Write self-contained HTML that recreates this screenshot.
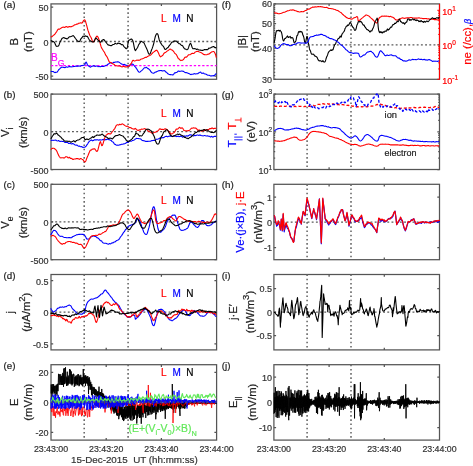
<!DOCTYPE html><html><head><meta charset="utf-8"><style>html,body{margin:0;padding:0;background:#fff;overflow:hidden}svg{display:block;will-change:transform} svg,text{font-family:"Liberation Sans",sans-serif} text{stroke-width:0.2px}</style></head><body><svg width="473" height="466" viewBox="0 0 473 466"><rect x="51" y="3.9" width="165.6" height="75.4" fill="none" stroke="#555555" stroke-width="1.25"/>
<path d="M106.2,79.3 V77.1 M106.2,3.9 V6.1 M161.4,79.3 V77.1 M161.4,3.9 V6.1 M51,7.2 H53.2 M216.6,7.2 H214.4 M51,41.5 H53.2 M216.6,41.5 H214.4 M51,76.1 H53.2 M216.6,76.1 H214.4" stroke="#555555" stroke-width="1.25" fill="none"/>
<path d="M84.2,3.9 V79.3" stroke="#6a6a6a" stroke-width="1.6" stroke-dasharray="1.6,2.6"/>
<path d="M128.1,3.9 V79.3" stroke="#6a6a6a" stroke-width="1.6" stroke-dasharray="1.6,2.6"/>
<path d="M51,41.5 H216.6" stroke="#5a5a5a" stroke-width="1.3" stroke-dasharray="1.9,2.3"/>
<path d="M51,65.6 H216.6" stroke="#ff00ff" stroke-width="1.2" stroke-dasharray="2.3,1.9"/>
<path d="M50.7,71.34 L51.3,71.49 L51.9,71.49 L52.5,71.5 L53.1,71.63 L53.7,71.83 L54.3,72.31 L54.9,72.63 L55.5,72.36 L56.1,72.2 L56.7,72.26 L57.3,71.91 L57.9,71.02 L58.5,70.01 L59.1,69.4 L59.7,68.83 L60.3,68.15 L60.9,67.7 L61.5,67.35 L62.1,67.14 L62.7,67.19 L63.3,67.33 L63.9,67.41 L64.5,67.6 L65.1,67.66 L65.7,67.2 L66.3,66.74 L66.9,66.92 L67.5,67.24 L68.1,67.07 L68.7,66.74 L69.3,66.67 L69.9,66.63 L70.5,66.78 L71.1,66.97 L71.7,66.76 L72.3,66.76 L72.9,66.82 L73.5,66.55 L74.1,66.44 L74.7,66.47 L75.3,66.26 L75.9,66.02 L76.5,66.28 L77.1,66.33 L77.7,66 L78.3,66.08 L78.9,66.02 L79.5,66 L80.1,66.33 L80.7,66.01 L81.3,65.44 L81.9,65.47 L82.5,65.54 L83.1,65.38 L83.7,65.23 L84.3,64.99 L84.9,64.69 L85.5,62.79 L86.1,61.99 L86.7,62.99 L87.3,64.48 L87.9,65.53 L88.5,66.04 L89.1,66.38 L89.7,66.79 L90.3,67.13 L90.9,66.94 L91.5,66.3 L92.1,66.18 L92.7,66.14 L93.3,65.72 L93.9,65.72 L94.5,66.1 L95.1,66.39 L95.7,66.32 L96.3,66.05 L96.9,66.02 L97.5,66.37 L98.1,66.69 L98.7,66.54 L99.3,66.49 L99.9,66.68 L100.5,66.67 L101.1,66.47 L101.7,66.33 L102.3,66.34 L102.9,66.43 L103.5,66.54 L104.1,66.32 L104.7,65.94 L105.3,65.65 L105.9,65.4 L106.5,65.22 L107.1,64.93 L107.7,64.45 L108.3,64.01 L108.9,63.69 L109.5,63.14 L110.1,62.82 L110.7,62.94 L111.3,62.95 L111.9,63.21 L112.5,63.29 L113.1,62.63 L113.7,62.23 L114.3,62.34 L114.9,62.28 L115.5,62.01 L116.1,61.93 L116.7,62.05 L117.3,61.89 L117.9,61.65 L118.5,61.89 L119.1,62.27 L119.7,62.66 L120.3,63.13 L120.9,63.55 L121.5,64.02 L122.1,64.28 L122.7,64.31 L123.3,64.43 L123.9,64.47 L124.5,64.4 L125.1,64.79 L125.7,65.17 L126.3,65.31 L126.9,65.6 L127.5,65.79 L128.1,66.01 L128.7,66.18 L129.3,66.17 L129.9,65.59 L130.5,64.56 L131.1,64.21 L131.7,64.23 L132.3,64.07 L132.9,64.28 L133.5,64.77 L134.1,65.49 L134.7,66.36 L135.3,66.96 L135.9,67.67 L136.5,68.58 L137.1,69.43 L137.7,70.46 L138.3,71.51 L138.9,72.05 L139.5,72.22 L140.1,71.93 L140.7,71.36 L141.3,70.86 L141.9,70.36 L142.5,69.83 L143.1,69.23 L143.7,68.5 L144.3,67.81 L144.9,67.71 L145.5,67.82 L146.1,67.42 L146.7,67.34 L147.3,68.09 L147.9,68.63 L148.5,68.78 L149.1,69.33 L149.7,69.93 L150.3,70.61 L150.9,71.68 L151.5,72.43 L152.1,72.75 L152.7,73.03 L153.3,73.23 L153.9,73.14 L154.5,72.78 L155.1,72.24 L155.7,71.99 L156.3,71.96 L156.9,71.53 L157.5,71.16 L158.1,70.95 L158.7,70.68 L159.3,70.64 L159.9,70.71 L160.5,70.56 L161.1,70.45 L161.7,70.63 L162.3,70.89 L162.9,70.92 L163.5,70.75 L164.1,70.51 L164.7,70.7 L165.3,71.51 L165.9,72.08 L166.5,72.36 L167.1,72.91 L167.7,73.54 L168.3,74.03 L168.9,74.26 L169.5,74.47 L170.1,74.65 L170.7,74.56 L171.3,74.69 L171.9,74.82 L172.5,74.84 L173.1,74.86 L173.7,74.31 L174.3,73.25 L174.9,72.8 L175.5,72.83 L176.1,72.51 L176.7,72.35 L177.3,72.1 L177.9,71.29 L178.5,70.95 L179.1,71.3 L179.7,71.39 L180.3,71.26 L180.9,71.2 L181.5,70.97 L182.1,70.98 L182.7,71.27 L183.3,71.33 L183.9,71.53 L184.5,72.12 L185.1,72.54 L185.7,72.64 L186.3,72.63 L186.9,72.73 L187.5,72.92 L188.1,73.24 L188.7,73.6 L189.3,73.79 L189.9,74.09 L190.5,74.52 L191.1,74.58 L191.7,74.24 L192.3,74.26 L192.9,74.29 L193.5,73.95 L194.1,73.66 L194.7,73.8 L195.3,74.04 L195.9,73.91 L196.5,73.7 L197.1,73.71 L197.7,73.78 L198.3,73.3 L198.9,72.71 L199.5,72.59 L200.1,72.23 L200.7,72.06 L201.3,72.79 L201.9,73.46 L202.5,73.26 L203.1,72.92 L203.7,73.21 L204.3,73.78 L204.9,73.97 L205.5,74.01 L206.1,74.21 L206.7,74.55 L207.3,74.97 L207.9,75.21 L208.5,75.18 L209.1,75.26 L209.7,75.56 L210.3,75.87 L210.9,76.02 L211.5,75.87 L212.1,75.88 L212.7,75.78 L213.3,75.63 L213.9,75.87 L214.5,75.51 L215.1,74.62 L215.7,74.03 L216.3,73.47" fill="none" stroke="#0000ff" stroke-width="1.1" stroke-linejoin="round" />
<path d="M50.7,36.88 L51.3,36.83 L51.9,36.74 L52.5,36.18 L53.1,35.54 L53.7,35.07 L54.3,34.72 L54.9,34.18 L55.5,33.22 L56.1,32.34 L56.7,31.57 L57.3,30.5 L57.9,29.47 L58.5,29.04 L59.1,29.21 L59.7,29.1 L60.3,28.66 L60.9,28.25 L61.5,27.85 L62.1,27.54 L62.7,27.26 L63.3,27.09 L63.9,27.2 L64.5,27.37 L65.1,27.17 L65.7,26.8 L66.3,26.57 L66.9,26.77 L67.5,27.2 L68.1,27.16 L68.7,26.87 L69.3,26.61 L69.9,26.48 L70.5,26.72 L71.1,26.85 L71.7,26.55 L72.3,26.26 L72.9,26.09 L73.5,25.68 L74.1,25.14 L74.7,24.85 L75.3,24.72 L75.9,24.52 L76.5,24.16 L77.1,24.13 L77.7,24.07 L78.3,23.51 L78.9,23.15 L79.5,23.15 L80.1,22.95 L80.7,22.73 L81.3,23.02 L81.9,23.11 L82.5,22.39 L83.1,21.27 L83.7,20.32 L84.3,19.85 L84.9,19.98 L85.5,21.26 L86.1,23.35 L86.7,25.43 L87.3,27.88 L87.9,30.18 L88.5,31.8 L89.1,33.48 L89.7,35.15 L90.3,36.27 L90.9,37.27 L91.5,38.56 L92.1,40.19 L92.7,41.62 L93.3,42.06 L93.9,41.64 L94.5,40.66 L95.1,39.46 L95.7,37.99 L96.3,36.69 L96.9,36.08 L97.5,36.41 L98.1,37.28 L98.7,38.73 L99.3,40.51 L99.9,42.4 L100.5,44.59 L101.1,46.71 L101.7,48.15 L102.3,49.02 L102.9,49.96 L103.5,51.03 L104.1,51.74 L104.7,52.79 L105.3,54.34 L105.9,55.46 L106.5,56.14 L107.1,57 L107.7,58.3 L108.3,59.67 L108.9,61.13 L109.5,62.23 L110.1,62.44 L110.7,62.41 L111.3,62.76 L111.9,63.35 L112.5,63.67 L113.1,63.87 L113.7,64.18 L114.3,64.57 L114.9,65.22 L115.5,65.75 L116.1,65.78 L116.7,65.73 L117.3,65.9 L117.9,66.01 L118.5,66.02 L119.1,66.01 L119.7,65.87 L120.3,66.09 L120.9,66.57 L121.5,66.71 L122.1,66.84 L122.7,66.8 L123.3,66.37 L123.9,66.41 L124.5,66.82 L125.1,66.9 L125.7,66.9 L126.3,67.01 L126.9,66.73 L127.5,66.21 L128.1,66.16 L128.7,66.34 L129.3,65.77 L129.9,64.9 L130.5,64.46 L131.1,63.69 L131.7,62.42 L132.3,61.16 L132.9,60.34 L133.5,60.39 L134.1,60.94 L134.7,60.99 L135.3,60.77 L135.9,60.52 L136.5,60.23 L137.1,60.02 L137.7,60.23 L138.3,60.36 L138.9,60.12 L139.5,60.15 L140.1,59.89 L140.7,59.31 L141.3,59.07 L141.9,58.98 L142.5,58.8 L143.1,58.46 L143.7,58.15 L144.3,57.91 L144.9,57.51 L145.5,57.25 L146.1,57.38 L146.7,57.19 L147.3,56.61 L147.9,56.31 L148.5,55.98 L149.1,55.72 L149.7,55.58 L150.3,55.27 L150.9,54.83 L151.5,54.13 L152.1,53.5 L152.7,52.87 L153.3,52.26 L153.9,51.89 L154.5,51.47 L155.1,51.06 L155.7,50.54 L156.3,50.15 L156.9,50.37 L157.5,51.13 L158.1,52.2 L158.7,53.53 L159.3,55.02 L159.9,56.2 L160.5,56.82 L161.1,56.5 L161.7,55.91 L162.3,55.75 L162.9,55.2 L163.5,54.01 L164.1,53.19 L164.7,52.76 L165.3,52.46 L165.9,52.19 L166.5,51.59 L167.1,51.13 L167.7,50.82 L168.3,50.36 L168.9,49.94 L169.5,49.44 L170.1,48.95 L170.7,49.17 L171.3,49.8 L171.9,49.98 L172.5,50.25 L173.1,50.84 L173.7,51.53 L174.3,52.54 L174.9,53.49 L175.5,53.82 L176.1,54.32 L176.7,55.29 L177.3,56.46 L177.9,57.85 L178.5,58.74 L179.1,59 L179.7,59.46 L180.3,60.34 L180.9,60.62 L181.5,60.25 L182.1,60.2 L182.7,60.12 L183.3,59.65 L183.9,58.82 L184.5,57.93 L185.1,57.17 L185.7,56.95 L186.3,57.15 L186.9,56.8 L187.5,56.02 L188.1,55.27 L188.7,54.79 L189.3,54.75 L189.9,54.68 L190.5,54.39 L191.1,53.94 L191.7,53.51 L192.3,53.36 L192.9,53.4 L193.5,53.54 L194.1,53.32 L194.7,52.53 L195.3,51.96 L195.9,51.76 L196.5,51.53 L197.1,51.41 L197.7,51.41 L198.3,51.49 L198.9,51.81 L199.5,52.1 L200.1,52.33 L200.7,52.55 L201.3,52.71 L201.9,53.06 L202.5,53.56 L203.1,54.04 L203.7,54.5 L204.3,54.65 L204.9,54.67 L205.5,54.82 L206.1,54.78 L206.7,54.74 L207.3,54.49 L207.9,54.1 L208.5,54.11 L209.1,53.99 L209.7,53.5 L210.3,53 L210.9,52.51 L211.5,52.08 L212.1,51.82 L212.7,51.66 L213.3,51.49 L213.9,51.55 L214.5,52.24 L215.1,53.45 L215.7,55.19 L216.3,57.57" fill="none" stroke="#ff0000" stroke-width="1.1" stroke-linejoin="round" />
<path d="M50.7,40.82 L51.3,40.67 L51.9,41.04 L52.5,41.44 L53.1,41.64 L53.7,41.84 L54.3,42.16 L54.9,43.29 L55.5,44.83 L56.1,45.98 L56.7,46.34 L57.3,46.26 L57.9,46.3 L58.5,45.89 L59.1,44.69 L59.7,42.92 L60.3,41.41 L60.9,40.61 L61.5,39.37 L62.1,38.27 L62.7,38.12 L63.3,37.79 L63.9,37.53 L64.5,37.98 L65.1,38.39 L65.7,38.29 L66.3,38.47 L66.9,38.97 L67.5,38.83 L68.1,38.14 L68.7,37.45 L69.3,36.89 L69.9,36.71 L70.5,36.74 L71.1,36.49 L71.7,36.23 L72.3,35.97 L72.9,35.6 L73.5,35.78 L74.1,36.51 L74.7,37.34 L75.3,38.24 L75.9,39 L76.5,39.81 L77.1,40.65 L77.7,40.99 L78.3,41.34 L78.9,41.74 L79.5,41.5 L80.1,40.43 L80.7,39.15 L81.3,38.31 L81.9,37.73 L82.5,36.89 L83.1,36.15 L83.7,36.19 L84.3,36.41 L84.9,36.12 L85.5,35.87 L86.1,36.23 L86.7,36.4 L87.3,36.37 L87.9,37.3 L88.5,38.54 L89.1,39.47 L89.7,40.35 L90.3,40.83 L90.9,41.08 L91.5,41.55 L92.1,41.9 L92.7,41.84 L93.3,41.77 L93.9,41.65 L94.5,40.68 L95.1,39.02 L95.7,38.09 L96.3,38.33 L96.9,38.9 L97.5,39.52 L98.1,40.15 L98.7,40.52 L99.3,41.06 L99.9,41.79 L100.5,42.27 L101.1,41.87 L101.7,40.72 L102.3,40.1 L102.9,39.97 L103.5,39.54 L104.1,39.66 L104.7,40.67 L105.3,41.55 L105.9,42.09 L106.5,42.84 L107.1,43.75 L107.7,44.52 L108.3,45.04 L108.9,45.1 L109.5,45.26 L110.1,45.55 L110.7,45.6 L111.3,45.67 L111.9,45.35 L112.5,44.8 L113.1,44.55 L113.7,44.43 L114.3,44.18 L114.9,43.6 L115.5,43.36 L116.1,43.76 L116.7,44.07 L117.3,43.74 L117.9,43.16 L118.5,43.22 L119.1,43.6 L119.7,43.48 L120.3,43.52 L120.9,44.21 L121.5,44.71 L122.1,44.64 L122.7,44.7 L123.3,45.51 L123.9,46.56 L124.5,47.14 L125.1,47.73 L125.7,48.44 L126.3,48.73 L126.9,48.45 L127.5,46.88 L128.1,42.69 L128.7,40.5 L129.3,39.99 L129.9,39.87 L130.5,39.43 L131.1,38.99 L131.7,39.12 L132.3,39.77 L132.9,40.9 L133.5,43.32 L134.1,46.61 L134.7,49.27 L135.3,50.65 L135.9,50.12 L136.5,48.93 L137.1,48.24 L137.7,47.31 L138.3,45.64 L138.9,44.33 L139.5,43.58 L140.1,42.65 L140.7,41.63 L141.3,41.2 L141.9,41.66 L142.5,42.1 L143.1,42.37 L143.7,42.72 L144.3,43.4 L144.9,44.85 L145.5,46.25 L146.1,47.4 L146.7,48.77 L147.3,50.14 L147.9,51.8 L148.5,53.49 L149.1,54.28 L149.7,54.12 L150.3,53.38 L150.9,51.76 L151.5,50 L152.1,48.65 L152.7,46.91 L153.3,44.97 L153.9,42.87 L154.5,40.01 L155.1,37.29 L155.7,35.44 L156.3,34.18 L156.9,33.66 L157.5,33.74 L158.1,34.98 L158.7,37.62 L159.3,40 L159.9,41.65 L160.5,42.75 L161.1,43.64 L161.7,44.56 L162.3,45.34 L162.9,45.9 L163.5,46.53 L164.1,47.72 L164.7,48.99 L165.3,49.49 L165.9,49.29 L166.5,48.65 L167.1,48.11 L167.7,47.82 L168.3,47.09 L168.9,46.13 L169.5,45.37 L170.1,44.61 L170.7,43.8 L171.3,42.94 L171.9,42.11 L172.5,41.96 L173.1,41.99 L173.7,41.34 L174.3,40.9 L174.9,41.11 L175.5,41.1 L176.1,40.94 L176.7,41.43 L177.3,42.21 L177.9,42.62 L178.5,43.17 L179.1,43.72 L179.7,43.83 L180.3,44.07 L180.9,44.79 L181.5,45.34 L182.1,45.39 L182.7,45.89 L183.3,46.91 L183.9,47.89 L184.5,48.75 L185.1,49.07 L185.7,49.1 L186.3,49.55 L186.9,49.7 L187.5,49.47 L188.1,48.84 L188.7,47.16 L189.3,45.2 L189.9,43.94 L190.5,43.4 L191.1,44.09 L191.7,46.09 L192.3,47.8 L192.9,48.73 L193.5,48.68 L194.1,48.43 L194.7,48.62 L195.3,48.79 L195.9,49.05 L196.5,49.43 L197.1,49.25 L197.7,49.15 L198.3,49.7 L198.9,49.98 L199.5,50 L200.1,50.11 L200.7,50.16 L201.3,50.26 L201.9,50.42 L202.5,50.36 L203.1,50.22 L203.7,49.93 L204.3,49.53 L204.9,49.6 L205.5,49.78 L206.1,49.6 L206.7,49.54 L207.3,49.82 L207.9,49.43 L208.5,48.48 L209.1,48.08 L209.7,48.17 L210.3,48.03 L210.9,47.65 L211.5,47.35 L212.1,47.11 L212.7,46.88 L213.3,46.56 L213.9,46.62 L214.5,47.33 L215.1,47.72 L215.7,47.58 L216.3,48.11" fill="none" stroke="#000000" stroke-width="1.1" stroke-linejoin="round" />
<text x="50.9" y="60.6" font-size="10" fill="#ff00ff" stroke="#ff00ff" text-anchor="start" >B</text>
<text x="57.8" y="65.7" font-size="8.6" fill="#ff00ff" stroke="#ff00ff" text-anchor="start" >G</text>
<text x="163.9" y="22.1" font-size="10" fill="#ff0000" stroke="#ff0000" text-anchor="middle" >L</text>
<text x="176.6" y="22.1" font-size="10" fill="#0000ff" stroke="#0000ff" text-anchor="middle" >M</text>
<text x="189.9" y="22.1" font-size="10" fill="#000" stroke="#000" text-anchor="middle" >N</text>
<text x="48.6" y="11.2" font-size="9" fill="#333" stroke="#333" text-anchor="end" >50</text>
<text x="48.6" y="45.5" font-size="9" fill="#333" stroke="#333" text-anchor="end" >0</text>
<text x="48.6" y="80.1" font-size="9" fill="#333" stroke="#333" text-anchor="end" >-50</text>
<rect x="51" y="94.1" width="165.6" height="75.4" fill="none" stroke="#555555" stroke-width="1.25"/>
<path d="M106.2,169.5 V167.3 M106.2,94.1 V96.3 M161.4,169.5 V167.3 M161.4,94.1 V96.3 M51,94.1 H53.2 M216.6,94.1 H214.4 M51,131.6 H53.2 M216.6,131.6 H214.4 M51,169.5 H53.2 M216.6,169.5 H214.4" stroke="#555555" stroke-width="1.25" fill="none"/>
<path d="M84.2,94.1 V169.5" stroke="#6a6a6a" stroke-width="1.6" stroke-dasharray="1.6,2.6"/>
<path d="M128.1,94.1 V169.5" stroke="#6a6a6a" stroke-width="1.6" stroke-dasharray="1.6,2.6"/>
<path d="M51,131.6 H216.6" stroke="#5a5a5a" stroke-width="1.3" stroke-dasharray="1.9,2.3"/>
<path d="M50.7,140.29 L51.3,140.4 L51.9,140.26 L52.5,140.29 L53.1,140.42 L53.7,140.29 L54.3,140.28 L54.9,140.25 L55.5,140.04 L56.1,140.18 L56.7,140.64 L57.3,140.92 L57.9,140.77 L58.5,140.55 L59.1,140.9 L59.7,141.41 L60.3,141.5 L60.9,141.28 L61.5,141.27 L62.1,141.48 L62.7,141.38 L63.3,141.22 L63.9,141.62 L64.5,142.19 L65.1,142.4 L65.7,142.4 L66.3,142.42 L66.9,142.51 L67.5,142.51 L68.1,142.9 L68.7,143.56 L69.3,143.45 L69.9,143.13 L70.5,143.29 L71.1,143.72 L71.7,143.94 L72.3,143.64 L72.9,143.47 L73.5,143.88 L74.1,144.32 L74.7,144.69 L75.3,145.05 L75.9,145.18 L76.5,145.1 L77.1,145.08 L77.7,145.66 L78.3,146.22 L78.9,146.18 L79.5,146.1 L80.1,146.45 L80.7,146.76 L81.3,146.63 L81.9,146.79 L82.5,147.27 L83.1,147.41 L83.7,147.32 L84.3,147.25 L84.9,147.11 L85.5,146.8 L86.1,146.13 L86.7,145.19 L87.3,144.45 L87.9,143.52 L88.5,142.29 L89.1,141.56 L89.7,141.06 L90.3,140.47 L90.9,140.11 L91.5,140.03 L92.1,140.43 L92.7,140.85 L93.3,140.58 L93.9,140.04 L94.5,139.89 L95.1,139.83 L95.7,139.92 L96.3,139.92 L96.9,139.69 L97.5,139.8 L98.1,140.02 L98.7,140.11 L99.3,139.9 L99.9,139.67 L100.5,139.87 L101.1,140.03 L101.7,139.96 L102.3,139.85 L102.9,139.42 L103.5,139.21 L104.1,139.68 L104.7,139.88 L105.3,139.64 L105.9,139.61 L106.5,139.61 L107.1,139.31 L107.7,139.14 L108.3,139.47 L108.9,139.67 L109.5,139.69 L110.1,140.03 L110.7,140.18 L111.3,140.56 L111.9,141.43 L112.5,141.79 L113.1,142.02 L113.7,142.84 L114.3,143.86 L114.9,144.39 L115.5,144.55 L116.1,144.93 L116.7,145.19 L117.3,145.17 L117.9,145.24 L118.5,145.18 L119.1,144.95 L119.7,144.83 L120.3,144.82 L120.9,144.62 L121.5,144.26 L122.1,144.19 L122.7,144.23 L123.3,144.03 L123.9,143.86 L124.5,143.69 L125.1,143.53 L125.7,143.24 L126.3,142.66 L126.9,142.33 L127.5,142.33 L128.1,142.51 L128.7,142.09 L129.3,141.08 L129.9,140.87 L130.5,141.21 L131.1,141.23 L131.7,140.93 L132.3,140.58 L132.9,140.42 L133.5,140.24 L134.1,140.01 L134.7,139.57 L135.3,139.02 L135.9,138.76 L136.5,138.4 L137.1,138.52 L137.7,138.47 L138.3,138.45 L138.9,138.71 L139.5,138.75 L140.1,138.72 L140.7,138.98 L141.3,139.57 L141.9,140.18 L142.5,140.46 L143.1,140.6 L143.7,140.82 L144.3,140.9 L144.9,141 L145.5,141.38 L146.1,141.55 L146.7,141.36 L147.3,141.28 L147.9,141.36 L148.5,141.27 L149.1,141.23 L149.7,141.31 L150.3,141.17 L150.9,140.89 L151.5,140.64 L152.1,140.59 L152.7,140.46 L153.3,140.37 L153.9,140.5 L154.5,140.42 L155.1,140.32 L155.7,139.95 L156.3,139.34 L156.9,139.16 L157.5,139.21 L158.1,139.07 L158.7,138.83 L159.3,138.41 L159.9,138.04 L160.5,137.85 L161.1,137.74 L161.7,137.86 L162.3,137.78 L162.9,137.56 L163.5,137.61 L164.1,137.43 L164.7,136.88 L165.3,136.52 L165.9,136.37 L166.5,136.2 L167.1,136.52 L167.7,136.83 L168.3,136.57 L168.9,136.29 L169.5,136.09 L170.1,136.08 L170.7,136.08 L171.3,136.08 L171.9,136.35 L172.5,136.51 L173.1,136.25 L173.7,135.92 L174.3,135.87 L174.9,136.06 L175.5,136.25 L176.1,136.37 L176.7,136.59 L177.3,136.53 L177.9,136.11 L178.5,136.27 L179.1,136.68 L179.7,136.5 L180.3,136.33 L180.9,136.26 L181.5,136.23 L182.1,136.72 L182.7,137.28 L183.3,136.91 L183.9,136.14 L184.5,135.89 L185.1,136.13 L185.7,136.22 L186.3,135.87 L186.9,135.77 L187.5,136.09 L188.1,136.03 L188.7,135.55 L189.3,135.07 L189.9,134.9 L190.5,134.8 L191.1,134.85 L191.7,135.18 L192.3,135.32 L192.9,135.57 L193.5,135.97 L194.1,135.67 L194.7,135.27 L195.3,135.53 L195.9,135.64 L196.5,135.2 L197.1,135.04 L197.7,135.07 L198.3,135.22 L198.9,135.36 L199.5,134.97 L200.1,134.96 L200.7,135.38 L201.3,135.59 L201.9,135.75 L202.5,135.81 L203.1,135.92 L203.7,135.83 L204.3,135.49 L204.9,135.57 L205.5,135.8 L206.1,135.97 L206.7,135.99 L207.3,135.79 L207.9,135.93 L208.5,136.3 L209.1,136.27 L209.7,136.33 L210.3,136.95 L210.9,136.92 L211.5,136.27 L212.1,136.55 L212.7,137.14 L213.3,136.95 L213.9,136.58 L214.5,136.4 L215.1,136.34 L215.7,136.37 L216.3,136.43" fill="none" stroke="#0000ff" stroke-width="1.1" stroke-linejoin="round" />
<path d="M50.7,149.56 L51.3,149.15 L51.9,148.61 L52.5,148.33 L53.1,148.27 L53.7,148.2 L54.3,148.47 L54.9,148.99 L55.5,149.34 L56.1,150.02 L56.7,151.09 L57.3,152.35 L57.9,153.69 L58.5,155.12 L59.1,156.25 L59.7,157.02 L60.3,157.8 L60.9,157.95 L61.5,157.72 L62.1,157.71 L62.7,157.81 L63.3,157.85 L63.9,157.91 L64.5,157.95 L65.1,157.32 L65.7,156.72 L66.3,156.68 L66.9,156.77 L67.5,157.34 L68.1,157.94 L68.7,157.76 L69.3,157.29 L69.9,157.66 L70.5,158.41 L71.1,158.44 L71.7,158.42 L72.3,159.03 L72.9,159.57 L73.5,159.38 L74.1,159 L74.7,159.03 L75.3,159.03 L75.9,158.68 L76.5,158.54 L77.1,158.64 L77.7,158.6 L78.3,158.69 L78.9,159.16 L79.5,159.33 L80.1,158.78 L80.7,158.51 L81.3,158.73 L81.9,159.11 L82.5,159.45 L83.1,159.83 L83.7,160.75 L84.3,161.63 L84.9,161.92 L85.5,161.61 L86.1,160.27 L86.7,158.49 L87.3,156.99 L87.9,155.69 L88.5,154.23 L89.1,152.71 L89.7,151.36 L90.3,150.31 L90.9,150.1 L91.5,149.99 L92.1,149.17 L92.7,148.96 L93.3,149.12 L93.9,148.85 L94.5,148.69 L95.1,149.19 L95.7,150.22 L96.3,151.1 L96.9,151.42 L97.5,150.95 L98.1,149.2 L98.7,146.78 L99.3,144.44 L99.9,142.46 L100.5,141.65 L101.1,143.68 L101.7,145.63 L102.3,145.41 L102.9,144 L103.5,142.06 L104.1,139.83 L104.7,138.11 L105.3,136.72 L105.9,135.45 L106.5,134.86 L107.1,134.49 L107.7,133.94 L108.3,133.48 L108.9,133.49 L109.5,133.85 L110.1,134.08 L110.7,133.83 L111.3,133.13 L111.9,132.28 L112.5,131.51 L113.1,130.74 L113.7,129.8 L114.3,129.07 L114.9,128.31 L115.5,126.92 L116.1,125.7 L116.7,125.12 L117.3,124.72 L117.9,124.78 L118.5,125.16 L119.1,124.73 L119.7,124.2 L120.3,124.54 L120.9,124.71 L121.5,124.2 L122.1,123.88 L122.7,124.03 L123.3,124.38 L123.9,124.81 L124.5,125.26 L125.1,125.66 L125.7,126.04 L126.3,126.38 L126.9,126.27 L127.5,126.1 L128.1,126.6 L128.7,127.12 L129.3,127.39 L129.9,127.69 L130.5,127.6 L131.1,127.77 L131.7,128.45 L132.3,128.67 L132.9,128.69 L133.5,129.01 L134.1,129.22 L134.7,128.79 L135.3,128.34 L135.9,128.88 L136.5,129.69 L137.1,129.93 L137.7,130.38 L138.3,130.54 L138.9,129.96 L139.5,129.83 L140.1,130.14 L140.7,129.59 L141.3,129.04 L141.9,129.23 L142.5,129.21 L143.1,129.02 L143.7,129.03 L144.3,128.77 L144.9,128.65 L145.5,129.11 L146.1,129.42 L146.7,129.49 L147.3,129.83 L147.9,130.64 L148.5,131.31 L149.1,131.4 L149.7,131.68 L150.3,131.93 L150.9,132.18 L151.5,132.75 L152.1,133.22 L152.7,133.34 L153.3,132.98 L153.9,132.45 L154.5,132.25 L155.1,132.24 L155.7,132.12 L156.3,131.78 L156.9,131.29 L157.5,131.04 L158.1,130.79 L158.7,130 L159.3,129.17 L159.9,128.81 L160.5,129.07 L161.1,129.42 L161.7,129.32 L162.3,129.35 L162.9,129.55 L163.5,129.61 L164.1,129.36 L164.7,128.89 L165.3,128.79 L165.9,128.98 L166.5,129.17 L167.1,129.44 L167.7,130.29 L168.3,131.06 L168.9,131.37 L169.5,132.04 L170.1,132.8 L170.7,133.53 L171.3,134.02 L171.9,134.02 L172.5,133.59 L173.1,133.04 L173.7,132.74 L174.3,132.24 L174.9,131.64 L175.5,130.6 L176.1,129.31 L176.7,128.94 L177.3,129.1 L177.9,128.91 L178.5,128.31 L179.1,127.56 L179.7,127.32 L180.3,127.97 L180.9,128.38 L181.5,128.1 L182.1,127.86 L182.7,128.13 L183.3,129.35 L183.9,130.39 L184.5,130.56 L185.1,130.71 L185.7,130.69 L186.3,130.73 L186.9,130.95 L187.5,130.67 L188.1,130.52 L188.7,130.64 L189.3,130.43 L189.9,129.93 L190.5,129.25 L191.1,128.48 L191.7,128.1 L192.3,128.17 L192.9,128.01 L193.5,127.77 L194.1,127.92 L194.7,128.09 L195.3,128.05 L195.9,128.15 L196.5,128.61 L197.1,129.36 L197.7,130.16 L198.3,130.36 L198.9,129.87 L199.5,130.03 L200.1,130.64 L200.7,130.68 L201.3,130.91 L201.9,131.27 L202.5,130.88 L203.1,130.29 L203.7,130.3 L204.3,130.67 L204.9,130.52 L205.5,129.91 L206.1,129.81 L206.7,130.12 L207.3,129.97 L207.9,129.58 L208.5,129.56 L209.1,129.2 L209.7,128.55 L210.3,128.62 L210.9,128.8 L211.5,128.28 L212.1,127.84 L212.7,128.22 L213.3,128.85 L213.9,128.6 L214.5,128.23 L215.1,128.47 L215.7,128.3 L216.3,128.13" fill="none" stroke="#ff0000" stroke-width="1.1" stroke-linejoin="round" />
<path d="M50.7,139.02 L51.3,138.27 L51.9,136.97 L52.5,135.92 L53.1,135.28 L53.7,134.16 L54.3,133.58 L54.9,134.06 L55.5,133.99 L56.1,133.37 L56.7,133.11 L57.3,133.76 L57.9,134.75 L58.5,135.33 L59.1,135.61 L59.7,136.1 L60.3,136.78 L60.9,137.13 L61.5,137.83 L62.1,138.72 L62.7,139.13 L63.3,139.54 L63.9,140.29 L64.5,141.09 L65.1,141.25 L65.7,141.17 L66.3,141.25 L66.9,141.09 L67.5,141.28 L68.1,141.53 L68.7,141.33 L69.3,141.23 L69.9,141.34 L70.5,141.89 L71.1,142.2 L71.7,141.84 L72.3,141.53 L72.9,141.2 L73.5,140.8 L74.1,140.97 L74.7,141.71 L75.3,141.9 L75.9,141.07 L76.5,140.41 L77.1,140.26 L77.7,140.09 L78.3,139.94 L78.9,139.7 L79.5,139.42 L80.1,139.09 L80.7,138.57 L81.3,138.02 L81.9,137.64 L82.5,137.51 L83.1,137.48 L83.7,137.61 L84.3,138.1 L84.9,139.62 L85.5,139.76 L86.1,139.27 L86.7,139 L87.3,139.11 L87.9,139.53 L88.5,139.71 L89.1,139.18 L89.7,138.71 L90.3,138.38 L90.9,137.95 L91.5,137.82 L92.1,137.05 L92.7,136.64 L93.3,137.53 L93.9,137.38 L94.5,136.37 L95.1,136.04 L95.7,135.92 L96.3,135.51 L96.9,135 L97.5,134.97 L98.1,135.19 L98.7,135.23 L99.3,135.13 L99.9,135.16 L100.5,135.16 L101.1,134.74 L101.7,134.33 L102.3,134.07 L102.9,134.58 L103.5,135.44 L104.1,135.77 L104.7,136.21 L105.3,136.54 L105.9,136.68 L106.5,137.1 L107.1,137.51 L107.7,137.95 L108.3,138.52 L108.9,138.64 L109.5,138.27 L110.1,138.14 L110.7,138.32 L111.3,138.37 L111.9,138.71 L112.5,138.85 L113.1,138.17 L113.7,137.34 L114.3,136.78 L114.9,136.25 L115.5,135.82 L116.1,135.59 L116.7,135.47 L117.3,135.47 L117.9,135.39 L118.5,135.04 L119.1,134.59 L119.7,134.62 L120.3,135.08 L120.9,135.36 L121.5,135.56 L122.1,135.79 L122.7,135.99 L123.3,136.24 L123.9,137.18 L124.5,138.03 L125.1,138.29 L125.7,139.29 L126.3,140.38 L126.9,140.81 L127.5,141.36 L128.1,141.65 L128.7,141.45 L129.3,141.17 L129.9,140.67 L130.5,140.09 L131.1,139.65 L131.7,139.19 L132.3,138.65 L132.9,137.68 L133.5,136.81 L134.1,136.54 L134.7,135.88 L135.3,134.58 L135.9,132.86 L136.5,133.22 L137.1,133.88 L137.7,134.09 L138.3,134.25 L138.9,135.43 L139.5,136.09 L140.1,135.66 L140.7,135.84 L141.3,135.96 L141.9,135.64 L142.5,135.05 L143.1,133.92 L143.7,133.22 L144.3,132.6 L144.9,131.29 L145.5,130.19 L146.1,129.53 L146.7,129.29 L147.3,129.26 L147.9,129.14 L148.5,129.19 L149.1,129.45 L149.7,130.06 L150.3,130.31 L150.9,130.48 L151.5,131.46 L152.1,132.42 L152.7,133.59 L153.3,134.89 L153.9,135.71 L154.5,137.24 L155.1,139.46 L155.7,141.3 L156.3,142.85 L156.9,143.66 L157.5,143.89 L158.1,144.12 L158.7,143.86 L159.3,142.49 L159.9,140.48 L160.5,138.61 L161.1,137.07 L161.7,136.17 L162.3,135.46 L162.9,133.92 L163.5,132.27 L164.1,131.49 L164.7,131.17 L165.3,130.65 L165.9,130.01 L166.5,129.85 L167.1,130.07 L167.7,130.3 L168.3,131.24 L168.9,132.59 L169.5,133.48 L170.1,134.45 L170.7,135.41 L171.3,135.77 L171.9,136.13 L172.5,136.59 L173.1,136.33 L173.7,135.89 L174.3,135.89 L174.9,135.6 L175.5,135.12 L176.1,134.98 L176.7,134.6 L177.3,134.15 L177.9,134.29 L178.5,134.47 L179.1,134.24 L179.7,134.12 L180.3,134.54 L180.9,135.1 L181.5,135.27 L182.1,135.49 L182.7,135.89 L183.3,136.09 L183.9,136.69 L184.5,137.35 L185.1,137.33 L185.7,137.62 L186.3,138.19 L186.9,138.22 L187.5,138.28 L188.1,138.7 L188.7,138.52 L189.3,137.76 L189.9,137.45 L190.5,137.23 L191.1,136.74 L191.7,136.22 L192.3,135.79 L192.9,135.26 L193.5,134.51 L194.1,133.99 L194.7,133.42 L195.3,132.68 L195.9,132.52 L196.5,132.54 L197.1,131.92 L197.7,131.26 L198.3,130.93 L198.9,130.74 L199.5,130.88 L200.1,130.82 L200.7,130.35 L201.3,130.35 L201.9,130.5 L202.5,130.22 L203.1,129.93 L203.7,129.64 L204.3,129.52 L204.9,130.03 L205.5,130.5 L206.1,130.12 L206.7,129.78 L207.3,129.93 L207.9,130.34 L208.5,130.81 L209.1,131.33 L209.7,131.82 L210.3,132.03 L210.9,132.26 L211.5,132.45 L212.1,132.34 L212.7,132.22 L213.3,132.48 L213.9,132.7 L214.5,132.19 L215.1,131.58 L215.7,131.16 L216.3,130.15" fill="none" stroke="#000000" stroke-width="1.1" stroke-linejoin="round" />
<text x="163.9" y="117.4" font-size="10" fill="#ff0000" stroke="#ff0000" text-anchor="middle" >L</text>
<text x="176.6" y="117.4" font-size="10" fill="#0000ff" stroke="#0000ff" text-anchor="middle" >M</text>
<text x="189.9" y="117.4" font-size="10" fill="#000" stroke="#000" text-anchor="middle" >N</text>
<text x="48.6" y="98.1" font-size="9" fill="#333" stroke="#333" text-anchor="end" >500</text>
<text x="48.6" y="135.6" font-size="9" fill="#333" stroke="#333" text-anchor="end" >0</text>
<text x="48.6" y="173.5" font-size="9" fill="#333" stroke="#333" text-anchor="end" >-500</text>
<rect x="51" y="184.3" width="165.6" height="75.4" fill="none" stroke="#555555" stroke-width="1.25"/>
<path d="M106.2,259.7 V257.5 M106.2,184.3 V186.5 M161.4,259.7 V257.5 M161.4,184.3 V186.5 M51,184.3 H53.2 M216.6,184.3 H214.4 M51,221.9 H53.2 M216.6,221.9 H214.4 M51,259.7 H53.2 M216.6,259.7 H214.4" stroke="#555555" stroke-width="1.25" fill="none"/>
<path d="M84.2,184.3 V259.7" stroke="#6a6a6a" stroke-width="1.6" stroke-dasharray="1.6,2.6"/>
<path d="M128.1,184.3 V259.7" stroke="#6a6a6a" stroke-width="1.6" stroke-dasharray="1.6,2.6"/>
<path d="M51,221.9 H216.6" stroke="#5a5a5a" stroke-width="1.3" stroke-dasharray="1.9,2.3"/>
<path d="M50.7,235.09 L51.3,234.05 L51.9,233.01 L52.5,231.98 L53.1,230.91 L53.7,230.39 L54.3,230.41 L54.9,230.56 L55.5,230.86 L56.1,231.41 L56.7,232.2 L57.3,233.27 L57.9,234.15 L58.5,234.78 L59.1,235.6 L59.7,236.06 L60.3,236.22 L60.9,236.39 L61.5,236.28 L62.1,236.27 L62.7,236.62 L63.3,237.03 L63.9,237.28 L64.5,237.45 L65.1,237.46 L65.7,237.45 L66.3,237.65 L66.9,237.68 L67.5,237.71 L68.1,237.79 L68.7,237.65 L69.3,237.53 L69.9,237.62 L70.5,237.81 L71.1,237.85 L71.7,237.53 L72.3,236.98 L72.9,236.56 L73.5,236.37 L74.1,236.05 L74.7,235.68 L75.3,235.57 L75.9,235.18 L76.5,234.74 L77.1,234.72 L77.7,234.66 L78.3,234.48 L78.9,234.34 L79.5,234.25 L80.1,234.33 L80.7,234.29 L81.3,234.21 L81.9,234.34 L82.5,234.37 L83.1,234.33 L83.7,234.44 L84.3,234.95 L84.9,235.69 L85.5,236.58 L86.1,237.86 L86.7,238.87 L87.3,239.1 L87.9,238.97 L88.5,239.08 L89.1,238.95 L89.7,238.35 L90.3,237.6 L90.9,236.98 L91.5,236.74 L92.1,236.54 L92.7,236.16 L93.3,235.88 L93.9,235.98 L94.5,236.2 L95.1,236.38 L95.7,236.45 L96.3,236.99 L96.9,237.72 L97.5,237.85 L98.1,238.1 L98.7,238.63 L99.3,239.26 L99.9,240.2 L100.5,240.79 L101.1,240.76 L101.7,241.08 L102.3,242.02 L102.9,242.68 L103.5,243.06 L104.1,243.22 L104.7,243.23 L105.3,243.25 L105.9,243.26 L106.5,243.45 L107.1,243.82 L107.7,244.02 L108.3,244.21 L108.9,243.91 L109.5,243.62 L110.1,243.8 L110.7,243.89 L111.3,243.38 L111.9,242.88 L112.5,242.92 L113.1,242.87 L113.7,242.31 L114.3,241.99 L114.9,241.94 L115.5,241.53 L116.1,240.94 L116.7,240.59 L117.3,240.34 L117.9,240.07 L118.5,239.75 L119.1,239.29 L119.7,238.36 L120.3,237.22 L120.9,236.5 L121.5,235.77 L122.1,234.83 L122.7,233.89 L123.3,232.83 L123.9,232.02 L124.5,231.39 L125.1,230.29 L125.7,229.43 L126.3,229.04 L126.9,228.34 L127.5,227.47 L128.1,226.7 L128.7,226.08 L129.3,225.76 L129.9,225.65 L130.5,225.33 L131.1,224.93 L131.7,224.86 L132.3,224.58 L132.9,224.36 L133.5,224.37 L134.1,223.9 L134.7,223.36 L135.3,222.77 L135.9,221.47 L136.5,220.15 L137.1,219.39 L137.7,218.96 L138.3,218.96 L138.9,219.5 L139.5,220.54 L140.1,221.89 L140.7,223.26 L141.3,225 L141.9,227.02 L142.5,228.58 L143.1,230.22 L143.7,231.95 L144.3,233.01 L144.9,233.76 L145.5,234.32 L146.1,234.45 L146.7,234.27 L147.3,233.24 L147.9,231.19 L148.5,229.09 L149.1,227.18 L149.7,224.51 L150.3,221.2 L150.9,217.62 L151.5,213.94 L152.1,210.87 L152.7,208.51 L153.3,206.93 L153.9,206.66 L154.5,207.94 L155.1,210.79 L155.7,214.51 L156.3,218.49 L156.9,222.47 L157.5,226.24 L158.1,229.05 L158.7,230.58 L159.3,231.53 L159.9,232.17 L160.5,232.34 L161.1,232.03 L161.7,231.21 L162.3,230.53 L162.9,230.14 L163.5,229.59 L164.1,228.87 L164.7,228.03 L165.3,226.85 L165.9,225.21 L166.5,223.34 L167.1,221.75 L167.7,220.6 L168.3,219.72 L168.9,219.01 L169.5,218.26 L170.1,217.55 L170.7,217 L171.3,216.37 L171.9,215.79 L172.5,215.28 L173.1,215.12 L173.7,215.23 L174.3,215.02 L174.9,215.08 L175.5,216.01 L176.1,217.72 L176.7,219.74 L177.3,221.6 L177.9,223.38 L178.5,225.16 L179.1,227.02 L179.7,228.74 L180.3,229.71 L180.9,230.03 L181.5,230.35 L182.1,230.46 L182.7,230.31 L183.3,230.29 L183.9,229.99 L184.5,229.61 L185.1,229.68 L185.7,229.51 L186.3,228.83 L186.9,228.41 L187.5,228.18 L188.1,227.24 L188.7,225.84 L189.3,224.2 L189.9,222.79 L190.5,222.14 L191.1,221.97 L191.7,222.16 L192.3,222.67 L192.9,223.42 L193.5,224.25 L194.1,224.88 L194.7,225.45 L195.3,226.14 L195.9,226.74 L196.5,227.07 L197.1,227.35 L197.7,227.38 L198.3,226.89 L198.9,225.99 L199.5,224.96 L200.1,223.92 L200.7,222.57 L201.3,221.12 L201.9,220.47 L202.5,220.5 L203.1,220.56 L203.7,220.92 L204.3,221.78 L204.9,222.87 L205.5,223.87 L206.1,224.73 L206.7,225.37 L207.3,225.59 L207.9,225.62 L208.5,225.7 L209.1,225.74 L209.7,225.42 L210.3,225.07 L210.9,225 L211.5,224.58 L212.1,223.82 L212.7,223.23 L213.3,222.83 L213.9,222.57 L214.5,222.21 L215.1,221.66 L215.7,221.16 L216.3,220.82" fill="none" stroke="#0000ff" stroke-width="1.1" stroke-linejoin="round" />
<path d="M50.7,236 L51.3,236.11 L51.9,235.87 L52.5,235.32 L53.1,235.29 L53.7,235.64 L54.3,235.94 L54.9,236.31 L55.5,236.91 L56.1,237.78 L56.7,238.83 L57.3,239.72 L57.9,240.51 L58.5,241.33 L59.1,241.85 L59.7,242.39 L60.3,243.16 L60.9,243.64 L61.5,243.86 L62.1,244.17 L62.7,244.09 L63.3,243.55 L63.9,243.43 L64.5,243.7 L65.1,243.43 L65.7,242.68 L66.3,242.18 L66.9,242.01 L67.5,241.8 L68.1,241.6 L68.7,241.56 L69.3,241.44 L69.9,241.54 L70.5,241.86 L71.1,241.89 L71.7,242.01 L72.3,242.34 L72.9,242.45 L73.5,242.4 L74.1,242.41 L74.7,242.68 L75.3,243.15 L75.9,243.17 L76.5,242.99 L77.1,243.28 L77.7,243.7 L78.3,244.05 L78.9,244.45 L79.5,244.5 L80.1,244.33 L80.7,244.34 L81.3,244.57 L81.9,245.12 L82.5,246.12 L83.1,247.26 L83.7,247.87 L84.3,247.86 L84.9,247.82 L85.5,247.35 L86.1,246.13 L86.7,244.82 L87.3,243.61 L87.9,242.29 L88.5,240.79 L89.1,239.48 L89.7,238.5 L90.3,237.52 L90.9,236.64 L91.5,236.05 L92.1,235.88 L92.7,235.76 L93.3,235.44 L93.9,235.47 L94.5,235.59 L95.1,235.44 L95.7,235.25 L96.3,235.21 L96.9,235.45 L97.5,235.43 L98.1,234.85 L98.7,234.21 L99.3,234.11 L99.9,234.41 L100.5,234.37 L101.1,234 L101.7,233.6 L102.3,233.09 L102.9,232.72 L103.5,232.53 L104.1,232.11 L104.7,231.66 L105.3,231.61 L105.9,231.24 L106.5,230.18 L107.1,229.21 L107.7,228.29 L108.3,226.91 L108.9,225.93 L109.5,225.79 L110.1,225.59 L110.7,225.47 L111.3,225.64 L111.9,225.37 L112.5,225.07 L113.1,225.03 L113.7,224.9 L114.3,224.93 L114.9,225.03 L115.5,224.85 L116.1,224.81 L116.7,224.89 L117.3,224.52 L117.9,223.77 L118.5,222.87 L119.1,221.93 L119.7,220.82 L120.3,219.55 L120.9,218.21 L121.5,216.66 L122.1,215.28 L122.7,214.28 L123.3,213.69 L123.9,213.39 L124.5,212.82 L125.1,211.98 L125.7,211.36 L126.3,210.88 L126.9,210.38 L127.5,210.14 L128.1,210.06 L128.7,210.07 L129.3,210.63 L129.9,211.41 L130.5,212.17 L131.1,213.12 L131.7,214.59 L132.3,216.14 L132.9,217.17 L133.5,218.22 L134.1,218.51 L134.7,217.63 L135.3,216.5 L135.9,215.75 L136.5,214.93 L137.1,214.11 L137.7,214.25 L138.3,215.29 L138.9,216.64 L139.5,218.06 L140.1,219.25 L140.7,220.36 L141.3,221.57 L141.9,222.58 L142.5,222.69 L143.1,222.58 L143.7,222.99 L144.3,223.45 L144.9,223.59 L145.5,223.27 L146.1,222.98 L146.7,222.97 L147.3,222.73 L147.9,222.19 L148.5,221.68 L149.1,220.92 L149.7,219.73 L150.3,218.3 L150.9,216.51 L151.5,214.64 L152.1,212.78 L152.7,211.03 L153.3,210.05 L153.9,209.92 L154.5,211.35 L155.1,216.04 L155.7,220.3 L156.3,222.41 L156.9,223.25 L157.5,223.56 L158.1,223.6 L158.7,223.41 L159.3,223.11 L159.9,222.85 L160.5,222.84 L161.1,222.61 L161.7,222.29 L162.3,222.17 L162.9,221.56 L163.5,220.77 L164.1,220.53 L164.7,220.43 L165.3,220.49 L165.9,220.2 L166.5,219.21 L167.1,218.37 L167.7,217.81 L168.3,217.38 L168.9,217.14 L169.5,216.81 L170.1,216.61 L170.7,216.81 L171.3,217.06 L171.9,217.66 L172.5,218.53 L173.1,219.03 L173.7,219.34 L174.3,219.85 L174.9,220.43 L175.5,220.91 L176.1,220.86 L176.7,220 L177.3,218.93 L177.9,217.82 L178.5,216.86 L179.1,216.5 L179.7,216.54 L180.3,216.65 L180.9,216.92 L181.5,217.45 L182.1,217.79 L182.7,218.01 L183.3,218.63 L183.9,219.13 L184.5,219.37 L185.1,219.56 L185.7,219.81 L186.3,220.29 L186.9,220.73 L187.5,220.91 L188.1,221.08 L188.7,221.46 L189.3,221.57 L189.9,221.38 L190.5,221.3 L191.1,221.26 L191.7,221.29 L192.3,221.47 L192.9,221.65 L193.5,221.57 L194.1,221.44 L194.7,221.5 L195.3,221.61 L195.9,221.95 L196.5,222.29 L197.1,222.13 L197.7,221.71 L198.3,221.39 L198.9,221.31 L199.5,221.56 L200.1,221.91 L200.7,222 L201.3,222 L201.9,222.08 L202.5,222.35 L203.1,222.53 L203.7,222.34 L204.3,222.2 L204.9,222.35 L205.5,222.48 L206.1,222.27 L206.7,222.03 L207.3,221.94 L207.9,222.05 L208.5,222.53 L209.1,222.65 L209.7,222.13 L210.3,221.75 L210.9,221.19 L211.5,220.25 L212.1,219.38 L212.7,218.28 L213.3,217.1 L213.9,215.77 L214.5,214.33 L215.1,213.84 L215.7,214.09 L216.3,214.99" fill="none" stroke="#ff0000" stroke-width="1.1" stroke-linejoin="round" />
<path d="M50.7,229.92 L51.3,229.29 L51.9,228.47 L52.5,227.7 L53.1,226.77 L53.7,225.91 L54.3,225.78 L54.9,225.62 L55.5,225 L56.1,224.35 L56.7,223.94 L57.3,224.09 L57.9,224.58 L58.5,225.4 L59.1,226.31 L59.7,226.88 L60.3,227.24 L60.9,227.57 L61.5,228.08 L62.1,228.43 L62.7,228.37 L63.3,228.58 L63.9,228.79 L64.5,228.41 L65.1,228.1 L65.7,228.29 L66.3,228.72 L66.9,228.83 L67.5,228.36 L68.1,227.91 L68.7,227.91 L69.3,227.96 L69.9,227.86 L70.5,228.06 L71.1,228.1 L71.7,227.84 L72.3,227.8 L72.9,227.96 L73.5,227.88 L74.1,227.72 L74.7,227.8 L75.3,227.77 L75.9,227.72 L76.5,227.94 L77.1,228.01 L77.7,227.89 L78.3,227.9 L78.9,228.35 L79.5,229.09 L80.1,229.44 L80.7,229.42 L81.3,229.36 L81.9,229.24 L82.5,229.32 L83.1,229.4 L83.7,229.27 L84.3,229.34 L84.9,229.59 L85.5,229.6 L86.1,229.57 L86.7,229.74 L87.3,229.87 L87.9,229.93 L88.5,229.78 L89.1,229.6 L89.7,229.56 L90.3,229.41 L90.9,229.22 L91.5,229.24 L92.1,229.38 L92.7,229.42 L93.3,229.13 L93.9,228.6 L94.5,228.44 L95.1,228.49 L95.7,228.41 L96.3,228.21 L96.9,228.13 L97.5,228.19 L98.1,227.94 L98.7,227.73 L99.3,227.93 L99.9,227.84 L100.5,227.52 L101.1,227.38 L101.7,227.3 L102.3,227.29 L102.9,227.07 L103.5,226.79 L104.1,226.72 L104.7,226.72 L105.3,226.82 L105.9,226.85 L106.5,226.72 L107.1,226.23 L107.7,225.89 L108.3,226.09 L108.9,226.23 L109.5,226.5 L110.1,226.76 L110.7,226.55 L111.3,226.29 L111.9,226.18 L112.5,226.09 L113.1,225.89 L113.7,225.68 L114.3,225.66 L114.9,225.73 L115.5,225.57 L116.1,225.26 L116.7,224.88 L117.3,224.51 L117.9,224.26 L118.5,224.1 L119.1,223.9 L119.7,223.45 L120.3,222.96 L120.9,222.9 L121.5,223.03 L122.1,222.81 L122.7,222.83 L123.3,223.32 L123.9,223.73 L124.5,224.1 L125.1,224.99 L125.7,226.28 L126.3,227.31 L126.9,228.17 L127.5,228.84 L128.1,229.14 L128.7,229.43 L129.3,229.63 L129.9,229.32 L130.5,228.49 L131.1,227.45 L131.7,226.55 L132.3,225.69 L132.9,224.83 L133.5,224.25 L134.1,223.81 L134.7,223.15 L135.3,221.74 L135.9,219.96 L136.5,218.53 L137.1,218 L137.7,218.63 L138.3,219.93 L138.9,221.37 L139.5,222.82 L140.1,224.18 L140.7,225.52 L141.3,226.85 L141.9,227.76 L142.5,228.04 L143.1,228.1 L143.7,228.14 L144.3,228.12 L144.9,227.55 L145.5,226.27 L146.1,224.88 L146.7,223.78 L147.3,222.71 L147.9,221.55 L148.5,220.53 L149.1,219.6 L149.7,218.82 L150.3,218.38 L150.9,218.2 L151.5,218.58 L152.1,219.81 L152.7,221.89 L153.3,224.54 L153.9,227.21 L154.5,229.53 L155.1,231.1 L155.7,232.05 L156.3,232.67 L156.9,232.89 L157.5,233.02 L158.1,232.8 L158.7,232.18 L159.3,231.81 L159.9,231.5 L160.5,230.95 L161.1,230.49 L161.7,230.14 L162.3,229.56 L162.9,228.69 L163.5,227.52 L164.1,226.1 L164.7,224.52 L165.3,223.1 L165.9,221.84 L166.5,220.57 L167.1,219.5 L167.7,218.93 L168.3,218.97 L168.9,219.22 L169.5,219.47 L170.1,220.05 L170.7,221.19 L171.3,222.24 L171.9,222.75 L172.5,223.38 L173.1,223.88 L173.7,224.16 L174.3,224.79 L174.9,225.47 L175.5,225.82 L176.1,225.69 L176.7,225.44 L177.3,225.37 L177.9,225.22 L178.5,224.9 L179.1,224.5 L179.7,224.06 L180.3,223.91 L180.9,223.98 L181.5,223.82 L182.1,223.28 L182.7,222.81 L183.3,222.58 L183.9,222.4 L184.5,222.16 L185.1,221.75 L185.7,221.27 L186.3,221.08 L186.9,221.01 L187.5,221.01 L188.1,220.91 L188.7,220.66 L189.3,220.54 L189.9,220.72 L190.5,220.97 L191.1,221.46 L191.7,221.7 L192.3,221.84 L192.9,222.4 L193.5,222.85 L194.1,223.11 L194.7,223.61 L195.3,223.73 L195.9,223.56 L196.5,223.83 L197.1,224.09 L197.7,224.2 L198.3,224.23 L198.9,224.01 L199.5,223.87 L200.1,223.85 L200.7,223.9 L201.3,223.87 L201.9,223.67 L202.5,223.72 L203.1,223.96 L203.7,223.96 L204.3,223.68 L204.9,223.29 L205.5,223.21 L206.1,223.32 L206.7,223.29 L207.3,223.27 L207.9,223.3 L208.5,223.15 L209.1,222.95 L209.7,222.91 L210.3,222.82 L210.9,222.69 L211.5,222.68 L212.1,222.52 L212.7,222.21 L213.3,222.02 L213.9,221.97 L214.5,221.9 L215.1,221.67 L215.7,221.39 L216.3,221.14" fill="none" stroke="#000000" stroke-width="1.1" stroke-linejoin="round" />
<text x="163.9" y="203.6" font-size="10" fill="#ff0000" stroke="#ff0000" text-anchor="middle" >L</text>
<text x="176.6" y="203.6" font-size="10" fill="#0000ff" stroke="#0000ff" text-anchor="middle" >M</text>
<text x="189.9" y="203.6" font-size="10" fill="#000" stroke="#000" text-anchor="middle" >N</text>
<text x="48.6" y="188.3" font-size="9" fill="#333" stroke="#333" text-anchor="end" >500</text>
<text x="48.6" y="225.9" font-size="9" fill="#333" stroke="#333" text-anchor="end" >0</text>
<text x="48.6" y="263.7" font-size="9" fill="#333" stroke="#333" text-anchor="end" >-500</text>
<rect x="51" y="274.5" width="165.6" height="75.4" fill="none" stroke="#555555" stroke-width="1.25"/>
<path d="M106.2,349.9 V347.7 M106.2,274.5 V276.7 M161.4,349.9 V347.7 M161.4,274.5 V276.7 M51,280.5 H53.2 M216.6,280.5 H214.4 M51,312.2 H53.2 M216.6,312.2 H214.4 M51,343.8 H53.2 M216.6,343.8 H214.4" stroke="#555555" stroke-width="1.25" fill="none"/>
<path d="M84.2,274.5 V349.9" stroke="#6a6a6a" stroke-width="1.6" stroke-dasharray="1.6,2.6"/>
<path d="M128.1,274.5 V349.9" stroke="#6a6a6a" stroke-width="1.6" stroke-dasharray="1.6,2.6"/>
<path d="M51,312.2 H216.6" stroke="#5a5a5a" stroke-width="1.3" stroke-dasharray="1.9,2.3"/>
<path d="M50.7,308.15 L51.3,309.48 L51.9,310.35 L52.5,311.13 L53.1,312.08 L53.7,312.21 L54.3,311.67 L54.9,311.15 L55.5,310.75 L56.1,310.42 L56.7,309.5 L57.3,308.53 L57.9,308.16 L58.5,308.08 L59.1,307.94 L59.7,307.32 L60.3,306.93 L60.9,307.17 L61.5,307.28 L62.1,307.02 L62.7,306.88 L63.3,307.27 L63.9,307.31 L64.5,306.85 L65.1,306.69 L65.7,306.66 L66.3,306.58 L66.9,306.13 L67.5,305.67 L68.1,305.58 L68.7,305.32 L69.3,305.14 L69.9,305.33 L70.5,305.48 L71.1,306.19 L71.7,307.51 L72.3,308.42 L72.9,309.14 L73.5,309.85 L74.1,310.2 L74.7,310.75 L75.3,311.53 L75.9,312.22 L76.5,312.92 L77.1,313.44 L77.7,313.65 L78.3,313.91 L78.9,314 L79.5,313.92 L80.1,313.97 L80.7,314.09 L81.3,314.29 L81.9,314.24 L82.5,313.78 L83.1,313.31 L83.7,312.92 L84.3,312.25 L84.9,310.91 L85.5,308.5 L86.1,305.72 L86.7,303.96 L87.3,302.75 L87.9,301.77 L88.5,301.19 L89.1,300.56 L89.7,300.04 L90.3,299.66 L90.9,299.21 L91.5,298.94 L92.1,298.98 L92.7,299.17 L93.3,299.01 L93.9,298.7 L94.5,298.58 L95.1,298.3 L95.7,298.06 L96.3,297.89 L96.9,297.73 L97.5,297.54 L98.1,296.81 L98.7,296.18 L99.3,295.97 L99.9,295.47 L100.5,294.61 L101.1,294.02 L101.7,294.04 L102.3,293.84 L102.9,293.05 L103.5,292.15 L104.1,291.11 L104.7,290.33 L105.3,290.13 L105.9,290.3 L106.5,291.06 L107.1,292.12 L107.7,292.73 L108.3,293.24 L108.9,294.15 L109.5,294.98 L110.1,295.76 L110.7,296.7 L111.3,297.36 L111.9,297.91 L112.5,298.96 L113.1,300.01 L113.7,300.52 L114.3,301.22 L114.9,302.07 L115.5,302.5 L116.1,302.76 L116.7,303.34 L117.3,304.14 L117.9,304.76 L118.5,305.11 L119.1,305.78 L119.7,307.02 L120.3,308.24 L120.9,309.23 L121.5,310.32 L122.1,311.53 L122.7,312.56 L123.3,313.2 L123.9,313.65 L124.5,314.32 L125.1,314.88 L125.7,315.33 L126.3,315.96 L126.9,316.43 L127.5,316.74 L128.1,316.94 L128.7,316.95 L129.3,317.09 L129.9,317.14 L130.5,316.97 L131.1,316.54 L131.7,315.75 L132.3,315.23 L132.9,315.18 L133.5,315.22 L134.1,315.23 L134.7,315.27 L135.3,319.17 L135.9,318.93 L136.5,318.19 L137.1,317.67 L137.7,317.48 L138.3,316.74 L138.9,315.81 L139.5,315.18 L140.1,314.5 L140.7,313.67 L141.3,312.73 L141.9,311.63 L142.5,310.93 L143.1,310.84 L143.7,310.46 L144.3,309.74 L144.9,309.26 L145.5,308.99 L146.1,309.13 L146.7,309.77 L147.3,310.49 L147.9,311.37 L148.5,312.72 L149.1,314.26 L149.7,315.65 L150.3,316.78 L150.9,318.37 L151.5,320.88 L152.1,323.32 L152.7,324.74 L153.3,325.57 L153.9,325.72 L154.5,324.64 L155.1,322.45 L155.7,319.79 L156.3,317.25 L156.9,314.63 L157.5,312.38 L158.1,310.84 L158.7,309.81 L159.3,309.55 L159.9,309.59 L160.5,309.38 L161.1,309.23 L161.7,309.34 L162.3,309.69 L162.9,310.22 L163.5,310.78 L164.1,311.43 L164.7,312.31 L165.3,313.25 L165.9,314.02 L166.5,314.82 L167.1,315.91 L167.7,317.14 L168.3,318.18 L168.9,319.09 L169.5,319.68 L170.1,319.96 L170.7,320.1 L171.3,320.33 L171.9,320.81 L172.5,320.75 L173.1,320.08 L173.7,319.62 L174.3,319.25 L174.9,318.66 L175.5,318.38 L176.1,318.22 L176.7,317.57 L177.3,316.82 L177.9,316.07 L178.5,315.12 L179.1,314.27 L179.7,313.39 L180.3,312.56 L180.9,311.89 L181.5,311.34 L182.1,310.94 L182.7,310.54 L183.3,310.23 L183.9,310.08 L184.5,310.26 L185.1,310.63 L185.7,311.37 L186.3,312.63 L186.9,313.65 L187.5,314.44 L188.1,315.22 L188.7,315.56 L189.3,315.63 L189.9,315.53 L190.5,314.83 L191.1,314 L191.7,313.54 L192.3,312.78 L192.9,311.72 L193.5,310.9 L194.1,310.42 L194.7,310.51 L195.3,311.01 L195.9,311.28 L196.5,311.56 L197.1,312.35 L197.7,313.24 L198.3,313.67 L198.9,314.25 L199.5,315.12 L200.1,315.65 L200.7,315.89 L201.3,315.99 L201.9,316 L202.5,316.14 L203.1,316.28 L203.7,316.22 L204.3,316.04 L204.9,315.69 L205.5,315.17 L206.1,314.51 L206.7,313.62 L207.3,312.93 L207.9,312.64 L208.5,312.35 L209.1,312.12 L209.7,311.99 L210.3,311.87 L210.9,312.05 L211.5,312.54 L212.1,312.94 L212.7,313.33 L213.3,313.88 L213.9,314.27 L214.5,314.68 L215.1,315.55 L215.7,316.32 L216.3,316.57" fill="none" stroke="#0000ff" stroke-width="1.1" stroke-linejoin="round" />
<path d="M50.7,315.44 L51.1,315.85 L51.5,315.54 L51.9,315.26 L52.3,315.6 L52.7,315.39 L53.1,314.92 L53.5,315.08 L53.9,315.36 L54.3,315.32 L54.7,315.47 L55.1,315.67 L55.5,315.16 L55.9,315.06 L56.3,315.79 L56.7,316.28 L57.1,316.07 L57.5,315.8 L57.9,316.2 L58.3,316.75 L58.7,316.66 L59.1,316.11 L59.5,316.13 L59.9,316.11 L60.3,315.81 L60.7,316.46 L61.1,317.24 L61.5,317.15 L61.9,317.28 L62.3,318.14 L62.7,318.78 L63.1,318.72 L63.5,318.44 L63.9,318.88 L64.3,319.42 L64.7,319.24 L65.1,319.48 L65.5,320.53 L65.9,320.88 L66.3,319.94 L66.7,319.32 L67.1,319.85 L67.5,320.66 L67.9,321.49 L68.3,322.01 L68.7,321.93 L69.1,321.87 L69.5,321.98 L69.9,321.94 L70.3,321.96 L70.7,322.49 L71.1,323.2 L71.5,322.57 L71.9,321.21 L72.3,320.58 L72.7,320.14 L73.1,319.52 L73.5,319.21 L73.9,319.31 L74.3,319.33 L74.7,318.75 L75.1,318 L75.5,317.53 L75.9,317.55 L76.3,317.86 L76.7,318.16 L77.1,318.21 L77.5,318 L77.9,318.07 L78.3,317.94 L78.7,317.19 L79.1,316.4 L79.5,316.61 L79.9,317.62 L80.3,317.97 L80.7,317.65 L81.1,317.32 L81.5,316.88 L81.9,316.51 L82.3,316.64 L82.7,317 L83.1,316.85 L83.5,316.35 L83.9,316.24 L84.3,316.37 L84.7,316.06 L85.1,315.9 L85.5,316.22 L85.9,315.93 L86.3,315.65 L86.7,315.92 L87.1,315.64 L87.5,315.06 L87.9,314.59 L88.3,314 L88.7,313.37 L89.1,313.36 L89.5,313.68 L89.9,313.52 L90.3,313.52 L90.7,313.32 L91.1,313.05 L91.5,313.42 L91.9,313.82 L92.3,314.38 L92.7,314.78 L93.1,314.87 L93.5,315.05 L93.9,315.6 L94.3,316.81 L94.7,318.13 L95.1,319.44 L95.5,320.94 L95.9,322.01 L96.3,322.43 L96.7,322.07 L97.1,320.89 L97.5,319.67 L97.9,318.17 L98.3,315.99 L98.7,314.65 L99.1,313.28 L99.5,311.01 L99.9,310.07 L100.3,309.6 L100.7,308.98 L101.1,308.41 L101.5,307.27 L101.9,307.17 L102.3,307.24 L102.7,306.18 L103.1,305.14 L103.5,304.35 L103.9,303.83 L104.3,303.44 L104.7,302.78 L105.1,302.66 L105.5,302.64 L105.9,301.98 L106.3,301.88 L106.7,301.94 L107.1,302.03 L107.5,302.74 L107.9,302.78 L108.3,302.44 L108.7,302.82 L109.1,303.18 L109.5,303.56 L109.9,304.05 L110.3,304.52 L110.7,304.96 L111.1,305.17 L111.5,305.42 L111.9,305.53 L112.3,305.32 L112.7,304.77 L113.1,304.13 L113.5,303.92 L113.9,304.23 L114.3,304.64 L114.7,304.75 L115.1,304.24 L115.5,303.46 L115.9,303.2 L116.3,303.41 L116.7,303.99 L117.1,304.87 L117.5,305.21 L117.9,305.13 L118.3,306.02 L118.7,307.46 L119.1,308.13 L119.5,308.75 L119.9,309.6 L120.3,309.89 L120.7,310.13 L121.1,310.27 L121.5,310.62 L121.9,311.44 L122.3,311.71 L122.7,311.91 L123.1,312.64 L123.5,313.4 L123.9,313.76 L124.3,313.63 L124.7,313.62 L125.1,313.96 L125.5,314.39 L125.9,315.12 L126.3,315.69 L126.7,316.21 L127.1,316.88 L127.5,316.9 L127.9,316.72 L128.3,316.62 L128.7,316.74 L129.1,317.19 L129.5,316.99 L129.9,316.45 L130.3,316.68 L130.7,316.86 L131.1,316.62 L131.5,315.95 L131.9,314.92 L132.3,314.93 L132.7,315.55 L133.1,314.9 L133.5,314 L133.9,313.98 L134.3,313.55 L134.7,312.59 L135.1,312.22 L135.5,312.97 L135.9,314.38 L136.3,315.79 L136.7,316.5 L137.1,316.93 L137.5,316.51 L137.9,315.58 L138.3,315.29 L138.7,314.91 L139.1,314.3 L139.5,314.07 L139.9,313.81 L140.3,313.06 L140.7,312.2 L141.1,312.3 L141.5,312.34 L141.9,310.95 L142.3,309.95 L142.7,310.17 L143.1,310.18 L143.5,309.43 L143.9,308.77 L144.3,308.58 L144.7,307.93 L145.1,307.32 L145.5,307.48 L145.9,307.95 L146.3,308.47 L146.7,308.72 L147.1,308.97 L147.5,309.49 L147.9,310.03 L148.3,310.33 L148.7,310.21 L149.1,310.83 L149.5,311.96 L149.9,312.39 L150.3,313.08 L150.7,314.12 L151.1,315.03 L151.5,316.46 L151.9,317.51 L152.3,317.92 L152.7,319.47 L153.1,320.69 L153.5,320.23 L153.9,319.88 L154.3,320.15 L154.7,319.66 L155.1,318.34 L155.5,317.51 L155.9,317.05 L156.3,316.44 L156.7,315.74 L157.1,314.88 L157.5,313.91 L157.9,313.07 L158.3,312.27 L158.7,311.7 L159.1,311.48 L159.5,311.01 L159.9,310.92 L160.3,311.31 L160.7,310.92 L161.1,310.63 L161.5,311.16 L161.9,311.39 L162.3,311.69 L162.7,312.11 L163.1,312.44 L163.5,312.71 L163.9,312.92 L164.3,313.84 L164.7,314.33 L165.1,313.9 L165.5,314.46 L165.9,315.19 L166.3,314.98 L166.7,315.64 L167.1,316.82 L167.5,317.31 L167.9,317.78 L168.3,317.76 L168.7,317.55 L169.1,317.79 L169.5,318.11 L169.9,318.27 L170.3,317.98 L170.7,317.64 L171.1,317.74 L171.5,317.92 L171.9,317.39 L172.3,316.43 L172.7,316.14 L173.1,316.15 L173.5,315.73 L173.9,315.2 L174.3,314.85 L174.7,314.82 L175.1,315 L175.5,314.82 L175.9,314.61 L176.3,314.45 L176.7,314.31 L177.1,314.4 L177.5,313.73 L177.9,312.55 L178.3,311.25 L178.7,310.35 L179.1,310.7 L179.5,311.44 L179.9,311.29 L180.3,310.71 L180.7,310.75 L181.1,310.56 L181.5,309.71 L181.9,309.03 L182.3,309.24 L182.7,309.73 L183.1,309.87 L183.5,309.57 L183.9,309.38 L184.3,309.95 L184.7,310.29 L185.1,310.35 L185.5,310.6 L185.9,310.59 L186.3,309.99 L186.7,309.33 L187.1,309.7 L187.5,310.76 L187.9,311.02 L188.3,310.63 L188.7,310.46 L189.1,310.61 L189.5,310.69 L189.9,310.52 L190.3,310.92 L190.7,311.65 L191.1,311.32 L191.5,310.48 L191.9,310.18 L192.3,310.59 L192.7,311.32 L193.1,311.45 L193.5,311.14 L193.9,311.01 L194.3,310.78 L194.7,310.89 L195.1,311.53 L195.5,312.08 L195.9,312.12 L196.3,311.39 L196.7,311.21 L197.1,311.54 L197.5,311.09 L197.9,310.51 L198.3,310.69 L198.7,311.27 L199.1,311.51 L199.5,311.62 L199.9,311.99 L200.3,312.1 L200.7,311.79 L201.1,311.5 L201.5,311.52 L201.9,311.88 L202.3,312.04 L202.7,311.87 L203.1,311.72 L203.5,311.3 L203.9,310.82 L204.3,311.15 L204.7,311.9 L205.1,312.38 L205.5,312.5 L205.9,312.31 L206.3,312.44 L206.7,312.75 L207.1,312.43 L207.5,311.85 L207.9,311.8 L208.3,311.82 L208.7,311.78 L209.1,312.3 L209.5,312.56 L209.9,312.61 L210.3,312.91 L210.7,312.58 L211.1,312.23 L211.5,312.24 L211.9,312.37 L212.3,312.76 L212.7,313.28 L213.1,313.78 L213.5,313.83 L213.9,313.62 L214.3,313.25 L214.7,313.1 L215.1,313.47 L215.5,314.04 L215.9,314.65 L216.3,314.83" fill="none" stroke="#ff0000" stroke-width="1.1" stroke-linejoin="round" />
<path d="M50.7,312.8 L51.1,313.48 L51.5,313.36 L51.9,313.27 L52.3,313.32 L52.7,313.57 L53.1,313.55 L53.5,313.36 L53.9,313.87 L54.3,314.37 L54.7,313.93 L55.1,313.49 L55.5,313.3 L55.9,313.48 L56.3,314.07 L56.7,314.24 L57.1,314.46 L57.5,315.13 L57.9,315.14 L58.3,314.59 L58.7,314.68 L59.1,314.89 L59.5,314.85 L59.9,314.84 L60.3,315.02 L60.7,315.37 L61.1,315.36 L61.5,315.34 L61.9,315.6 L62.3,315.65 L62.7,315.52 L63.1,315.71 L63.5,316.01 L63.9,315.84 L64.3,315.44 L64.7,315.28 L65.1,315.29 L65.5,315.41 L65.9,315.76 L66.3,315.71 L66.7,315.43 L67.1,315.88 L67.5,316.38 L67.9,316.25 L68.3,316.25 L68.7,316.53 L69.1,316.28 L69.5,315.93 L69.7,316.6 L69.9,316.51 L70.3,316.85 L70.7,316.76 L71.1,316.14 L71.5,315.51 L71.9,315.28 L72.3,315.25 L72.7,315.04 L73.1,314.81 L73.5,315.06 L73.9,315.24 L74.3,315.03 L74.7,314.73 L75.1,314.18 L75.5,313.79 L75.9,314.08 L76.3,314.58 L76.7,314.44 L77.1,314.07 L77.3,313.8 L77.5,314 L77.9,313.94 L78.3,313.54 L78.7,313.06 L79.1,312.83 L79.5,312.3 L79.9,311.71 L80.3,311.56 L80.7,311.72 L81.1,311.66 L81.5,311.33 L81.9,311.27 L82.3,311.27 L82.7,310.72 L83.1,310.42 L83.5,310.76 L83.9,310.72 L84,310 L84.3,309.53 L84.7,309.86 L85.1,310.42 L85.5,310.77 L85.9,310.82 L86.3,310.6 L86.7,310.7 L87.1,311.03 L87.5,311.32 L87.9,311.48 L88.3,311.47 L88.7,311.13 L89.1,310.82 L89.5,310.99 L89.9,311.24 L90.3,311.64 L90.7,312.38 L91.1,312.72 L91.5,312.34 L91.9,312.04 L92.3,312.15 L92.7,312.56 L93.1,313.06 L93.5,312.8 L93.5,312.8 L93.9,310.64 L94.3,308.39 L94.7,306.66 L95,306 L95.1,306.69 L95.5,309.63 L95.9,312.32 L96.3,315.53 L96.5,317 L96.7,315.28 L97.1,311.95 L97.5,309.02 L97.9,305.96 L98,305.5 L98.3,308.25 L98.7,311.43 L99.1,314.02 L99.5,317.5 L99.5,317.5 L99.9,314.17 L100.3,310.82 L100.7,307.68 L101,305.2 L101.1,305.91 L101.5,308.69 L101.9,311.68 L102.3,314.57 L102.5,316 L102.7,315.07 L103.1,312.57 L103.5,310.04 L103.9,307.46 L104,307 L104.3,307.49 L104.7,309.04 L105.1,310.64 L105.5,311.91 L105.9,313.26 L106,314 L106.3,313.71 L106.7,313.3 L107.1,313.46 L107.5,313.18 L107.9,312.78 L108.3,312.67 L108.7,312.16 L109.1,311.94 L109.5,311.91 L109.9,311.21 L110.3,310.87 L110.7,310.72 L111.1,310.15 L111.5,309.94 L111.6,310 L111.9,310.76 L112.3,310.37 L112.7,310.39 L113.1,310.8 L113.5,310.7 L113.9,310.63 L114.3,311.04 L114.7,311.4 L115.1,311.72 L115.5,312.12 L115.9,312.25 L116.3,312.2 L116.7,312.03 L117.1,311.9 L117.5,312.19 L117.9,312.51 L118.3,312.61 L118.7,312.69 L119.1,313 L119.5,313.82 L119.9,314.14 L120.3,313.75 L120.7,313.67 L121.1,313.8 L121.1,313.8 L121.5,314.1 L121.9,313.79 L122.3,313.67 L122.7,313.53 L123.1,313.47 L123.5,313.57 L123.9,313.56 L124.3,313.63 L124.7,313.81 L125.1,313.84 L125.5,313.78 L125.9,313.61 L126.3,313.38 L126.7,313.39 L127.1,313.4 L127.5,313.35 L127.9,313.48 L128.3,313.25 L128.7,312.81 L129.1,312.77 L129.5,312.95 L129.9,312.98 L130.3,312.55 L130.7,312.23 L131.1,312.64 L131.5,313.07 L131.9,312.86 L132.3,312.72 L132.7,312.51 L133.1,312.23 L133.5,312.6 L133.9,312.96 L134.3,312.99 L134.4,312.8 L134.7,312.7 L135.1,312.38 L135.5,312.25 L135.9,312.46 L136.3,312.63 L136.7,312.2 L137.1,311.62 L137.5,311.15 L137.9,311.14 L138.3,311.23 L138.7,310.64 L139.1,310.26 L139.5,310.3 L139.9,310.51 L140.3,310.35 L140.7,309.64 L141.1,309.68 L141.5,309.74 L141.9,309.14 L142.3,308.99 L142.7,309.39 L143.1,309.35 L143.5,308.49 L143.9,308.11 L144.3,308.68 L144.7,308.77 L145.1,307.84 L145.2,308 L145.5,308.33 L145.9,308.93 L146.3,309.25 L146.7,309.4 L147.1,309.46 L147.5,310.02 L147.9,310.93 L148.3,311.01 L148.7,310.46 L149.1,311.04 L149.5,312.06 L149.9,312.02 L150.3,311.95 L150.7,312.54 L151.1,313.06 L151.5,313.34 L151.9,313.8 L151.9,313.8 L152.3,313.27 L152.7,312.91 L153.1,312.36 L153.5,311.97 L153.9,311.91 L154.3,311.83 L154.7,311.29 L155.1,310.7 L155.5,310.41 L155.7,310 L155.9,310.57 L156.3,310.91 L156.7,311.36 L157.1,311.43 L157.5,311.11 L157.9,311.21 L158.3,311.71 L158.7,311.92 L159.1,311.69 L159.5,311.35 L159.9,311.58 L160.3,312.47 L160.7,313.14 L161.1,313.12 L161.5,313.07 L161.9,313.44 L162.3,313.67 L162.7,313.94 L163.1,314.12 L163.5,314.01 L163.9,313.89 L164.3,313.87 L164.7,314.08 L165.1,314.54 L165.5,315.24 L165.9,315.81 L166.1,315.7 L166.3,315.75 L166.7,315.31 L167.1,315.15 L167.5,315.03 L167.9,314.97 L168.3,314.64 L168.7,314.15 L169.1,314.06 L169.5,313.97 L169.9,313.85 L170.3,314.08 L170.7,313.99 L171.1,313.29 L171.5,312.5 L171.9,312.05 L172.3,312.16 L172.7,311.93 L173.1,311.53 L173.5,311.85 L173.9,311.91 L174.3,311.41 L174.7,311.03 L175.1,310.97 L175.5,310.86 L175.7,310.9 L175.9,310.95 L176.3,311.68 L176.7,311.67 L177.1,311.57 L177.5,311.45 L177.9,311.38 L178.3,311.79 L178.7,312.03 L179.1,312.03 L179.5,312.52 L179.9,313.12 L180.3,312.96 L180.7,312.39 L181.1,312.23 L181.5,312.69 L181.9,313.49 L182.3,313.92 L182.7,313.8 L183.1,313.45 L183.5,313.47 L183.9,313.96 L184.3,314.16 L184.7,314.18 L185.1,314.57 L185.5,314.96 L185.9,314.88 L186.3,314.43 L186.7,314.35 L187,315.3 L187.1,315.23 L187.5,314.95 L187.9,314.61 L188.3,314.54 L188.7,314.62 L189.1,314.44 L189.5,314.03 L189.9,313.6 L190.3,313.47 L190.7,313.4 L191.1,312.94 L191.5,312.65 L191.9,312.93 L192.3,313.2 L192.7,313.13 L193.1,312.94 L193.5,312.44 L193.9,311.8 L194.3,311.39 L194.7,311.58 L195.1,311.96 L195.5,311.81 L195.9,311.57 L196.3,311.33 L196.7,310.9 L197.1,310.6 L197.5,310.57 L197.9,310.56 L198.3,310.4 L198.5,310 L198.7,310.04 L199.1,309.85 L199.5,309.82 L199.9,310.05 L200.3,310.13 L200.7,309.83 L201.1,310.38 L201.5,311.1 L201.9,310.62 L202.3,310.2 L202.7,310.67 L203.1,311.08 L203.5,311.02 L203.9,311.02 L204.3,310.97 L204.7,311.35 L205.1,311.93 L205.5,311.51 L205.9,310.93 L206.3,311.05 L206.7,311.38 L207.1,311.64 L207.5,311.72 L207.9,311.41 L208.3,311.2 L208.7,311.49 L209.1,311.6 L209.5,311.37 L209.9,311.21 L210.3,311.34 L210.7,311.6 L211.1,311.63 L211.5,311.6 L211.9,311.91 L212.3,312.04 L212.7,311.81 L213.1,311.8 L213.5,312.13 L213.9,312.17 L214.3,311.8 L214.7,311.8 L215.1,311.98 L215.5,312.41 L215.9,312.82 L216.3,312.74 L216.4,312.8" fill="none" stroke="#000000" stroke-width="1.1" stroke-linejoin="round" />
<text x="163.9" y="297.4" font-size="10" fill="#ff0000" stroke="#ff0000" text-anchor="middle" >L</text>
<text x="176.6" y="297.4" font-size="10" fill="#0000ff" stroke="#0000ff" text-anchor="middle" >M</text>
<text x="189.9" y="297.4" font-size="10" fill="#000" stroke="#000" text-anchor="middle" >N</text>
<text x="48.6" y="284.5" font-size="9" fill="#333" stroke="#333" text-anchor="end" >0.5</text>
<text x="48.6" y="316.2" font-size="9" fill="#333" stroke="#333" text-anchor="end" >0</text>
<text x="48.6" y="347.8" font-size="9" fill="#333" stroke="#333" text-anchor="end" >-0.5</text>
<rect x="51" y="364.7" width="165.6" height="75.4" fill="none" stroke="#555555" stroke-width="1.25"/>
<path d="M106.2,440.1 V437.9 M106.2,364.7 V366.9 M161.4,440.1 V437.9 M161.4,364.7 V366.9 M51,372.4 H53.2 M216.6,372.4 H214.4 M51,402.2 H53.2 M216.6,402.2 H214.4 M51,432.3 H53.2 M216.6,432.3 H214.4" stroke="#555555" stroke-width="1.25" fill="none"/>
<path d="M84.2,364.7 V440.1" stroke="#6a6a6a" stroke-width="1.6" stroke-dasharray="1.6,2.6"/>
<path d="M128.1,364.7 V440.1" stroke="#6a6a6a" stroke-width="1.6" stroke-dasharray="1.6,2.6"/>
<path d="M51,393.53 L51.25,384.51 L51.5,393.34 L51.75,386.58 L52,397.28 L52.25,384.19 L52.5,392.65 L52.75,387.49 L53,393.69 L53.25,384.05 L53.5,391.5 L53.75,384.65 L54,390.79 L54.25,385.97 L54.5,393.36 L54.75,386.07 L55,392.31 L55.25,396.48 L55.5,393.35 L55.75,385.76 L56,391.37 L56.25,384.78 L56.5,393.93 L56.75,385.62 L57,395.69 L57.25,384.03 L57.5,390.61 L57.75,383.78 L58,391.21 L58.25,382.4 L58.5,373.87 L58.75,377.5 L59,384.83 L59.25,375.88 L59.5,374.33 L59.75,378 L60,384.92 L60.25,376.88 L60.5,382.14 L60.75,374.21 L61,384.61 L61.25,376.33 L61.5,384.92 L61.75,376.24 L62,382.38 L62.25,375.72 L62.5,385 L62.75,372.88 L63,384.19 L63.25,374.38 L63.5,386.88 L63.75,368.52 L64,383.45 L64.25,377.17 L64.5,384.12 L64.75,368.02 L65,382.58 L65.25,375.96 L65.5,367.3 L65.75,378.31 L66,383.68 L66.25,376.65 L66.5,385.98 L66.75,378.11 L67,385.84 L67.25,371.7 L67.5,384.47 L67.75,377.57 L68,385.28 L68.25,377.69 L68.5,383.32 L68.75,375.58 L69,383.76 L69.25,376.45 L69.5,369.18 L69.75,378.24 L70,383.51 L70.25,374.93 L70.5,369.69 L70.75,378.07 L71,384.34 L71.25,371.41 L71.5,383.7 L71.75,374.28 L72,385.43 L72.25,376.31 L72.5,384.17 L72.75,374.59 L73,383.63 L73.25,375.17 L73.5,373.76 L73.75,375.37 L74,374.69 L74.25,386.87 L74.5,385.59 L74.75,377.24 L75,386.09 L75.25,376.47 L75.5,384.34 L75.75,376.55 L76,383.68 L76.25,375.35 L76.5,383.76 L76.75,377.76 L77,385.43 L77.25,376.85 L77.5,384.56 L77.75,374.41 L78,384.86 L78.25,376.34 L78.5,374.26 L78.75,375.57 L79,386.19 L79.25,375.59 L79.5,385.4 L79.75,377.23 L80,383.49 L80.25,377.08 L80.5,384.19 L80.75,374.84 L81,384.15 L81.25,377.86 L81.5,384.44 L81.75,377.52 L82,385.33 L82.25,377.19 L82.5,386.22 L82.75,386.21 L83,384.68 L83.25,368.99 L83.5,383.98 L83.75,374.53 L84,382.43 L84.25,375.53 L84.5,383.37 L84.75,378.4 L85,383.02 L85.25,375.51 L85.5,386.09 L85.75,375.42 L86,383.48 L86.25,376.6 L86.5,382.79 L86.75,376.93 L87,383.38 L87.25,378.93 L87.5,384.16 L87.75,376 L88,385.77 L88.25,379.42 L88.5,394.13 L88.75,377.72 L89,385.3 L89.25,377.3 L89.5,386.03 L89.75,379.86 L90,389.75 L90.25,383.08 L90.5,389.26 L90.75,381.8 L91,389.47 L91.25,384.87 L91.5,394.92 L91.75,384.13 L92,392.1 L92.25,396.49 L92.5,391.7 L92.75,386.69 L93,391.27 L93.25,394 L93.5,393.67 L93.75,387.2 L94,392.68 L94.25,387.39 L94.5,394.81 L94.75,389.4 L95,394.64 L95.25,388.91 L95.5,394.91 L95.75,390.41 L96,396.86 L96.25,389.66 L96.5,394.94 L96.75,392.25 L97,395.52 L97.25,391.37 L97.5,395.55 L97.75,391.9 L98,397.31 L98.25,391.08 L98.5,397.99 L98.75,391.17 L99,386.67 L99.25,392.26 L99.5,398.37 L99.75,392.34 L100,401.99 L100.25,392.08 L100.5,400.03 L100.75,392.14 L101,397.96 L101.25,394.61 L101.5,398.31 L101.75,388.98 L102,398.69 L102.25,393.47 L102.5,399.76 L102.75,393.07 L103,398.73 L103.25,393.83 L103.5,403.2 L103.75,394.66 L104,400.51 L104.25,396.06 L104.5,400.04 L104.75,395.97 L105,405.04 L105.25,396.91 L105.5,401.13 L105.75,397.4 L106,401.6 L106.25,403.52 L106.5,401.98 L106.75,397.07 L107,403.24 L107.25,397.41 L107.5,402.69 L107.75,398.84 L108,407.7 L108.25,396.61 L108.5,405.16 L108.75,398.03 L109,404.76 L109.25,399.13 L109.5,406.33 L109.75,400.81 L110,406.16 L110.25,401.13 L110.5,408.99 L110.75,399.47 L111,410.29 L111.25,401.65 L111.5,409.5 L111.75,400.34 L112,410.41 L112.25,400.12 L112.5,408.57 L112.75,401.29 L113,409.74 L113.25,411.81 L113.5,411.35 L113.75,403.09 L114,413.55 L114.25,405.16 L114.5,410.29 L114.75,401.18 L115,412.82 L115.25,404.1 L115.5,411.45 L115.75,403.9 L116,402.46 L116.25,402.15 L116.5,414.7 L116.75,406.36 L117,415.56 L117.25,405.73 L117.5,415.68 L117.75,403.39 L118,403.12 L118.25,406.98 L118.5,413.97 L118.75,419.17 L119,417.26 L119.25,406.12 L119.5,415.54 L119.75,404.21 L120,414.17 L120.25,408.43 L120.5,414.34 L120.75,406.52 L121,415.31 L121.25,407.61 L121.5,417.2 L121.75,406.94 L122,416.96 L122.25,409.39 L122.5,419.68 L122.75,405.58 L123,418.6 L123.25,408.92 L123.5,421.05 L123.75,409.8 L124,420.37 L124.25,406.81 L124.5,416.78 L124.75,406.93 L125,418.45 L125.25,410.21 L125.5,417.93 L125.75,405.67 L126,418.9 L126.25,409.36 L126.5,416.38 L126.75,405.94 L127,415.26 L127.25,405.87 L127.5,418.25 L127.75,407.6 L128,417.54 L128.25,406.95 L128.5,415.58 L128.75,404.14 L129,417.5 L129.25,405.65 L129.5,415.54 L129.75,404.23 L130,419.14 L130.25,407.98 L130.5,420.3 L130.75,404.03 L131,417.66 L131.25,407.67 L131.5,402.69 L131.75,409.31 L132,420.7 L132.25,403.2 L132.5,415.08 L132.75,403.27 L133,416.21 L133.25,403.41 L133.5,419.66 L133.75,407.87 L134,416.29 L134.25,403.01 L134.5,418.85 L134.75,404.51 L135,415.36 L135.25,404.26 L135.5,414.04 L135.75,407.01 L136,415.17 L136.25,408.16 L136.5,416.34 L136.75,423.56 L137,419.24 L137.25,405.44 L137.5,417.83 L137.75,405.12 L138,413.89 L138.25,405.49 L138.5,413.08 L138.75,406.29 L139,416.57 L139.25,406.9 L139.5,418.03 L139.75,404.22 L140,412.8 L140.25,405.31 L140.5,417.58 L140.75,406.21 L141,413.07 L141.25,423.76 L141.5,414.97 L141.75,405.28 L142,413.49 L142.25,404.8 L142.5,414.67 L142.75,403.45 L143,417.32 L143.25,403.74 L143.5,412.18 L143.75,406.27 L144,413.24 L144.25,401.96 L144.5,411.85 L144.75,403.44 L145,413.52 L145.25,405.5 L145.5,414.62 L145.75,417.91 L146,415.14 L146.25,405.48 L146.5,411.99 L146.75,405.53 L147,412.01 L147.25,405.32 L147.5,401.28 L147.75,415.55 L148,400.61 L148.25,401.34 L148.5,414.46 L148.75,405.69 L149,415.06 L149.25,401.47 L149.5,411.1 L149.75,404.74 L150,410.37 L150.25,404.49 L150.5,412.29 L150.75,405.3 L151,414.59 L151.25,403.7 L151.5,400.25 L151.75,404.17 L152,414.05 L152.25,401.57 L152.5,411.93 L152.75,405.57 L153,412.65 L153.25,403.94 L153.5,410.12 L153.75,403.3 L154,412.75 L154.25,402.35 L154.5,409.74 L154.75,401.16 L155,411.39 L155.25,401.16 L155.5,411 L155.75,419.26 L156,412.8 L156.25,414.24 L156.5,412.87 L156.75,402.08 L157,411.4 L157.25,405.02 L157.5,411.51 L157.75,402.17 L158,412.42 L158.25,403.21 L158.5,408.84 L158.75,401.69 L159,410.05 L159.25,403.4 L159.5,402.09 L159.75,404.56 L160,408.43 L160.25,400.59 L160.5,411.84 L160.75,401.29 L161,410.11 L161.25,402.95 L161.5,408.78 L161.75,404.36 L162,411.17 L162.25,403.4 L162.5,410.87 L162.75,404.13 L163,408.74 L163.25,402.61 L163.5,409.16 L163.75,403.44 L164,410.62 L164.25,403.91 L164.5,409.87 L164.75,401.95 L165,409.41 L165.25,418.83 L165.5,409.79 L165.75,401.28 L166,409.36 L166.25,401.76 L166.5,409.17 L166.75,402.27 L167,409.18 L167.25,401.92 L167.5,408 L167.75,400.67 L168,408.1 L168.25,403.35 L168.5,409.03 L168.75,400.58 L169,407.08 L169.25,403.49 L169.5,407.72 L169.75,402.57 L170,407.04 L170.25,402.51 L170.5,407.95 L170.75,402.67 L171,408.29 L171.25,401.99 L171.5,407.78 L171.75,403 L172,403 L172,409.01 L172.25,401.18 L172.3,384 L172.5,408.28 L172.6,404 L172.75,402.23 L173,409.79 L173.25,400.72 L173.5,409.18 L173.75,412.84 L174,408.4 L174.25,400.8 L174.5,407.19 L174.75,402.29 L175,408.85 L175.25,402.05 L175.5,406.23 L175.75,401.5 L176,409.11 L176.25,401.6 L176.5,408.04 L176.75,399.9 L177,406.56 L177.25,402.37 L177.5,406.06 L177.75,401.74 L178,406.42 L178.25,400.94 L178.5,407.1 L178.75,402.6 L179,408.45 L179.25,400.24 L179.5,409.05 L179.75,412.25 L180,415.91 L180.25,400.58 L180.5,408.87 L180.75,399.48 L181,406.94 L181.25,401.99 L181.5,406.7 L181.75,401.8 L182,408.41 L182.25,400.51 L182.5,406.09 L182.75,400.46 L183,407.95 L183.25,400.89 L183.5,408.18 L183.75,402.33 L184,407.98 L184.25,402.35 L184.5,408.53 L184.75,400.65 L185,408.45 L185.25,402.03 L185.5,405.91 L185.75,400 L186,405.3 L186.25,401.69 L186.5,406.84 L186.75,400.51 L187,404.91 L187.25,402.49 L187.5,405.61 L187.75,402.25 L188,404.63 L188.25,402.61 L188.5,404.39 L188.75,401.71 L189,404.3 L189.25,402.72 L189.5,403.5 L189.75,402.2 L190,403.52 L190.25,402.7 L190.5,403.51 L190.75,402.4 L191,403.61 L191.25,402.47 L191.5,403.28 L191.75,402.37 L192,403.54 L192.25,402.39 L192.5,403.44 L192.75,402.36 L193,403.6 L193.25,402.63 L193.5,403.29 L193.75,402.49 L194,403.31 L194.25,402.62 L194.5,403.32 L194.75,402.6 L195,403.38 L195.25,402.45 L195.5,403.51 L195.75,399.4 L196,403.53 L196.25,402.42 L196.5,403.43 L196.75,402.77 L197,403.6 L197.25,402.44 L197.5,403.24 L197.75,402.65 L198,403.58 L198.25,402.48 L198.5,403.28 L198.75,402.62 L199,403.23 L199.25,402.35 L199.5,403.59 L199.75,402.67 L200,403.41 L200.25,402.43 L200.5,403.47 L200.75,402.74 L201,403.59 L201.25,402.44 L201.5,403.22 L201.75,402.37 L202,403.44 L202.25,402.5 L202.5,403.54 L202.75,402.35 L203,403.45 L203.25,402.67 L203.5,403.41 L203.75,402.36 L204,403.52 L204.25,402.52 L204.5,403.48 L204.75,402.55 L205,403.67 L205.25,402.32 L205.5,403.38 L205.75,402.79 L206,403.29 L206.25,402.67 L206.5,403.41 L206.75,402.46 L207,403.54 L207.25,402.56 L207.5,403.66 L207.75,402.74 L208,403.41 L208.25,402.39 L208.5,403.54 L208.75,402.52 L209,403.55 L209.25,402.79 L209.5,403.56 L209.75,402.54 L210,403.63 L210.25,402.7 L210.5,403.41 L210.75,402.31 L211,403.36 L211.25,402.45 L211.5,403.66 L211.75,402.53 L212,403.46 L212.25,402.54 L212.5,403.33 L212.75,402.54 L213,403.56 L213.25,402.55 L213.5,403.37 L213.75,402.6 L214,403.26 L214.25,402.79 L214.5,403.67 L214.75,402.6 L215,403.56 L215.25,402.46 L215.5,403.34 L215.75,402.64 L216,403.53 L216.25,402.55 L216.5,403.53" fill="none" stroke="#000000" stroke-width="0.9" stroke-linejoin="round" />
<path d="M51,406.91 L51.45,411 L51.9,412.14 L52.35,405.85 L52.8,407.18 L53.25,415.77 L53.7,406.35 L54.15,407.01 L54.6,416.03 L55.05,412.45 L55.5,417.73 L55.95,411.26 L56.4,412.94 L56.85,408.69 L57.3,407.19 L57.75,414.35 L58.2,413.07 L58.65,411.34 L59.1,414.7 L59.55,411.77 L60,416.53 L60.45,408.01 L60.9,411.86 L61.35,411.1 L61.8,409.68 L62.25,412.31 L62.7,408.4 L63.15,414.65 L63.6,415.38 L64.05,407.27 L64.5,411 L64.95,408.93 L65.4,406.8 L65.85,415.76 L66.3,410.64 L66.75,407.55 L67.2,413.34 L67.65,408.17 L68.1,415.88 L68.55,408.36 L69,406.35 L69.45,408.21 L69.9,409.81 L70.35,411.18 L70.8,416 L71.25,413.72 L71.7,409.79 L72.15,406.26 L72.6,407.84 L73.05,417.06 L73.5,411.16 L73.95,413.72 L74.4,406.73 L74.85,406.52 L75.3,415.46 L75.75,412.64 L76.2,409.58 L76.65,409.68 L77.1,407.19 L77.55,408.12 L78,406.5 L78.45,415.47 L78.9,411.38 L79.35,407.67 L79.8,414.41 L80.25,408.44 L80.7,406.98 L81.15,412.9 L81.6,416.18 L82.05,406.64 L82.5,415.21 L82.95,408.46 L83.4,407.4 L83.85,406.59 L84.3,409.62 L84.75,414.41 L85.2,411.85 L85.65,415.82 L86.1,408.84 L86.55,409.93 L87,409.31 L87.45,417.25 L87.9,416.85 L88.35,409.95 L88.8,410.54 L89.25,408.91 L89.7,416.83 L90.15,405.64 L90.6,405.61 L91.05,408.15 L91.5,406.46 L91.95,410.68 L92.4,409.35 L92.85,407.46 L93.3,407.74 L93.75,407.42 L94.2,407.4 L94.65,407.62 L95.1,403.25 L95.55,405.61 L96,403.19 L96.45,398.1 L96.9,406.38 L97.35,406.91 L97.8,406.22 L98.25,402.58 L98.7,404.19 L99.15,403.2 L99.6,407.36 L100.05,403.08 L100.5,403.56 L100.95,404.12 L101.4,402.62 L101.85,406.66 L102.3,405.47 L102.75,403.08 L103.2,404.76 L103.65,402.65 L104.1,405.29 L104.55,409.26 L105,412.43 L105.45,409.97 L105.9,404.96 L106.35,405.36 L106.8,403.79 L107.25,405.37 L107.7,403.9 L108.15,402.78 L108.6,403.69 L109.05,404.07 L109.5,406.65 L109.95,402.65 L110.4,402.49 L110.85,404.85 L111.3,413.44 L111.75,406.56 L112.2,405.51 L112.65,402.33 L113.1,406.01 L113.55,405.39 L114,402.68 L114.45,404.27 L114.9,402.18 L115.35,405.93 L115.8,405.5 L116.25,405.92 L116.7,405.68 L117.15,403.2 L117.6,405.8 L118.05,412.91 L118.5,402.52 L118.95,403.77 L119.4,404.29 L119.85,403.22 L120.3,404.81 L120.75,404.78 L121.2,402.95 L121.65,404.85 L122.1,403.51 L122.55,405.39 L123,403.15 L123.45,405.68 L123.9,403.75 L124.35,404.43 L124.8,405.02 L125.25,404.23 L125.7,402.91 L126.15,406.51 L126.6,402.08 L127.05,403.21 L127.5,404.32 L127.95,401.7 L128.4,402.32 L128.85,405.53 L129.3,405.44 L129.75,404.69 L130.2,406.01 L130.65,405.28 L131.1,402.99 L131.55,404.72 L132,403.2 L132.45,405.25 L132.9,403.42 L133.35,402.27 L133.8,405.88 L134.25,404.95 L134.7,405.22 L135.15,404.3 L135.6,409.93 L136.05,403.74 L136.5,404.33 L136.95,401.81 L137.4,404.28 L137.85,405.57 L138.3,405.03 L138.75,405.52 L139.2,403.98 L139.65,405.91 L140.1,402.04 L140.55,405.88 L141,403.36 L141.45,401.95 L141.9,404.6 L142.35,403.77 L142.8,409.92 L143.25,412.97 L143.7,402.19 L144.15,404.58 L144.6,403.57 L145.05,404.14 L145.5,404 L145.95,402.17 L146.4,404.06 L146.85,405.81 L147.3,402.36 L147.75,401.56 L148,402 L148.2,401.84 L148.3,385 L148.6,403 L148.65,403.8 L149.1,406.37 L149.55,401.72 L150,406.45 L150.45,392.78 L150.9,402.1 L151.35,403.59 L151.8,402.54 L152.25,405.07 L152.7,404.21 L153.15,402.94 L153.6,402.78 L154.05,405.83 L154.5,405.33 L154.95,403.68 L155.4,403.53 L155.85,405.19 L156.3,406.35 L156.75,401.9 L157.2,402.3 L157.65,403.31 L158.1,404.04 L158.55,401.86 L159,401.77 L159.45,402.6 L159.9,403.43 L160.35,405.2 L160.8,404.55 L161.25,401.65 L161.7,401.73 L162.15,403.76 L162.6,405.87 L163.05,406.07 L163.5,403.33 L163.95,405.94 L164.4,397.24 L164.85,403.53 L165.3,405.23 L165.75,403.33 L166.2,402.27 L166.65,404.38 L167.1,401.93 L167.55,404.82 L168,405.55 L168.45,406.08 L168.9,403.74 L169.35,402.09 L169.8,406.01 L170.25,405.85 L170.7,406.34 L171.15,404.47 L171.6,404.87 L172.05,403.37 L172.5,402.42 L172.7,403 L172.95,402.96 L173,423 L173.3,404 L173.4,405.1 L173.85,403.12 L174.3,404.96 L174.75,404.01 L175.2,403.74 L175.65,412.98 L176.1,402.33 L176.55,403.94 L177,402.3 L177.45,406.19 L177.9,403.94 L178.35,403.16 L178.8,402.34 L179.25,404.47 L179.7,403.49 L180.15,402.14 L180.6,401.66 L181.05,403.46 L181.5,404.42 L181.95,404.09 L182.4,406 L182.85,406.06 L183.3,406.18 L183.75,405.5 L184.2,403.89 L184.65,404.12 L185.1,403.48 L185.55,403.49 L186,401.73 L186.45,405.4 L186.9,402.73 L187.35,401.7 L187.8,403.75 L188.25,404.9 L188.7,403.59 L189.15,403.26 L189.6,404.56 L190.05,402.36 L190.5,401.67 L190.95,404.22 L191.4,403.93 L191.85,405.39 L192.3,403.4 L192.75,405.01 L193.2,401.62 L193.65,401.64 L194.1,404.14 L194.55,406.45 L195,401.78 L195.45,402.03 L195.9,403.1 L196.35,402.92 L196.8,403.9 L197.25,405.32 L197.7,401.37 L198.15,402.19 L198.6,403.91 L199.05,401.36 L199.5,403.03 L199.95,402.72 L200.4,403.01 L200.85,401.52 L201.3,403.72 L201.75,404.01 L202.2,404.55 L202.65,405.45 L203.1,402.78 L203.55,404.1 L204,403.14 L204.45,402.13 L204.9,405.08 L205.35,404.43 L205.8,405.29 L206.25,404.74 L206.7,405.15 L207.15,401.66 L207.6,401.15 L208.05,401.94 L208.5,402.86 L208.95,404.06 L209.4,402.95 L209.85,403.27 L210.3,404.34 L210.75,401.29 L211.2,403.95 L211.65,407.9 L212.1,402.03 L212.55,404.1 L213,403.91 L213.45,402.68 L213.9,402.18 L214.35,404.51 L214.8,402.06 L215.25,400.97 L215.7,401.91 L216.15,400.9" fill="none" stroke="#ff0000" stroke-width="0.8" stroke-linejoin="round" />
<path d="M51,398.26 L51.2,408.7 L51.4,397.35 L51.6,397.2 L51.8,399.76 L52,397.97 L52.2,404.57 L52.4,396.25 L52.6,407.97 L52.8,407.4 L53,394.57 L53.2,402.65 L53.4,396.14 L53.6,398.4 L53.8,400.79 L54,397.13 L54.2,401.57 L54.4,408.46 L54.6,398.43 L54.8,397.37 L55,394.46 L55.2,408.76 L55.4,408.4 L55.6,407.77 L55.8,395.53 L56,408.62 L56.2,404.31 L56.4,407.65 L56.6,400.7 L56.8,397.87 L57,406.48 L57.2,404.51 L57.4,406.27 L57.6,397.61 L57.8,396.61 L58,406.05 L58.2,394.9 L58.4,408.78 L58.6,396.63 L58.8,403.61 L59,400.89 L59.2,399.47 L59.4,397.17 L59.6,406.32 L59.8,408.34 L60,405.55 L60.2,403.63 L60.4,405.3 L60.6,402.67 L60.8,403.01 L61,408.23 L61.2,398.88 L61.4,397.97 L61.6,408.85 L61.8,408.79 L62,401.79 L62.2,406.66 L62.4,405.8 L62.6,395.78 L62.8,395.89 L63,408.13 L63.2,402.17 L63.4,401.4 L63.6,404.97 L63.8,403.92 L64,401.22 L64.2,399.04 L64.4,408.46 L64.6,406.97 L64.8,396.22 L65,400.76 L65.2,406.14 L65.4,407.88 L65.6,409.13 L65.8,398.31 L66,408.08 L66.2,405.13 L66.4,395.73 L66.6,397.87 L66.8,397.54 L67,395.88 L67.2,405.03 L67.4,399.37 L67.6,405.1 L67.8,395.95 L68,407.8 L68.2,405.17 L68.4,406.47 L68.6,403.83 L68.8,401.61 L69,397.94 L69.2,408.88 L69.4,396.93 L69.6,402.57 L69.8,396.58 L70,396.38 L70.2,405.21 L70.4,408.09 L70.6,401.68 L70.8,406.69 L71,407.66 L71.2,402.8 L71.4,406.41 L71.6,399.17 L71.8,397.03 L72,397.62 L72.2,394.89 L72.4,395.86 L72.6,406.06 L72.8,408.34 L73,395.66 L73.2,405.61 L73.4,406.47 L73.6,405.02 L73.8,402.29 L74,402.09 L74.2,405.23 L74.4,398.49 L74.6,406.11 L74.8,397.71 L75,395.35 L75.2,408.83 L75.4,396.19 L75.6,397.78 L75.8,395.67 L76,394.99 L76.2,396.7 L76.4,408.66 L76.6,405.28 L76.8,400.92 L77,394.95 L77.2,394.97 L77.4,402.13 L77.6,407.67 L77.8,402.43 L78,396.04 L78.2,395.97 L78.4,406.72 L78.6,398.21 L78.8,397.13 L79,401.02 L79.2,398.8 L79.4,399.03 L79.6,406.79 L79.8,401.93 L80,409.83 L80.2,396.37 L80.4,399.31 L80.6,408.12 L80.8,401.43 L81,406.45 L81.2,401.4 L81.4,401 L81.6,408.2 L81.8,399.62 L82,403.12 L82.2,403.39 L82.4,395.57 L82.6,396.41 L82.8,398.47 L83,394.97 L83.2,405.18 L83.4,403.62 L83.6,400.07 L83.8,401.23 L84,395.56 L84.2,400.96 L84.4,407.57 L84.6,395.52 L84.8,404.75 L85,405.33 L85.2,398.25 L85.4,399.4 L85.6,397.66 L85.8,403.46 L86,400.51 L86.2,396.93 L86.4,399.31 L86.6,398.65 L86.8,409.79 L87,404.14 L87.2,402.17 L87.4,402.33 L87.6,403.63 L87.8,409.71 L88,400.77 L88.2,397.13 L88.4,397.76 L88.6,395.11 L88.8,398.01 L89,403.99 L89.2,396.25 L89.4,407.45 L89.6,409.15 L89.8,396.82 L90,406.96 L90.2,409.62 L90.4,409.7 L90.6,397.79 L90.8,406.31 L91,399.9 L91.2,397.93 L91.4,398.82 L91.6,398.87 L91.8,402.04 L92,401.38 L92.2,407.78 L92.4,407.55 L92.6,408.12 L92.8,395.33 L93,409.53 L93.2,405.01 L93.4,408.15 L93.6,406.68 L93.8,408.05 L94,407.86 L94.2,404.38 L94.4,396.84 L94.6,404.83 L94.8,395.52 L95,400.05 L95.2,399.08 L95.4,399.25 L95.6,406.59 L95.8,407.68 L96,407.93 L96.2,403.88 L96.4,406.06 L96.6,396.8 L96.8,399.95 L97,406.23 L97.2,401.48 L97.4,402.04 L97.6,406.16 L97.8,398.3 L98,407.29 L98.2,405.49 L98.4,396.09 L98.6,401 L98.8,407.94 L99,398.82 L99.2,395.18 L99.4,397.4 L99.6,402.63 L99.8,396.43 L100,395.76 L100.2,396.92 L100.4,406.54 L100.6,408.53 L100.8,396.89 L101,402.79 L101.2,404.48 L101.4,395.98 L101.6,407.23 L101.8,405.38 L102,404.44 L102.2,401.65 L102.4,405.93 L102.6,406.4 L102.8,398.94 L103,397.03 L103.2,408.54 L103.4,401.67 L103.6,400.67 L103.8,407.82 L104,404.88 L104.2,405.22 L104.4,406 L104.6,406.4 L104.8,404.31 L105,408.55 L105.2,405.76 L105.4,406.25 L105.6,406.28 L105.8,395.63 L106,408.4 L106.2,405.34 L106.4,396.14 L106.6,404.73 L106.8,404.55 L107,401.71 L107.2,399.07 L107.4,402.24 L107.6,397.18 L107.8,400.27 L108,403.34 L108.2,404.56 L108.4,402.25 L108.6,406.85 L108.8,406.89 L109,407.65 L109.2,402.87 L109.4,398.3 L109.6,395.61 L109.8,402.67 L110,401.83 L110.2,397.47 L110.4,396.88 L110.6,407.74 L110.8,404.88 L111,406.88 L111.2,399.25 L111.4,400.66 L111.6,402.64 L111.8,405.53 L112,395.41 L112.2,401.13 L112.4,403.68 L112.6,399.65 L112.8,407 L113,407.1 L113.2,395.37 L113.4,400.38 L113.6,402.8 L113.8,400.27 L114,407.61 L114.2,398.88 L114.4,406.55 L114.6,399.43 L114.8,406.37 L115,396.29 L115.2,405.9 L115.4,405.76 L115.6,402.2 L115.8,398.88 L116,399.97 L116.2,396.62 L116.4,398.55 L116.6,401.54 L116.8,401.61 L117,409.2 L117.2,406.02 L117.4,397.7 L117.6,404.87 L117.8,405.85 L118,399.46 L118.2,395.72 L118.4,405.28 L118.6,404.13 L118.8,401.06 L119,406.56 L119.2,398.24 L119.4,404.05 L119.6,403.06 L119.8,399.81 L120,404.66 L120.2,396.32 L120.4,398.81 L120.6,401.11 L120.8,406.91 L121,404.4 L121.2,395.69 L121.4,402.69 L121.6,396.69 L121.8,399.79 L122,406.8 L122.2,398.35 L122.4,396.26 L122.6,406.31 L122.8,397.6 L123,402.16 L123.2,398.17 L123.4,406.46 L123.6,404.11 L123.8,404.67 L124,396.23 L124.2,399.36 L124.4,405.31 L124.6,398.54 L124.8,396.29 L125,405.27 L125.2,398.26 L125.4,402.08 L125.6,397.37 L125.8,396.59 L126,400.91 L126.2,402.59 L126.4,404.06 L126.6,405.86 L126.8,401.22 L127,403.07 L127.2,398.94 L127.4,405.27 L127.6,399.32 L127.8,396.05 L128,397.93 L128.2,394.62 L128.4,402.45 L128.6,397.48 L128.8,400.55 L129,399.26 L129.2,403.96 L129.4,398.91 L129.6,398.41 L129.8,398.93 L130,398.01 L130.2,402.49 L130.4,401.22 L130.6,402.83 L130.8,397.44 L131,403.78 L131.2,401.39 L131.4,405.27 L131.6,405.36 L131.8,396.72 L132,401.89 L132.2,398.88 L132.4,402.66 L132.6,397.93 L132.8,401.56 L133,403.16 L133.2,401.57 L133.4,399.4 L133.6,402.96 L133.8,404.43 L134,399.25 L134.2,397.99 L134.4,400.2 L134.6,400.31 L134.8,400.2 L135,404.29 L135.2,399.12 L135.4,397.83 L135.6,397.58 L135.8,400.88 L136,399.41 L136.2,400.92 L136.4,402.29 L136.6,399.83 L136.8,398.59 L137,396.53 L137.2,399.01 L137.4,399.82 L137.6,398.08 L137.8,394.74 L138,393.87 L138.2,402.45 L138.4,400.59 L138.6,402.85 L138.8,400.08 L139,402.53 L139.2,398.7 L139.4,400.23 L139.6,400.08 L139.8,400.53 L140,399.59 L140.2,399.96 L140.4,403.36 L140.6,398.91 L140.8,400.98 L141,403.03 L141.2,400.81 L141.4,400.73 L141.6,401.11 L141.8,399.17 L142,399.5 L142.2,402.01 L142.4,401.49 L142.6,399.64 L142.8,400.91 L143,403.43 L143.2,399.52 L143.4,402.5 L143.6,403.19 L143.8,401.2 L144,399.31 L144.2,400.86 L144.4,402.42 L144.6,401.8 L144.8,402.71 L145,401.01 L145.2,398.53 L145.4,398.66 L145.6,402.49 L145.8,401.18 L146,403.05 L146.2,402.73 L146.4,401.71 L146.6,390.81 L146.8,402.38 L147,399.36 L147.2,400.35 L147.4,401.71 L147.6,401.11 L147.8,399.33 L148,400.12 L148.2,399.18 L148.4,402.68 L148.6,399.41 L148.8,401.74 L149,399.35 L149.2,399.14 L149.4,398.71 L149.6,400.3 L149.8,402.68 L150,403.05 L150.2,401.19 L150.4,402.82 L150.6,401.77 L150.8,403.29 L151,399.54 L151.2,399.78 L151.4,399.85 L151.6,402.6 L151.8,403.18 L152,402.38 L152.2,403.31 L152.4,398.54 L152.6,399.31 L152.8,399.26 L153,400.15 L153.2,400.34 L153.4,400.51 L153.6,407.05 L153.8,401.12 L154,401.79 L154.2,402.57 L154.4,399.26 L154.6,403.43 L154.8,399.79 L155,400.59 L155.2,403.01 L155.4,399.25 L155.6,400.61 L155.8,400.26 L156,398.94 L156.2,398.72 L156.4,399.54 L156.6,401.07 L156.8,398.73 L157,399.5 L157.2,403.22 L157.4,400.92 L157.6,399.88 L157.8,403.4 L158,402.07 L158.2,400.23 L158.4,402.73 L158.6,398.69 L158.8,400.09 L159,403.26 L159.2,401.14 L159.4,398.98 L159.6,398.94 L159.8,403.21 L160,400.4 L160.2,402.94 L160.4,399.77 L160.6,401.43 L160.8,399.68 L161,402.74 L161.2,402.47 L161.4,403.36 L161.6,400.96 L161.8,402.32 L162,398.96 L162.2,401.56 L162.4,402.22 L162.6,402.23 L162.8,399.89 L163,398.58 L163.2,401.58 L163.4,402.29 L163.6,401.19 L163.8,399.39 L164,400.52 L164.2,399.63 L164.4,402.89 L164.6,401.9 L164.8,401.55 L165,402.1 L165.2,403.42 L165.4,403.31 L165.6,398.57 L165.8,398.73 L166,403.48 L166.2,400.36 L166.4,402.17 L166.6,400.39 L166.8,402.48 L167,402.25 L167.2,399.98 L167.4,402.13 L167.6,398.62 L167.8,398.73 L168,401.06 L168.2,403.09 L168.4,394.71 L168.6,398.74 L168.8,400.14 L169,399.16 L169.2,402.93 L169.4,400.49 L169.6,400.08 L169.8,400.68 L170,400.42 L170.2,401.13 L170.4,398.91 L170.6,398.97 L170.8,399.84 L171,399.11 L171.2,403.34 L171.4,399.27 L171.6,402.95 L171.8,400.01 L172,403.46 L172.2,399.24 L172.4,401.38 L172.6,402.02 L172.8,398.63 L173,401.24 L173.2,400.99 L173.4,402.52 L173.6,400.34 L173.8,400.97 L174,390.78 L174.2,401.96 L174.4,403.33 L174.6,402.4 L174.8,402.49 L175,402.27 L175.2,399.65 L175.4,403.2 L175.6,398.91 L175.8,400.87 L176,402.61 L176.2,402.16 L176.4,399.72 L176.6,399.97 L176.8,401.2 L177,400.41 L177.2,391.98 L177.4,399.88 L177.6,402.21 L177.8,400.79 L178,401.05 L178.2,399.1 L178.4,398.62 L178.6,403.04 L178.8,402.73 L179,390.38 L179.2,401.77 L179.4,401.86 L179.6,400.74 L179.8,399 L180,398.61 L180.2,402.23 L180.4,402.61 L180.6,398.84 L180.8,402.57 L181,398.61 L181.2,402.92 L181.4,401.04 L181.6,401 L181.8,403.5 L182,402.23 L182.2,401.18 L182.4,402.75 L182.6,400.79 L182.8,400 L183,402.49 L183.2,402.56 L183.4,401.58 L183.6,400 L183.8,403.27 L184,402.46 L184.2,399.57 L184.4,401.73 L184.6,401.42 L184.8,399.08 L185,401.84 L185.2,399.3 L185.4,401.81 L185.6,401.65 L185.8,402.66 L186,400.23 L186.2,401.39 L186.4,402 L186.6,399.31 L186.8,399.91 L187,408.51 L187.2,402.46 L187.4,400.82 L187.6,402.79 L187.8,402.91 L188,400.73 L188.2,400.63 L188.4,401.67 L188.6,401.66 L188.8,402.61 L189,400.04 L189.2,402.64 L189.4,401.03 L189.6,400.41 L189.8,400.73 L190,400.11 L190.2,400.4 L190.4,402.1 L190.6,400.64 L190.8,402.55 L191,401.75 L191.2,400.8 L191.4,400.8 L191.6,401.46 L191.8,401.54 L192,400.47 L192.2,399.45 L192.4,401.41 L192.6,400.54 L192.8,402.17 L193,402.57 L193.2,400.62 L193.4,400.68 L193.6,402.94 L193.8,402.23 L194,402.21 L194.2,400.27 L194.4,402.73 L194.6,401.53 L194.8,401.09 L195,400.28 L195.2,401.92 L195.4,402.26 L195.6,400.9 L195.8,402.16 L196,401.92 L196.2,400.43 L196.4,401.89 L196.6,399.84 L196.8,401.24 L197,401.28 L197.2,402.12 L197.4,402.17 L197.6,401.52 L197.8,399.51 L198,399.91 L198.2,401.68 L198.4,402.58 L198.6,399.68 L198.8,402.33 L199,401.27 L199.2,401.89 L199.4,399.56 L199.6,400.92 L199.8,402.82 L200,399.99 L200.2,400.23 L200.4,400.9 L200.6,401.22 L200.8,399.65 L201,399.6 L201.2,401.64 L201.4,399.51 L201.6,400.36 L201.8,400.46 L202,400.39 L202.2,402.83 L202.4,400.26 L202.6,401.85 L202.8,400.2 L203,402.84 L203.2,402.19 L203.4,400.27 L203.6,401.59 L203.8,401.53 L204,399.55 L204.2,402.65 L204.4,400.45 L204.6,402.05 L204.8,399.87 L205,401.22 L205.2,400.89 L205.4,402.12 L205.6,400.54 L205.8,399.93 L206,400.51 L206.2,399.76 L206.4,403.13 L206.6,400.8 L206.8,402.77 L207,401.39 L207.2,402.93 L207.4,401.33 L207.6,400.23 L207.8,400.45 L208,401.07 L208.2,400 L208.4,401.94 L208.6,399.83 L208.8,401.3 L209,401.56 L209.2,403.06 L209.4,401.12 L209.6,402.79 L209.8,401.41 L210,401.84 L210.2,402.64 L210.4,401.56 L210.6,403.08 L210.8,402.82 L211,401.03 L211.2,402.28 L211.4,400.21 L211.6,400.49 L211.8,402.79 L212,400.68 L212.2,402.99 L212.4,400.25 L212.6,401.38 L212.8,400.32 L213,402.27 L213.2,402.07 L213.4,400.77 L213.6,400.01 L213.8,403.05 L214,402.08 L214.2,401.84 L214.4,402.22 L214.6,399.71 L214.8,400.05 L215,402.75 L215.2,400.93 L215.4,402.38 L215.6,402.91 L215.8,403.09 L216,403.25 L216.2,402.88 L216.4,400.74" fill="none" stroke="#0000ff" stroke-width="0.9" stroke-linejoin="round" />
<path d="M51,401.87 L51.6,400.71 L52.2,399.62 L52.8,396.96 L53.4,398.88 L54,400.78 L54.6,400.51 L55.2,402.11 L55.8,402.81 L56.4,399.81 L57,402.52 L57.6,398.2 L58.2,400.26 L58.8,404.07 L59.4,401.61 L60,401.43 L60.6,399.57 L61.2,399.59 L61.8,397.02 L62.4,399.72 L63,403.36 L63.6,401.87 L64.2,400.46 L64.8,399.96 L65.4,399.57 L66,399.97 L66.6,401.64 L67.2,399.86 L67.8,401.91 L68.4,399.34 L69,400.03 L69.6,399.29 L70.2,399.28 L70.8,401.37 L71.4,400.48 L72,401.79 L72.6,399.47 L73.2,400.01 L73.8,398.52 L74.4,402.74 L75,401.31 L75.6,402.71 L76.2,400.97 L76.8,397.91 L77.4,399.62 L78,399.73 L78.6,401.85 L79.2,403.11 L79.8,401.39 L80.4,400.63 L81,397.73 L81.6,399.93 L82.2,401.3 L82.8,402.79 L83.4,400.48 L84,400.61 L84.6,399.54 L85.2,397.54 L85.8,399.14 L86.4,401.83 L87,400.19 L87.6,399.23 L88.2,400.39 L88.8,399.28 L89.4,399.39 L90,400.97 L90.6,401.09 L91.2,400.52 L91.8,399.42 L92.4,399.45 L93,400.62 L93.6,399.71 L94.2,401.22 L94.8,401.2 L95.4,399.14 L96,399.63 L96.6,399.87 L97.2,398.68 L97.8,401.72 L98.4,400.86 L99,402.32 L99.6,401.22 L100.2,398.55 L100.8,396.91 L101.4,399.8 L102,399.72 L102.6,399.94 L103.2,400.2 L103.8,400.8 L104.4,398.77 L105,399.31 L105.6,398.72 L106.2,400.77 L106.8,399.47 L107.4,400.4 L108,398.34 L108.6,399.02 L109.2,400.11 L109.8,400.99 L110.4,402.39 L111,400.97 L111.6,398.9 L112.2,398.99 L112.8,400.11 L113.4,402.22 L114,401.53 L114.6,402.55 L115.2,399.13 L115.8,398.62 L116.4,397.38 L117,400.99 L117.6,400.01 L118.2,400.15 L118.8,401.31 L119.4,398.62 L120,397.94 L120.6,400.5 L121.2,400.46 L121.8,402.35 L122.4,400.47 L123,400.53 L123.6,400.01 L124.2,399.06 L124.8,402.01 L125.4,400.66 L126,401.01 L126.6,400.42 L127.2,400.26 L127.8,398.41 L128.4,398.93 L129,400.89 L129.6,402.67 L130.2,400.38 L130.8,398.18 L131.4,398.47 L132,399.37 L132.6,399.08 L133.2,400.81 L133.8,398.68 L134.4,399.78 L135,398.63 L135.6,398.69 L136.2,398.96 L136.8,400.6 L137.4,399.27 L138,400.59 L138.6,396.8 L139.2,396.98 L139.8,398.92 L140.4,399.64 L141,397.66 L141.6,400.41 L142.2,398.31 L142.8,396.68 L143.4,397.26 L144,397.79 L144.6,400.31 L145.2,397.8 L145.8,398.42 L146.4,397.48 L147,394.63 L147.6,398.02 L148.2,399.66 L148.8,398.03 L149.4,399.21 L150,397.52 L150.6,396.92 L151.2,395.43 L151.8,397.76 L152.4,396.75 L153,400.2 L153.6,398.65 L154.2,399.73 L154.8,394.32 L155.4,396.16 L156,395.91 L156.6,398.22 L157.2,398.98 L157.8,396.56 L158.4,394.81 L159,394.03 L159.6,396.85 L160.2,399.2 L160.8,399.75 L161.4,398.06 L162,395.77 L162.6,395.51 L163.2,394.37 L163.8,395.35 L164.4,399.31 L165,397.96 L165.6,397.69 L166.2,395.85 L166.8,397.16 L167.4,397.95 L168,396.71 L168.6,397.83 L169.2,397.04 L169.8,398.04 L170.4,397.04 L171,395.48 L171.6,399.38 L172.2,397.93 L172.8,396.69 L173.4,394.87 L174,395.76 L174.6,395.82 L175.2,395.49 L175.8,397.73 L176.4,399.31 L177,397.48 L177.6,397.28 L178.2,397.27 L178.8,396.11 L179.4,395.98 L180,398.14 L180.6,398.38 L181.2,399.22 L181.8,395.2 L182.4,393.53 L183,396.23 L183.6,397.45 L184.2,397.3 L184.8,397.94 L185.4,396.47 L186,396.53 L186.6,394.41 L187.2,395.61 L187.8,397.41 L188.4,397 L189,398.03 L189.6,396.08 L190.2,394.97 L190.8,397.35 L191.4,397.41 L192,398.62 L192.6,397.96 L193.2,395.73 L193.8,394.81 L194.4,395.1 L195,394.94 L195.6,396.82 L196.2,398.26 L196.8,396.74 L197.4,394.17 L198,397.36 L198.6,394.3 L199.2,397.31 L199.8,398.09 L200.4,398.25 L201,394.71 L201.6,394.76 L202.2,394.65 L202.8,397.17 L203.4,397.39 L204,397.56 L204.6,396.77 L205.2,397.15 L205.8,395.29 L206.4,396.19 L207,395.39 L207.6,397.85 L208.2,395.27 L208.8,396.5 L209.4,394.7 L210,393.7 L210.6,394.47 L211.2,396.68 L211.8,397.05 L212.4,395.38 L213,394.44 L213.6,394.02 L214.2,394.45 L214.8,396.01 L215.4,397.19 L216,397.88" fill="none" stroke="#62e85a" stroke-width="1.1" stroke-linejoin="round" />
<path d="M51,402.2 H216.6" stroke="#5a5a5a" stroke-width="1.3" stroke-dasharray="1.9,2.3"/>
<text x="163.9" y="376" font-size="10" fill="#ff0000" stroke="#ff0000" text-anchor="middle" >L</text>
<text x="176.6" y="376" font-size="10" fill="#0000ff" stroke="#0000ff" text-anchor="middle" >M</text>
<text x="189.9" y="376" font-size="10" fill="#000" stroke="#000" text-anchor="middle" >N</text>
<text x="48.6" y="376.4" font-size="9" fill="#333" stroke="#333" text-anchor="end" >20</text>
<text x="48.6" y="406.2" font-size="9" fill="#333" stroke="#333" text-anchor="end" >0</text>
<text x="48.6" y="436.3" font-size="9" fill="#333" stroke="#333" text-anchor="end" >-20</text>
<text x="128.6" y="432.4" font-size="10.8" fill="#62e85a" stroke="#62e85a" textLength="68.2" lengthAdjust="spacingAndGlyphs">(E+(V<tspan font-size="7.6" dy="2.8">i</tspan><tspan dy="-2.8">-V</tspan><tspan font-size="7.6" dy="2.8">0</tspan><tspan dy="-2.8">)×B)</tspan><tspan font-size="7.6" dy="3.4">N</tspan></text>
<text x="51" y="451.5" font-size="8.8" fill="#333" stroke="#333" text-anchor="middle" >23:43:00</text>
<text x="273.9" y="451.5" font-size="8.8" fill="#333" stroke="#333" text-anchor="middle" >23:43:00</text>
<text x="106.2" y="451.5" font-size="8.8" fill="#333" stroke="#333" text-anchor="middle" >23:43:20</text>
<text x="329.1" y="451.5" font-size="8.8" fill="#333" stroke="#333" text-anchor="middle" >23:43:20</text>
<text x="161.4" y="451.5" font-size="8.8" fill="#333" stroke="#333" text-anchor="middle" >23:43:40</text>
<text x="384.3" y="451.5" font-size="8.8" fill="#333" stroke="#333" text-anchor="middle" >23:43:40</text>
<text x="216.6" y="451.5" font-size="8.8" fill="#333" stroke="#333" text-anchor="middle" >23:44:00</text>
<text x="439.5" y="451.5" font-size="8.8" fill="#333" stroke="#333" text-anchor="middle" >23:44:00</text>
<text x="134.4" y="463.2" font-size="9.8" fill="#333" stroke="#333" text-anchor="middle" xml:space="preserve">15-Dec-2015  UT (hh:mm:ss)</text>
<text x="3.5" y="7.9" font-size="9.8" fill="#222" stroke="#222" text-anchor="start" >(a)</text>
<text x="3.5" y="98.1" font-size="9.8" fill="#222" stroke="#222" text-anchor="start" >(b)</text>
<text x="3.5" y="188.3" font-size="9.8" fill="#222" stroke="#222" text-anchor="start" >(c)</text>
<text x="3.5" y="278.5" font-size="9.8" fill="#222" stroke="#222" text-anchor="start" >(d)</text>
<text x="3.5" y="368.7" font-size="9.8" fill="#222" stroke="#222" text-anchor="start" >(e)</text>
<text x="221.8" y="7.9" font-size="9.8" fill="#222" stroke="#222" text-anchor="start" >(f)</text>
<text x="221.8" y="98.1" font-size="9.8" fill="#222" stroke="#222" text-anchor="start" >(g)</text>
<text x="221.8" y="188.3" font-size="9.8" fill="#222" stroke="#222" text-anchor="start" >(h)</text>
<text x="221.8" y="278.5" font-size="9.8" fill="#222" stroke="#222" text-anchor="start" >(i)</text>
<text x="221.8" y="368.7" font-size="9.8" fill="#222" stroke="#222" text-anchor="start" >(j)</text>
<text transform="translate(18.3,41.7) rotate(-90)" font-size="11.3" fill="#222" stroke="#222" text-anchor="middle">B</text>
<text transform="translate(32.4,41.7) rotate(-90)" font-size="11.3" fill="#222" stroke="#222" text-anchor="middle">(nT)</text>
<text transform="translate(9.3,132.4) rotate(-90)" font-size="11.3" fill="#222" stroke="#222" text-anchor="middle">V<tspan font-size="8.5" dy="3.5">i</tspan></text>
<text transform="translate(27.2,132.4) rotate(-90)" font-size="11.3" fill="#222" stroke="#222" text-anchor="middle">(km/s)</text>
<text transform="translate(9.3,222.6) rotate(-90)" font-size="11.3" fill="#222" stroke="#222" text-anchor="middle">V<tspan font-size="8.5" dy="3.5">e</tspan></text>
<text transform="translate(27.2,222.6) rotate(-90)" font-size="11.3" fill="#222" stroke="#222" text-anchor="middle">(km/s)</text>
<text transform="translate(13.5,312.2) rotate(-90)" font-size="11.3" fill="#222" stroke="#222" text-anchor="middle">j</text>
<text transform="translate(29.6,312.2) rotate(-90)" font-size="11.3" fill="#222" stroke="#222" text-anchor="middle">(<tspan font-style="italic">μ</tspan>A/m<tspan font-size="9.5" dy="-4.5">2</tspan><tspan dy="4.5">)</tspan></text>
<text transform="translate(18.3,402.2) rotate(-90)" font-size="11.3" fill="#222" stroke="#222" text-anchor="middle">E</text>
<text transform="translate(32.4,402.2) rotate(-90)" font-size="11.3" fill="#222" stroke="#222" text-anchor="middle">(mV/m)</text>
<rect x="273.9" y="3.9" width="165.6" height="75.4" fill="none" stroke="#555555" stroke-width="1.25"/>
<path d="M329.1,79.3 V77.1 M329.1,3.9 V6.1 M384.3,79.3 V77.1 M384.3,3.9 V6.1 M273.9,79.3 H276.1 M273.9,48.01 H276.1 M273.9,23.73 H276.1 M273.9,3.9 H276.1 M273.9,75.73 H275.2 M273.9,72.28 H275.2 M273.9,68.93 H275.2 M273.9,65.68 H275.2 M273.9,62.53 H275.2 M273.9,59.47 H275.2 M273.9,56.49 H275.2 M273.9,53.59 H275.2 M273.9,50.76 H275.2 M273.9,45.32 H275.2 M273.9,42.7 H275.2 M273.9,40.14 H275.2 M273.9,37.64 H275.2 M273.9,35.19 H275.2 M273.9,32.8 H275.2 M273.9,30.46 H275.2 M273.9,28.17 H275.2 M273.9,25.93 H275.2 M273.9,21.58 H275.2 M273.9,19.47 H275.2 M273.9,17.39 H275.2 M273.9,15.36 H275.2 M273.9,13.37 H275.2 M273.9,11.4 H275.2 M273.9,9.48 H275.2 M273.9,7.59 H275.2 M273.9,5.73 H275.2" stroke="#555555" stroke-width="1.25" fill="none"/>
<path d="M439.5,3.9 V79.3" stroke="#ff0000" stroke-width="1.1"/>
<path d="M439.5,79.3 H437.3 M439.5,68.91 H438.2 M439.5,62.84 H438.2 M439.5,58.53 H438.2 M439.5,55.19 H438.2 M439.5,52.45 H438.2 M439.5,50.14 H438.2 M439.5,48.14 H438.2 M439.5,46.38 H438.2 M439.5,44.8 H437.3 M439.5,34.41 H438.2 M439.5,28.34 H438.2 M439.5,24.03 H438.2 M439.5,20.69 H438.2 M439.5,17.95 H438.2 M439.5,15.64 H438.2 M439.5,13.64 H438.2 M439.5,11.88 H438.2 M439.5,10.3 H437.3" stroke="#ff0000" stroke-width="1"/>
<path d="M307.1,3.9 V79.3" stroke="#6a6a6a" stroke-width="1.6" stroke-dasharray="1.6,2.6"/>
<path d="M351,3.9 V79.3" stroke="#6a6a6a" stroke-width="1.6" stroke-dasharray="1.6,2.6"/>
<path d="M273.9,44.8 H439.5" stroke="#5a5a5a" stroke-width="1.3" stroke-dasharray="1.9,2.3"/>
<path d="M274.2,12.42 L274.8,12.85 L275.4,13.14 L276,13.17 L276.6,13.09 L277.2,13.28 L277.8,13.62 L278.4,13.69 L279,13.68 L279.6,13.62 L280.2,13.49 L280.8,13.44 L281.4,13.31 L282,13.04 L282.6,12.76 L283.2,12.52 L283.8,12.3 L284.4,12.2 L285,12.09 L285.6,11.84 L286.2,11.6 L286.8,11.2 L287.4,10.82 L288,10.78 L288.6,10.7 L289.2,10.46 L289.8,10.2 L290.4,9.94 L291,9.94 L291.6,10.1 L292.2,10.09 L292.8,9.86 L293.4,9.91 L294,10.17 L294.6,10.39 L295.2,10.7 L295.8,10.81 L296.4,10.92 L297,11.38 L297.6,11.6 L298.2,11.62 L298.8,11.82 L299.4,11.96 L300,11.95 L300.6,11.72 L301.2,11.53 L301.8,11.66 L302.4,11.8 L303,11.82 L303.6,11.63 L304.2,11.25 L304.8,10.87 L305.4,10.6 L306,10.38 L306.6,10.13 L307.2,9.74 L307.8,9.33 L308.4,9.15 L309,9.1 L309.6,8.94 L310.2,8.47 L310.8,7.99 L311.4,7.7 L312,7.39 L312.6,7.12 L313.2,7.07 L313.8,7.23 L314.4,7.12 L315,6.82 L315.6,6.84 L316.2,6.95 L316.8,6.9 L317.4,6.75 L318,6.58 L318.6,6.57 L319.2,6.73 L319.8,6.78 L320.4,6.63 L321,6.66 L321.6,6.84 L322.2,6.91 L322.8,7.04 L323.4,7.18 L324,7.34 L324.6,7.51 L325.2,7.53 L325.8,7.47 L326.4,7.38 L327,7.5 L327.6,7.86 L328.2,8.17 L328.8,8.39 L329.4,8.51 L330,8.45 L330.6,8.5 L331.2,8.67 L331.8,8.74 L332.4,8.76 L333,8.91 L333.6,9.14 L334.2,9.29 L334.8,9.42 L335.4,9.64 L336,9.92 L336.6,10.16 L337.2,10.37 L337.8,10.53 L338.4,10.92 L339,11.43 L339.6,11.73 L340.2,12.12 L340.8,12.47 L341.4,12.89 L342,13.64 L342.6,14.27 L343.2,14.75 L343.8,15.32 L344.4,15.77 L345,16.21 L345.6,16.73 L346.2,17.28 L346.8,17.71 L347.4,17.88 L348,18.23 L348.6,18.48 L349.2,18.35 L349.8,18.51 L350.4,18.86 L351,18.99 L351.6,19.09 L352.2,19.07 L352.8,18.7 L353.4,18.15 L354,17.78 L354.6,17.63 L355.2,17.41 L355.8,17.15 L356.4,16.84 L357,16.64 L357.6,17.04 L358.2,20.99 L358.8,20.96 L359.4,20.44 L360,19.95 L360.6,19.48 L361.2,18.88 L361.8,18.34 L362.4,17.91 L363,17.44 L363.6,16.86 L364.2,16.38 L364.8,16.03 L365.4,15.47 L366,14.93 L366.6,14.94 L367.2,15.27 L367.8,15.56 L368.4,15.8 L369,16.14 L369.6,16.71 L370.2,17.36 L370.8,17.89 L371.4,18.36 L372,18.9 L372.6,19.49 L373.2,19.96 L373.8,20.54 L374.4,21.32 L375,21.97 L375.6,22.5 L376.2,22.91 L376.8,23.04 L377.4,22.45 L378,20.97 L378.6,19.18 L379.2,18.01 L379.8,17.44 L380.4,17.07 L381,16.75 L381.6,16.32 L382.2,16.1 L382.8,16.28 L383.4,16.26 L384,16.15 L384.6,16.16 L385.2,16.23 L385.8,16.13 L386.4,16.05 L387,16.19 L387.6,16.2 L388.2,16.3 L388.8,16.6 L389.4,16.64 L390,16.42 L390.6,16.38 L391.2,16.7 L391.8,17.01 L392.4,17.15 L393,17.35 L393.6,17.74 L394.2,18.28 L394.8,18.97 L395.4,19.59 L396,19.88 L396.6,19.94 L397.2,20.03 L397.8,19.96 L398.4,19.57 L399,19.3 L399.6,19.14 L400.2,18.82 L400.8,18.5 L401.4,18.26 L402,18.04 L402.6,17.88 L403.2,18.02 L403.8,18.29 L404.4,18.39 L405,18.28 L405.6,18.1 L406.2,17.93 L406.8,17.82 L407.4,17.87 L408,17.9 L408.6,17.87 L409.2,17.87 L409.8,17.69 L410.4,17.52 L411,17.53 L411.6,17.51 L412.2,17.67 L412.8,17.93 L413.4,17.95 L414,17.99 L414.6,18.15 L415.2,18.13 L415.8,18.05 L416.4,18.13 L417,18.12 L417.6,18.06 L418.2,18 L418.8,17.86 L419.4,17.9 L420,18.1 L420.6,18.21 L421.2,18.18 L421.8,18.26 L422.4,18.49 L423,18.62 L423.6,18.64 L424.2,18.61 L424.8,18.49 L425.4,18.49 L426,18.59 L426.6,18.6 L427.2,18.73 L427.8,18.93 L428.4,18.84 L429,18.78 L429.6,19.06 L430.2,19.27 L430.8,19.27 L431.4,19.26 L432,19.19 L432.6,19.13 L433.2,19.2 L433.8,19.44 L434.4,19.6 L435,19.59 L435.6,19.66 L436.2,19.61 L436.8,19.68 L437.4,19.91 L438,19.99 L438.6,19.88 L439.2,19.78" fill="none" stroke="#ff0000" stroke-width="1.1" stroke-linejoin="round" />
<path d="M274.2,42.73 L274.6,40.51 L275,38.58 L275.4,35.95 L275.8,33.39 L276.2,31.68 L276.6,30.64 L277,30.49 L277.4,30.8 L277.8,30.82 L278.2,30.59 L278.6,30.28 L279,30.57 L279.4,31.07 L279.8,30.47 L280.2,30.33 L280.6,31.1 L281,31.43 L281.4,32.23 L281.8,33.61 L282.2,35.65 L282.6,38.41 L283,39.93 L283.4,40.9 L283.8,40.87 L284.2,39.77 L284.6,38.9 L285,38.43 L285.4,38.49 L285.8,38.12 L286.2,37.34 L286.6,37.05 L287,36.52 L287.4,35.95 L287.8,36.47 L288.2,37.53 L288.6,37.52 L289,36.95 L289.4,37 L289.8,36.91 L290.2,36.41 L290.6,37.21 L291,38.19 L291.4,37.71 L291.8,37.59 L292.2,37.82 L292.6,37.73 L293,38.39 L293.4,39.78 L293.8,41.62 L294.2,42.87 L294.6,42.8 L295,42.26 L295.4,41.68 L295.8,40.98 L296.2,39.56 L296.6,37.25 L297,35.56 L297.4,35.38 L297.8,34.75 L298.2,32.95 L298.6,31.68 L299,31.81 L299.4,32.09 L299.8,31.48 L300.2,31.23 L300.6,31.77 L301,32.08 L301.4,31.84 L301.8,31.68 L302.2,32.4 L302.6,34.02 L303,35.33 L303.4,36.06 L303.8,37.23 L304.2,39.41 L304.6,41.54 L305,42.64 L305.4,42.93 L305.8,41.68 L306.2,39.33 L306.6,37.31 L307,36.28 L307.4,36.77 L307.8,39.34 L308.2,42.39 L308.6,44.04 L309,45.9 L309.4,48.43 L309.8,49.87 L310.2,50.42 L310.6,51.3 L311,52.74 L311.4,53.92 L311.8,54.27 L312.2,54.29 L312.6,54.25 L313,54.07 L313.4,54.2 L313.8,54.53 L314.2,55.11 L314.6,55.9 L315,56.01 L315.4,56 L315.8,56.56 L316.2,56.65 L316.6,56.78 L317,57.38 L317.4,57.97 L317.8,59.03 L318.2,59.92 L318.6,60.39 L319,60.77 L319.4,60.88 L319.8,60.7 L320.2,60.62 L320.6,60.91 L321,61.07 L321.4,61.23 L321.8,61.63 L322.2,61.48 L322.6,60.76 L323,60.66 L323.4,61.38 L323.8,61.88 L324.2,61.98 L324.6,62.08 L325,61.88 L325.4,61.02 L325.8,59.71 L326.2,58.27 L326.6,57.11 L327,56.28 L327.4,55.41 L327.8,54.21 L328.2,52.91 L328.6,52.03 L329,51.57 L329.4,51.14 L329.8,50.83 L330.2,50.54 L330.6,50 L331,49.91 L331.4,50.43 L331.8,50.49 L332.2,49.91 L332.6,49.89 L333,49.78 L333.4,48.36 L333.8,47.09 L334.2,46.07 L334.6,44.75 L335,44.32 L335.4,44.17 L335.8,43.19 L336.2,42.06 L336.6,41.19 L337,40.55 L337.4,40.05 L337.8,39.19 L338.2,38.47 L338.6,38.38 L339,38.3 L339.4,37.88 L339.8,36.88 L340.2,36.04 L340.6,36.72 L341,37.29 L341.4,36.27 L341.8,34.69 L342.2,33.81 L342.6,33.32 L343,32.73 L343.4,32.23 L343.8,31.63 L344.2,31.32 L344.6,30.29 L345,28.63 L345.4,28.01 L345.8,27.32 L346.2,26.4 L346.6,26.13 L347,26.2 L347.4,25.71 L347.8,24.87 L348.2,25.15 L348.6,25.36 L349,24.5 L349.4,23.65 L349.8,22.85 L350.2,22.41 L350.6,22.85 L351,23.41 L351.4,24.37 L351.8,25.54 L352.2,25.94 L352.6,26.68 L353,27.57 L353.4,27.67 L353.8,28.29 L354.2,29.41 L354.6,30.18 L355,30.35 L355.4,30.04 L355.8,29.54 L356.2,28.31 L356.6,26.31 L357,24.84 L357.4,24.25 L357.8,23.25 L358.2,21.94 L358.6,21.6 L359,21.55 L359.4,21.53 L359.8,21.96 L360.2,21.82 L360.6,21.33 L361,21.47 L361.4,22.01 L361.8,22.58 L362.2,23.15 L362.6,24.01 L363,24.79 L363.4,25.15 L363.8,24.93 L364.2,25.21 L364.6,26.34 L365,26.95 L365.4,27.48 L365.8,27.94 L366.2,28.61 L366.6,29.35 L367,29.68 L367.4,29.65 L367.8,29.59 L368.2,30.17 L368.6,30.61 L369,30.79 L369.4,31.22 L369.8,31.94 L370.2,31.91 L370.6,31.07 L371,30.87 L371.4,31.05 L371.8,30.91 L372.2,30.11 L372.6,29.1 L373,28.21 L373.4,27.47 L373.8,26.41 L374.2,24.77 L374.6,23.12 L375,21.79 L375.4,21.25 L375.8,20.6 L376.2,19.74 L376.6,19.04 L377,18.1 L377.4,18.55 L377.8,22.07 L378.2,26.96 L378.6,29.9 L379,31.31 L379.4,32.14 L379.8,32.6 L380.2,32.26 L380.6,31.7 L381,32.32 L381.4,32.78 L381.8,31.94 L382.2,32.17 L382.6,33.03 L383,32.51 L383.4,31.69 L383.8,31.78 L384.2,32.21 L384.6,31.86 L385,31.13 L385.4,31.05 L385.8,31.13 L386.2,31.22 L386.6,30.89 L387,29.66 L387.4,28.93 L387.8,29.57 L388.2,30.1 L388.6,29.57 L389,29.36 L389.4,29.2 L389.8,28.31 L390.2,27.79 L390.6,27.39 L391,27.03 L391.4,27.17 L391.8,26.92 L392.2,25.87 L392.6,24.9 L393,24.61 L393.4,24.73 L393.8,24.59 L394.2,24.07 L394.6,23.39 L395,23.32 L395.4,23.49 L395.8,23.09 L396.2,22.81 L396.6,22.44 L397,21.44 L397.4,21.01 L397.8,21.45 L398.2,21.64 L398.6,20.97 L399,19.8 L399.4,19.12 L399.8,19.33 L400.2,20.33 L400.6,21.56 L401,21.91 L401.4,21.89 L401.8,22.34 L402.2,22.82 L402.6,23.02 L403,23.38 L403.4,23.18 L403.8,22.67 L404.2,23.42 L404.6,24.18 L405,23.71 L405.4,23.04 L405.8,22.5 L406.2,22.3 L406.6,22.23 L407,21.33 L407.4,19.85 L407.8,19.02 L408.2,19.12 L408.6,18.94 L409,19.12 L409.4,20.23 L409.8,20.12 L410.2,19.49 L410.6,20.05 L411,20.21 L411.4,19.9 L411.8,19.8 L412.2,19.2 L412.6,18.83 L413,18.92 L413.4,19.51 L413.8,20.03 L414.2,19.57 L414.6,19.25 L415,19.69 L415.4,20.18 L415.8,20.53 L416.2,20.65 L416.6,20.14 L417,19.76 L417.4,20.17 L417.8,20.43 L418.2,20.45 L418.6,21.19 L419,21.67 L419.4,21.15 L419.8,21.24 L420.2,21.59 L420.6,21 L421,20.46 L421.4,20.7 L421.8,21.41 L422.2,21.7 L422.6,21.54 L423,21.8 L423.4,22.36 L423.8,22 L424.2,21.25 L424.6,21.44 L425,21.98 L425.4,22.1 L425.8,21.76 L426.2,21.42 L426.6,21.12 L427,20.96 L427.4,21.31 L427.8,21.64 L428.2,21.59 L428.6,21.16 L429,20.77 L429.4,20.27 L429.8,19.67 L430.2,19.46 L430.6,19.22 L431,18.81 L431.4,18.46 L431.8,18.14 L432.2,17.79 L432.6,17.83 L433,18.26 L433.4,18.57 L433.8,18.48 L434.2,18.39 L434.6,18.55 L435,18.5 L435.4,18.5 L435.8,18.44 L436.2,18 L436.6,17.8 L437,17.8 L437.4,17.73 L437.8,18.04 L438.2,18.43 L438.6,18.14 L439,17.27 L439.4,16.82" fill="none" stroke="#000000" stroke-width="1.1" stroke-linejoin="round" />
<path d="M274.2,45.67 L274.8,46.52 L275.4,47.41 L276,47.92 L276.6,48.33 L277.2,48.56 L277.8,48.32 L278.4,48.04 L279,47.8 L279.6,47.2 L280.2,46.32 L280.8,45.43 L281.4,44.74 L282,44.38 L282.6,44.08 L283.2,43.78 L283.8,43.66 L284.4,43.73 L285,43.92 L285.6,44.28 L286.2,44.65 L286.8,44.63 L287.4,44.5 L288,44.63 L288.6,44.87 L289.2,45.26 L289.8,45.68 L290.4,45.74 L291,45.61 L291.6,45.49 L292.2,45.16 L292.8,44.73 L293.4,44.47 L294,44.48 L294.6,44.38 L295.2,44.01 L295.8,43.93 L296.4,43.76 L297,43.27 L297.6,42.9 L298.2,42.72 L298.8,42.74 L299.4,42.8 L300,42.83 L300.6,43 L301.2,43.09 L301.8,43.02 L302.4,42.98 L303,43.01 L303.6,42.98 L304.2,42.95 L304.8,43.1 L305.4,43.1 L306,43.1 L306.6,43.13 L307.2,42.59 L307.8,41.93 L308.4,40.91 L309,39.1 L309.6,37.82 L310.2,37.11 L310.8,36.77 L311.4,36.69 L312,36.64 L312.6,36.54 L313.2,36.38 L313.8,36.16 L314.4,35.81 L315,35.54 L315.6,35.43 L316.2,35.14 L316.8,35.03 L317.4,35.21 L318,35.11 L318.6,34.91 L319.2,34.89 L319.8,34.72 L320.4,34.41 L321,34.34 L321.6,34.41 L322.2,34.55 L322.8,34.86 L323.4,35.27 L324,35.42 L324.6,35.47 L325.2,35.71 L325.8,36.03 L326.4,36.55 L327,37.09 L327.6,37.25 L328.2,37.31 L328.8,37.75 L329.4,38.25 L330,38.57 L330.6,38.66 L331.2,38.62 L331.8,38.77 L332.4,38.97 L333,39.24 L333.6,39.62 L334.2,39.87 L334.8,40.08 L335.4,40.35 L336,40.56 L336.6,40.99 L337.2,41.7 L337.8,42.07 L338.4,42.27 L339,42.82 L339.6,43.65 L340.2,44.43 L340.8,44.93 L341.4,45.11 L342,45.27 L342.6,45.89 L343.2,46.66 L343.8,47.27 L344.4,47.8 L345,48.46 L345.6,49.33 L346.2,49.91 L346.8,50.1 L347.4,50.61 L348,51.33 L348.6,51.74 L349.2,52.27 L349.8,52.64 L350.4,52.54 L351,52.62 L351.6,52.82 L352.2,52.97 L352.8,53.19 L353.4,53.37 L354,53.23 L354.6,53.1 L355.2,53.12 L355.8,52.97 L356.4,53.08 L357,53.32 L357.6,53.16 L358.2,53.26 L358.8,53.96 L359.4,55.93 L360,56.66 L360.6,57.01 L361.2,56.78 L361.8,56.35 L362.4,55.96 L363,55.43 L363.6,55.01 L364.2,54.95 L364.8,54.84 L365.4,54.28 L366,53.49 L366.6,52.8 L367.2,52.34 L367.8,52.08 L368.4,51.9 L369,51.66 L369.6,51.45 L370.2,51.34 L370.8,51.28 L371.4,51.56 L372,52.12 L372.6,52.54 L373.2,53.15 L373.8,54.03 L374.4,54.89 L375,55.84 L375.6,56.64 L376.2,57.04 L376.8,57.14 L377.4,56.89 L378,55.99 L378.6,54.48 L379.2,52.95 L379.8,51.55 L380.4,50.8 L381,50.86 L381.6,51.37 L382.2,52.2 L382.8,52.86 L383.4,53.29 L384,54.24 L384.6,55.21 L385.2,55.58 L385.8,55.64 L386.4,55.4 L387,55.06 L387.6,55.13 L388.2,55.46 L388.8,55.46 L389.4,55.17 L390,55.08 L390.6,54.99 L391.2,54.77 L391.8,55 L392.4,55.54 L393,55.69 L393.6,55.67 L394.2,55.8 L394.8,55.78 L395.4,55.7 L396,56.03 L396.6,56.71 L397.2,57.36 L397.8,57.89 L398.4,58.1 L399,58.05 L399.6,58.36 L400.2,59.03 L400.8,59.47 L401.4,59.58 L402,59.87 L402.6,60.52 L403.2,60.86 L403.8,60.78 L404.4,60.88 L405,61.05 L405.6,61.09 L406.2,61.09 L406.8,61.05 L407.4,60.74 L408,60.41 L408.6,60.12 L409.2,59.81 L409.8,59.97 L410.4,60.26 L411,60.08 L411.6,59.82 L412.2,59.61 L412.8,59.36 L413.4,59.43 L414,59.67 L414.6,59.57 L415.2,59.43 L415.8,59.64 L416.4,59.73 L417,59.5 L417.6,59.3 L418.2,58.96 L418.8,58.92 L419.4,59.29 L420,59.44 L420.6,59.36 L421.2,59.28 L421.8,59.38 L422.4,59.7 L423,59.81 L423.6,59.45 L424.2,59.32 L424.8,59.68 L425.4,59.86 L426,59.81 L426.6,59.96 L427.2,60.14 L427.8,60.02 L428.4,59.75 L429,59.54 L429.6,59.63 L430.2,59.91 L430.8,60.24 L431.4,60.62 L432,61.09 L432.6,61.38 L433.2,61.22 L433.8,61.16 L434.4,61.19 L435,61.13 L435.6,61.28 L436.2,61.32 L436.8,61.31 L437.4,61.4 L438,61.23 L438.6,60.93 L439.2,60.77" fill="none" stroke="#0000ff" stroke-width="1.1" stroke-linejoin="round" />
<text x="272" y="7.4" font-size="9" fill="#333" stroke="#333" text-anchor="end" >60</text>
<text x="272" y="27.23" font-size="9" fill="#333" stroke="#333" text-anchor="end" >50</text>
<text x="272" y="51.51" font-size="9" fill="#333" stroke="#333" text-anchor="end" >40</text>
<text x="272" y="82.8" font-size="9" fill="#333" stroke="#333" text-anchor="end" >30</text>
<text x="442.3" y="14.6" font-size="9" fill="#ff0000" stroke="#ff0000">10<tspan font-size="6.5" dy="-4">1</tspan></text>
<text x="442.3" y="49.1" font-size="9" fill="#ff0000" stroke="#ff0000">10<tspan font-size="6.5" dy="-4">0</tspan></text>
<text x="442.3" y="83.6" font-size="9" fill="#ff0000" stroke="#ff0000">10<tspan font-size="6.5" dy="-4">-1</tspan></text>
<text transform="translate(471.3,41.8) rotate(-90)" font-size="11.3" fill="#ff0000" stroke="#ff0000" text-anchor="middle">ne (/cc),<tspan fill="#0000ff" stroke="#0000ff" font-style="italic" font-size="9">β</tspan></text>
<text transform="translate(246.3,41.7) rotate(-90)" font-size="11.3" fill="#222" stroke="#222" text-anchor="middle">|B|</text>
<text transform="translate(259,41.7) rotate(-90)" font-size="11.3" fill="#222" stroke="#222" text-anchor="middle">(nT)</text>
<rect x="273.9" y="94.1" width="165.6" height="75.4" fill="none" stroke="#555555" stroke-width="1.25"/>
<path d="M329.1,169.5 V167.3 M329.1,94.1 V96.3 M384.3,169.5 V167.3 M384.3,94.1 V96.3 M273.9,169.5 H276.1 M439.5,169.5 H437.3 M273.9,131.8 H276.1 M439.5,131.8 H437.3 M273.9,94.1 H276.1 M439.5,94.1 H437.3 M273.9,158.15 H275.2 M439.5,158.15 H438.2 M273.9,151.51 H275.2 M439.5,151.51 H438.2 M273.9,146.8 H275.2 M439.5,146.8 H438.2 M273.9,143.15 H275.2 M439.5,143.15 H438.2 M273.9,140.16 H275.2 M439.5,140.16 H438.2 M273.9,137.64 H275.2 M439.5,137.64 H438.2 M273.9,135.45 H275.2 M439.5,135.45 H438.2 M273.9,133.53 H275.2 M439.5,133.53 H438.2 M273.9,120.45 H275.2 M439.5,120.45 H438.2 M273.9,113.81 H275.2 M439.5,113.81 H438.2 M273.9,109.1 H275.2 M439.5,109.1 H438.2 M273.9,105.45 H275.2 M439.5,105.45 H438.2 M273.9,102.46 H275.2 M439.5,102.46 H438.2 M273.9,99.94 H275.2 M439.5,99.94 H438.2 M273.9,97.75 H275.2 M439.5,97.75 H438.2 M273.9,95.83 H275.2 M439.5,95.83 H438.2" stroke="#555555" stroke-width="1.25" fill="none"/>
<path d="M307.1,94.1 V169.5" stroke="#6a6a6a" stroke-width="1.6" stroke-dasharray="1.6,2.6"/>
<path d="M351,94.1 V169.5" stroke="#6a6a6a" stroke-width="1.6" stroke-dasharray="1.6,2.6"/>
<path d="M274.2,106.29 L274.8,106.31 L275.4,106.4 L276,106.46 L276.6,106.36 L277.2,106.04 L277.8,105.9 L278.4,106.1 L279,106.35 L279.6,106.27 L280.2,106.06 L280.8,106.1 L281.4,106.23 L282,106.21 L282.6,106.02 L283.2,105.95 L283.8,106.18 L284.4,106.31 L285,106.31 L285.6,106.31 L286.2,106.14 L286.8,106.1 L287.4,106.22 L288,106.2 L288.6,106.11 L289.2,106.08 L289.8,106.13 L290.4,106.31 L291,106.39 L291.6,106.43 L292.2,106.41 L292.8,106.17 L293.4,106.28 L294,106.54 L294.6,106.31 L295.2,106.23 L295.8,106.56 L296.4,106.55 L297,106.4 L297.6,106.46 L298.2,106.34 L298.8,106.27 L299.4,106.42 L300,106.44 L300.6,106.39 L301.2,106.42 L301.8,106.47 L302.4,106.59 L303,106.71 L303.6,106.73 L304.2,106.54 L304.8,106.29 L305.4,106.29 L306,106.57 L306.6,106.81 L307.2,106.69 L307.8,106.48 L308.4,106.37 L309,106.27 L309.6,106.25 L310.2,106.19 L310.8,106.16 L311.4,106.05 L312,105.84 L312.6,105.64 L313.2,105.44 L313.8,105.45 L314.4,105.8 L315,105.97 L315.6,105.51 L316.2,104.96 L316.8,104.79 L317.4,104.7 L318,104.41 L318.6,104.31 L319.2,104.35 L319.8,104.31 L320.4,104.51 L321,104.46 L321.6,104.12 L322.2,103.89 L322.8,103.73 L323.4,103.76 L324,104.01 L324.6,104.13 L325.2,104.07 L325.8,103.96 L326.4,103.89 L327,103.82 L327.6,103.72 L328.2,103.92 L328.8,104.25 L329.4,104.22 L330,103.96 L330.6,104 L331.2,104.32 L331.8,104.29 L332.4,103.94 L333,103.93 L333.6,104.22 L334.2,104.3 L334.8,104.21 L335.4,104.26 L336,104.47 L336.6,104.71 L337.2,104.63 L337.8,104.43 L338.4,104.53 L339,104.75 L339.6,104.73 L340.2,104.6 L340.8,104.61 L341.4,104.58 L342,104.58 L342.6,104.61 L343.2,104.69 L343.8,104.83 L344.4,105.02 L345,105.32 L345.6,105.47 L346.2,105.34 L346.8,105.35 L347.4,105.43 L348,105.24 L348.6,105.31 L349.2,105.79 L349.8,106.08 L350.4,106.11 L351,105.95 L351.6,105.83 L352.2,106.02 L352.8,106.23 L353.4,106.21 L354,106.19 L354.6,106.25 L355.2,106.53 L355.8,106.94 L356.4,106.98 L357,106.75 L357.6,106.69 L358.2,106.86 L358.8,106.93 L359.4,106.82 L360,106.67 L360.6,106.5 L361.2,106.59 L361.8,106.92 L362.4,106.93 L363,106.66 L363.6,106.65 L364.2,106.79 L364.8,106.68 L365.4,106.61 L366,106.69 L366.6,106.75 L367.2,106.79 L367.8,106.66 L368.4,106.42 L369,106.34 L369.6,106.23 L370.2,106.01 L370.8,106.05 L371.4,106.11 L372,106 L372.6,106.04 L373.2,105.97 L373.8,105.75 L374.4,105.63 L375,105.5 L375.6,105.24 L376.2,104.83 L376.8,104.51 L377.4,104.49 L378,104.61 L378.6,104.42 L379.2,104.1 L379.8,104.03 L380.4,104.14 L381,104.33 L381.6,104.67 L382.2,104.83 L382.8,104.73 L383.4,104.97 L384,105.18 L384.6,105.19 L385.2,105.34 L385.8,105.55 L386.4,105.86 L387,106.04 L387.6,106.12 L388.2,106.4 L388.8,106.66 L389.4,106.88 L390,107.06 L390.6,107.17 L391.2,107.28 L391.8,107.34 L392.4,107.27 L393,107.29 L393.6,107.57 L394.2,107.9 L394.8,107.9 L395.4,107.59 L396,107.71 L396.6,107.91 L397.2,107.77 L397.8,107.95 L398.4,108.35 L399,108.26 L399.6,108.05 L400.2,108.21 L400.8,108.33 L401.4,108.22 L402,108.12 L402.6,107.99 L403.2,107.83 L403.8,107.89 L404.4,108.06 L405,108.19 L405.6,108.23 L406.2,107.86 L406.8,107.53 L407.4,107.72 L408,107.96 L408.6,107.99 L409.2,107.87 L409.8,107.87 L410.4,107.98 L411,107.92 L411.6,107.87 L412.2,107.74 L412.8,107.71 L413.4,107.73 L414,107.44 L414.6,107.48 L415.2,107.72 L415.8,107.76 L416.4,107.79 L417,107.7 L417.6,107.76 L418.2,107.93 L418.8,107.76 L419.4,107.5 L420,107.38 L420.6,107.44 L421.2,107.65 L421.8,107.69 L422.4,107.52 L423,107.46 L423.6,107.42 L424.2,107.25 L424.8,107.26 L425.4,107.31 L426,107.29 L426.6,107.31 L427.2,107.24 L427.8,107.33 L428.4,107.61 L429,107.66 L429.6,107.55 L430.2,107.46 L430.8,107.48 L431.4,107.53 L432,107.65 L432.6,107.64 L433.2,107.36 L433.8,107.19 L434.4,106.9 L435,106.5 L435.6,106.64 L436.2,107.04 L436.8,107.13 L437.4,107.11 L438,107.27 L438.6,107.27 L439.2,107.04" fill="none" stroke="#ff0000" stroke-width="1.3" stroke-linejoin="round" stroke-dasharray="3,2"/>
<path d="M274.2,101.55 L274.6,101.91 L275,101.17 L275.4,100.93 L275.8,101.57 L276.2,101.49 L276.6,101.27 L277,101.47 L277.4,101.82 L277.8,102.53 L278.2,103.02 L278.6,103.11 L279,102.64 L279.4,102.01 L279.8,102.23 L280.2,102.54 L280.6,102.91 L281,103.35 L281.4,102.38 L281.8,101.71 L282.2,102.24 L282.6,102.14 L283,101.48 L283.4,101.25 L283.8,101.56 L284.2,101.89 L284.6,101.71 L285,101.43 L285.4,101.81 L285.8,102.45 L286.2,101.92 L286.6,100.99 L287,101.68 L287.4,102.96 L287.8,103.9 L288.2,104.93 L288.6,105.76 L289,105.97 L289.4,105.87 L289.8,106.36 L290.2,106.8 L290.6,106.3 L291,106.43 L291.4,106.87 L291.8,105.81 L292.2,104.69 L292.6,104.88 L293,104.89 L293.4,104.84 L293.8,105.03 L294.2,104.52 L294.6,103.96 L295,103.9 L295.4,103.53 L295.8,102.95 L296.2,102.6 L296.6,102.12 L297,101.44 L297.4,101.01 L297.8,100.65 L298.2,99.89 L298.6,99.82 L299,100.37 L299.4,100.03 L299.8,99.52 L300.2,99.38 L300.6,99.31 L301,99.27 L301.4,99.04 L301.8,99.04 L302.2,99.32 L302.6,99.46 L303,99.29 L303.4,98.62 L303.8,99.03 L304.2,100.22 L304.6,100.29 L305,100.29 L305.4,100.62 L305.8,100.75 L306.2,100.69 L306.6,100.65 L307,101.41 L307.4,102.66 L307.8,103.97 L308.2,104.67 L308.6,105.08 L309,105.81 L309.4,105.34 L309.8,104.26 L310.2,104.95 L310.6,106.63 L311,106.86 L311.4,106.33 L311.8,106.22 L312.2,106.78 L312.6,107.69 L313,108.18 L313.4,108.36 L313.8,107.4 L314.2,106.7 L314.6,107.53 L315,107.81 L315.4,108.07 L315.8,108.59 L316.2,108.51 L316.6,108.49 L317,108.09 L317.4,107.75 L317.8,107.91 L318.2,108.12 L318.6,108.68 L319,108.75 L319.4,108.35 L319.8,108.36 L320.2,108.23 L320.6,108.05 L321,108.11 L321.4,108.01 L321.8,107.71 L322.2,107.36 L322.6,107.52 L323,107.58 L323.4,107.1 L323.8,106.9 L324.2,107.19 L324.6,107.37 L325,107.19 L325.4,107.62 L325.8,108.09 L326.2,107.21 L326.6,106.3 L327,106.84 L327.4,107.32 L327.8,107.16 L328.2,107.32 L328.6,107.3 L329,106.82 L329.4,106.28 L329.8,105.96 L330.2,106.01 L330.6,106.25 L331,106.43 L331.4,106.21 L331.8,105.8 L332.2,105.75 L332.6,105.37 L333,104.52 L333.4,104.28 L333.8,104.48 L334.2,104.59 L334.6,104.54 L335,104.2 L335.4,104.11 L335.8,104.45 L336.2,103.97 L336.6,103.14 L337,103.02 L337.4,103.38 L337.8,103.79 L338.2,103.25 L338.6,102.68 L339,102.7 L339.4,102.55 L339.8,102.8 L340.2,103.17 L340.6,102.94 L341,102.88 L341.4,102.57 L341.8,102.19 L342.2,102.7 L342.6,102.89 L343,102.3 L343.4,101.85 L343.8,102.12 L344.2,102.06 L344.6,102.14 L345,102.81 L345.4,102.34 L345.8,101.47 L346.2,101.47 L346.6,101.76 L347,101.6 L347.4,101.21 L347.8,101.09 L348.2,100.31 L348.6,98.82 L349,98.02 L349.4,97.86 L349.8,98.24 L350.2,98.65 L350.6,97.89 L351,96.83 L351.4,97 L351.8,97.46 L352.2,97.25 L352.6,97.44 L353,97.59 L353.4,97.76 L353.8,98.99 L354.2,100.13 L354.6,100.49 L355,100.65 L355.4,101.31 L355.8,106.73 L356.2,106.05 L356.6,104.45 L357,102.96 L357.4,101.86 L357.8,99.87 L358.2,97.43 L358.6,96.7 L359,97.18 L359.4,97.64 L359.8,98.94 L360.2,100.1 L360.6,100.32 L361,101 L361.4,101.77 L361.8,101.92 L362.2,102.29 L362.6,103.38 L363,104.33 L363.4,104.52 L363.8,104.69 L364.2,104.76 L364.6,105.27 L365,105.75 L365.4,105.13 L365.8,105.4 L366.2,105.9 L366.6,105.57 L367,105.99 L367.4,105.96 L367.8,104.9 L368.2,104.1 L368.6,103.6 L369,103.42 L369.4,103.08 L369.8,102.75 L370.2,102.55 L370.6,102.05 L371,101.55 L371.4,100.44 L371.8,99.26 L372.2,99.16 L372.6,98.73 L373,98.07 L373.4,98.2 L373.8,97.88 L374.2,96.94 L374.6,96.18 L375,95.98 L375.4,95.79 L375.8,95.26 L376.2,94.44 L376.6,94.07 L377,94.5 L377.4,93.85 L377.8,93.25 L378.2,94.53 L378.6,98.32 L379,102.91 L379.4,104.4 L379.8,105.08 L380.2,106.04 L380.6,107.26 L381,107.84 L381.4,107.58 L381.8,106.99 L382.2,106.77 L382.6,106.82 L383,107.24 L383.4,107.12 L383.8,106.13 L384.2,105.78 L384.6,105.79 L385,105.8 L385.4,106.03 L385.8,105.94 L386.2,105.99 L386.6,106.68 L387,106.74 L387.4,106.03 L387.8,105.99 L388.2,106.3 L388.6,106.1 L389,106.07 L389.4,106.6 L389.8,106.85 L390.2,106.43 L390.6,106.38 L391,107.08 L391.4,106.86 L391.8,105.68 L392.2,105.51 L392.6,105.63 L393,105.16 L393.4,105.08 L393.8,104.92 L394.2,104.49 L394.6,104.13 L395,103.77 L395.4,103.54 L395.8,104.11 L396.2,105.69 L396.6,106.33 L397,105.85 L397.4,105.63 L397.8,106.11 L398.2,106.84 L398.6,107.55 L399,108.2 L399.4,108.59 L399.8,109.16 L400.2,109.21 L400.6,108.9 L401,109.26 L401.4,110.31 L401.8,110.46 L402.2,110.23 L402.6,111.12 L403,111.3 L403.4,110.27 L403.8,109.84 L404.2,110.25 L404.6,110.5 L405,109.86 L405.4,109.49 L405.8,109.39 L406.2,109.07 L406.6,109.79 L407,110.6 L407.4,110.53 L407.8,110.46 L408.2,110.48 L408.6,110.38 L409,109.9 L409.4,109.43 L409.8,109.55 L410.2,110.13 L410.6,110.97 L411,111.23 L411.4,110.47 L411.8,109.65 L412.2,109.56 L412.6,110.29 L413,111.02 L413.4,110.86 L413.8,110.29 L414.2,110.32 L414.6,110.89 L415,111 L415.4,110.79 L415.8,111.25 L416.2,111.7 L416.6,111.7 L417,112.13 L417.4,112.14 L417.8,111.71 L418.2,111.65 L418.6,111.24 L419,110.84 L419.4,110.85 L419.8,111.09 L420.2,111.57 L420.6,111.87 L421,112.13 L421.4,111.45 L421.8,110.44 L422.2,110.68 L422.6,110.99 L423,111.2 L423.4,111.43 L423.8,111.96 L424.2,112.06 L424.6,111.29 L425,111.37 L425.4,111.22 L425.8,110.83 L426.2,111.43 L426.6,111.56 L427,111.01 L427.4,111.67 L427.8,112.6 L428.2,111.33 L428.6,109.85 L429,109.97 L429.4,110.35 L429.8,110.45 L430.2,110.24 L430.6,110.12 L431,110.3 L431.4,109.85 L431.8,109.18 L432.2,109.23 L432.6,109.79 L433,110.32 L433.4,110.15 L433.8,109.63 L434.2,109.55 L434.6,110.09 L435,110.27 L435.4,109.56 L435.8,109.39 L436.2,109.25 L436.6,108.64 L437,108.67 L437.4,108.66 L437.8,108.47 L438.2,108.82 L438.6,109.21 L439,108.92 L439.4,108.22" fill="none" stroke="#0000ff" stroke-width="1.3" stroke-linejoin="round" stroke-dasharray="3,2"/>
<path d="M274.2,130.94 L274.8,130.63 L275.4,130.06 L276,129.66 L276.6,129.4 L277.2,129.07 L277.8,128.79 L278.4,128.59 L279,128.51 L279.6,128.46 L280.2,128.38 L280.8,128.43 L281.4,128.55 L282,128.7 L282.6,128.86 L283.2,129.05 L283.8,129.42 L284.4,129.79 L285,129.96 L285.6,129.93 L286.2,129.9 L286.8,129.96 L287.4,129.88 L288,129.89 L288.6,129.88 L289.2,129.67 L289.8,129.57 L290.4,129.45 L291,129.19 L291.6,129.01 L292.2,128.92 L292.8,128.83 L293.4,128.81 L294,128.66 L294.6,128.34 L295.2,128.24 L295.8,128.21 L296.4,128.11 L297,128.17 L297.6,128.33 L298.2,128.39 L298.8,128.4 L299.4,128.63 L300,128.86 L300.6,128.92 L301.2,129.16 L301.8,129.58 L302.4,129.71 L303,129.57 L303.6,129.69 L304.2,129.93 L304.8,130.01 L305.4,130.07 L306,130.17 L306.6,130.04 L307.2,129.66 L307.8,129.36 L308.4,129.27 L309,129.1 L309.6,128.62 L310.2,128.15 L310.8,127.99 L311.4,127.82 L312,127.54 L312.6,127.34 L313.2,127.28 L313.8,127.17 L314.4,126.96 L315,126.75 L315.6,126.55 L316.2,126.31 L316.8,126.17 L317.4,126.1 L318,126 L318.6,125.94 L319.2,125.95 L319.8,125.92 L320.4,125.76 L321,125.62 L321.6,125.66 L322.2,125.67 L322.8,125.65 L323.4,125.82 L324,126.11 L324.6,126.22 L325.2,126.16 L325.8,126.25 L326.4,126.47 L327,126.75 L327.6,126.94 L328.2,126.87 L328.8,126.91 L329.4,127.21 L330,127.45 L330.6,127.62 L331.2,127.83 L331.8,127.92 L332.4,127.74 L333,127.51 L333.6,127.44 L334.2,127.56 L334.8,127.64 L335.4,127.62 L336,127.68 L336.6,127.81 L337.2,127.99 L337.8,128.09 L338.4,128.18 L339,128.47 L339.6,128.8 L340.2,129.28 L340.8,130 L341.4,130.72 L342,131.3 L342.6,131.7 L343.2,132.1 L343.8,132.69 L344.4,133.4 L345,133.98 L345.6,134.48 L346.2,135.12 L346.8,135.59 L347.4,135.98 L348,136.56 L348.6,137.01 L349.2,137.3 L349.8,137.69 L350.4,138.06 L351,138.18 L351.6,138.01 L352.2,137.62 L352.8,137.29 L353.4,136.96 L354,136.43 L354.6,135.96 L355.2,135.85 L355.8,136.11 L356.4,136.47 L357,137.03 L357.6,137.85 L358.2,138.76 L358.8,139.67 L359.4,140.39 L360,140.82 L360.6,140.96 L361.2,140.61 L361.8,140.05 L362.4,139.46 L363,138.63 L363.6,137.73 L364.2,136.76 L364.8,135.93 L365.4,135.41 L366,135 L366.6,134.7 L367.2,134.43 L367.8,134.47 L368.4,134.89 L369,135.31 L369.6,135.63 L370.2,136.04 L370.8,136.58 L371.4,137.02 L372,137.54 L372.6,138.14 L373.2,138.78 L373.8,139.39 L374.4,139.9 L375,140.43 L375.6,140.79 L376.2,140.92 L376.8,141.08 L377.4,141.05 L378,140.45 L378.6,138.79 L379.2,136.89 L379.8,136.12 L380.4,135.8 L381,135.5 L381.6,135.36 L382.2,135.42 L382.8,135.56 L383.4,135.69 L384,135.84 L384.6,135.96 L385.2,136.13 L385.8,136.23 L386.4,136.18 L387,136.37 L387.6,136.67 L388.2,136.84 L388.8,137.05 L389.4,137.23 L390,137.4 L390.6,137.57 L391.2,137.79 L391.8,138.06 L392.4,138.28 L393,138.62 L393.6,139.02 L394.2,139.17 L394.8,139.36 L395.4,139.79 L396,140.19 L396.6,140.52 L397.2,140.7 L397.8,140.75 L398.4,140.96 L399,141.08 L399.6,140.96 L400.2,140.64 L400.8,140.23 L401.4,140.15 L402,140.04 L402.6,139.62 L403.2,139.42 L403.8,139.47 L404.4,139.55 L405,139.53 L405.6,139.39 L406.2,139.52 L406.8,139.68 L407.4,139.68 L408,139.91 L408.6,140.27 L409.2,140.39 L409.8,140.25 L410.4,140.14 L411,140.37 L411.6,140.62 L412.2,140.68 L412.8,140.91 L413.4,141.14 L414,140.99 L414.6,140.86 L415.2,140.97 L415.8,141.02 L416.4,141.05 L417,141.15 L417.6,141.26 L418.2,141.22 L418.8,141.14 L419.4,141.24 L420,141.34 L420.6,141.38 L421.2,141.51 L421.8,141.5 L422.4,141.39 L423,141.55 L423.6,141.79 L424.2,141.77 L424.8,141.66 L425.4,141.62 L426,141.5 L426.6,141.46 L427.2,141.63 L427.8,141.74 L428.4,141.74 L429,141.74 L429.6,141.72 L430.2,141.72 L430.8,141.8 L431.4,141.85 L432,141.83 L432.6,141.75 L433.2,141.58 L433.8,141.66 L434.4,141.95 L435,142.01 L435.6,141.85 L436.2,141.68 L436.8,141.62 L437.4,141.74 L438,141.74 L438.6,141.63 L439.2,141.68" fill="none" stroke="#0000ff" stroke-width="1.1" stroke-linejoin="round" />
<path d="M274.2,140.97 L274.8,140.93 L275.4,140.9 L276,140.93 L276.6,141 L277.2,141.17 L277.8,141.16 L278.4,141.11 L279,141.31 L279.6,141.33 L280.2,141.28 L280.8,141.29 L281.4,141.14 L282,141.11 L282.6,141.01 L283.2,140.78 L283.8,140.74 L284.4,140.64 L285,140.35 L285.6,140.11 L286.2,139.9 L286.8,139.6 L287.4,139.33 L288,139.11 L288.6,138.94 L289.2,138.79 L289.8,138.42 L290.4,138.12 L291,137.98 L291.6,137.84 L292.2,137.74 L292.8,137.54 L293.4,137.28 L294,137.12 L294.6,137.13 L295.2,137.26 L295.8,137.37 L296.4,137.41 L297,137.78 L297.6,138.56 L298.2,139.18 L298.8,139.61 L299.4,139.98 L300,140.13 L300.6,140.18 L301.2,140.23 L301.8,140.21 L302.4,140.02 L303,139.81 L303.6,139.71 L304.2,139.53 L304.8,139.17 L305.4,138.69 L306,138.18 L306.6,137.71 L307.2,136.97 L307.8,135.92 L308.4,134.95 L309,134.15 L309.6,133.4 L310.2,132.79 L310.8,132.34 L311.4,132.01 L312,131.67 L312.6,131.43 L313.2,131.42 L313.8,131.45 L314.4,131.47 L315,131.4 L315.6,131.44 L316.2,131.61 L316.8,131.74 L317.4,131.79 L318,131.85 L318.6,131.9 L319.2,132.01 L319.8,132.11 L320.4,132.17 L321,132.23 L321.6,132.47 L322.2,132.71 L322.8,132.71 L323.4,132.72 L324,132.89 L324.6,133.15 L325.2,133.38 L325.8,133.51 L326.4,133.8 L327,134.25 L327.6,134.64 L328.2,135.1 L328.8,135.59 L329.4,136.05 L330,136.4 L330.6,136.51 L331.2,136.55 L331.8,136.67 L332.4,136.92 L333,137.09 L333.6,137.2 L334.2,137.47 L334.8,137.76 L335.4,137.93 L336,138.05 L336.6,138.16 L337.2,138.28 L337.8,138.38 L338.4,138.53 L339,138.93 L339.6,139.31 L340.2,139.47 L340.8,139.61 L341.4,139.87 L342,140.22 L342.6,140.5 L343.2,140.83 L343.8,141.1 L344.4,141.39 L345,141.81 L345.6,142.14 L346.2,142.45 L346.8,142.78 L347.4,143.04 L348,143.32 L348.6,143.62 L349.2,143.86 L349.8,144.05 L350.4,144.14 L351,144.2 L351.6,144.35 L352.2,144.49 L352.8,144.64 L353.4,144.65 L354,144.5 L354.6,144.42 L355.2,144.35 L355.8,144.43 L356.4,144.58 L357,144.63 L357.6,144.94 L358.2,145.43 L358.8,145.75 L359.4,145.86 L360,146.01 L360.6,146.17 L361.2,145.98 L361.8,145.78 L362.4,145.77 L363,145.54 L363.6,145.26 L364.2,145.1 L364.8,144.9 L365.4,144.68 L366,144.43 L366.6,144.24 L367.2,144.24 L367.8,144.14 L368.4,143.98 L369,144.07 L369.6,144.28 L370.2,144.38 L370.8,144.52 L371.4,144.74 L372,144.81 L372.6,144.91 L373.2,145.24 L373.8,145.56 L374.4,145.78 L375,145.95 L375.6,146.01 L376.2,146.13 L376.8,146.18 L377.4,146.08 L378,145.89 L378.6,145.3 L379.2,144.82 L379.8,144.6 L380.4,144.34 L381,144.15 L381.6,144.18 L382.2,144.2 L382.8,144.15 L383.4,144.2 L384,144.29 L384.6,144.23 L385.2,144.15 L385.8,144.26 L386.4,144.31 L387,144.23 L387.6,144.23 L388.2,144.28 L388.8,144.35 L389.4,144.52 L390,144.72 L390.6,144.85 L391.2,144.86 L391.8,144.85 L392.4,144.91 L393,144.89 L393.6,144.82 L394.2,144.86 L394.8,144.89 L395.4,144.85 L396,144.82 L396.6,144.84 L397.2,144.85 L397.8,144.88 L398.4,145 L399,145.07 L399.6,145.09 L400.2,145.16 L400.8,145.17 L401.4,145.1 L402,145.02 L402.6,144.88 L403.2,144.78 L403.8,144.97 L404.4,145.18 L405,145.15 L405.6,145.27 L406.2,145.41 L406.8,145.39 L407.4,145.52 L408,145.62 L408.6,145.63 L409.2,145.65 L409.8,145.5 L410.4,145.35 L411,145.37 L411.6,145.31 L412.2,145.19 L412.8,145.35 L413.4,145.58 L414,145.51 L414.6,145.4 L415.2,145.42 L415.8,145.46 L416.4,145.47 L417,145.41 L417.6,145.32 L418.2,145.31 L418.8,145.43 L419.4,145.67 L420,145.86 L420.6,145.9 L421.2,145.87 L421.8,145.76 L422.4,145.59 L423,145.52 L423.6,145.49 L424.2,145.45 L424.8,145.64 L425.4,145.87 L426,145.89 L426.6,145.84 L427.2,145.69 L427.8,145.57 L428.4,145.63 L429,145.78 L429.6,145.99 L430.2,146.03 L430.8,145.83 L431.4,145.75 L432,145.79 L432.6,145.75 L433.2,145.73 L433.8,145.85 L434.4,145.95 L435,145.9 L435.6,145.81 L436.2,145.77 L436.8,145.81 L437.4,145.91 L438,145.9 L438.6,145.88 L439.2,145.94" fill="none" stroke="#ff0000" stroke-width="1.1" stroke-linejoin="round" />
<text x="384.6" y="117.6" font-size="9.3" fill="#222" stroke="#222" text-anchor="start" >ion</text>
<text x="384.6" y="155.8" font-size="9.0" fill="#222" stroke="#222" text-anchor="start" >electron</text>
<text x="272.2" y="98.4" font-size="9" fill="#333" stroke="#333" text-anchor="end">10<tspan font-size="6.5" dy="-4">3</tspan></text>
<text x="272.2" y="136.1" font-size="9" fill="#333" stroke="#333" text-anchor="end">10<tspan font-size="6.5" dy="-4">2</tspan></text>
<text x="272.2" y="173.8" font-size="9" fill="#333" stroke="#333" text-anchor="end">10<tspan font-size="6.5" dy="-4">1</tspan></text>
<text transform="translate(235.8,147.6) rotate(-90)" font-size="11.8" fill="#0000ff" stroke="#0000ff">T</text>
<text transform="translate(235.8,129.7) rotate(-90)" font-size="11.8" fill="#ff0000" stroke="#ff0000">T</text>
<path d="M234.2,137.1 H242.6 M234.2,139.8 H242.6 M234.4,134.2 H236.8" stroke="#0000ff" stroke-width="0.9"/>
<path d="M234.8,120 H241 M241,117.6 V122.3" stroke="#ff0000" stroke-width="0.9"/>
<text transform="translate(254.5,131.6) rotate(-90)" font-size="11.3" fill="#222" stroke="#222" text-anchor="middle">(eV)</text>
<rect x="273.9" y="184.3" width="165.6" height="75.4" fill="none" stroke="#555555" stroke-width="1.25"/>
<path d="M329.1,259.7 V257.5 M329.1,184.3 V186.5 M384.3,259.7 V257.5 M384.3,184.3 V186.5 M273.9,197.1 H276.1 M439.5,197.1 H437.3 M273.9,222.2 H276.1 M439.5,222.2 H437.3 M273.9,247.5 H276.1 M439.5,247.5 H437.3" stroke="#555555" stroke-width="1.25" fill="none"/>
<path d="M307.1,184.3 V259.7" stroke="#6a6a6a" stroke-width="1.6" stroke-dasharray="1.6,2.6"/>
<path d="M351,184.3 V259.7" stroke="#6a6a6a" stroke-width="1.6" stroke-dasharray="1.6,2.6"/>
<path d="M273.9,222.2 H439.5" stroke="#5a5a5a" stroke-width="1.3" stroke-dasharray="1.9,2.3"/>
<path d="M274.2,215.4 L274.6,216.35 L275,218.6 L275.4,220.52 L275.8,222.44 L276.2,223.86 L276.6,225.91 L276.6,226.26 L277,225.58 L277.4,225.27 L277.8,223.96 L278.2,221.92 L278.5,222.28 L278.6,223.02 L279,223.88 L279.4,225.18 L279.8,226.87 L280.2,228.65 L280.4,230.05 L280.6,227.3 L281,222.78 L281.3,219.11 L281.4,220.44 L281.8,225.18 L282.2,230.1 L282.3,230.97 L282.6,225.17 L283,217.43 L283.2,214.34 L283.4,217.65 L283.8,224.66 L284.2,231.81 L284.2,231.71 L284.6,229.74 L285,228.42 L285.4,226.86 L285.8,225.6 L286.1,224.73 L286.2,224.83 L286.6,226.01 L287,227.47 L287.4,228.08 L287.8,228.59 L288.2,228.98 L288.6,230.09 L288.9,231.06 L289,231.38 L289.4,231.86 L289.8,233.49 L290.2,235.22 L290.6,236.67 L290.8,237.28 L291,237.84 L291.4,237.9 L291.8,238.58 L292.2,239.29 L292.6,240.53 L293,241.2 L293.4,241.74 L293.7,241.54 L293.8,241.73 L294.2,238.44 L294.6,235.26 L295,232.21 L295.4,229.94 L295.6,228.63 L295.8,228.29 L296.2,227.21 L296.6,225.84 L297,223.85 L297.4,222.39 L297.8,221.11 L298.2,219.36 L298.4,218.52 L298.6,218.23 L299,218.91 L299.4,219.76 L299.8,220.5 L300.2,221.45 L300.6,222.06 L301,222.46 L301.3,224.09 L301.4,223.1 L301.8,220.64 L302.2,217.44 L302.6,214.8 L303,212.38 L303.2,211.61 L303.4,211.84 L303.8,212.74 L304.2,213.69 L304.6,214.96 L305,214.65 L305.1,215.59 L305.4,212.38 L305.8,209.65 L306.2,206.58 L306.6,203.1 L307,199.54 L307,199.52 L307.4,200.48 L307.8,201.96 L308.2,203.18 L308.6,204.28 L308.9,204.82 L309,205.86 L309.4,207.63 L309.8,209.08 L310.2,211.27 L310.6,213.13 L311,214.97 L311.4,216.98 L311.8,218.47 L311.8,218.54 L312.2,216.32 L312.6,214 L313,212.4 L313.4,210.77 L313.7,208.72 L313.8,209.44 L314.2,211.27 L314.6,212.15 L315,213.84 L315.4,215.3 L315.8,216.41 L316.2,217.96 L316.5,219.62 L316.6,218.8 L317,216.07 L317.4,213.6 L317.8,211 L318.2,208.05 L318.6,205.35 L319,202.39 L319.4,198.95 L319.4,199.25 L319.8,209.02 L320.2,218.27 L320.6,227.29 L321,236.49 L321.3,243.71 L321.4,240.9 L321.8,229.46 L322.2,217.73 L322.6,204.73 L322.8,198.75 L323,200.81 L323.4,203.86 L323.8,206.62 L324.2,210.22 L324.6,213.66 L325,216.8 L325.1,218.56 L325.4,219.19 L325.8,220.37 L326.2,220.21 L326.6,220.9 L327,221.81 L327.4,222.84 L327.8,223.24 L328.2,223.96 L328.6,224.91 L328.9,224.8 L329,224.15 L329.4,223.77 L329.8,223.53 L330.2,223.12 L330.6,221.68 L331,221.6 L331.4,221.58 L331.8,220.73 L332.2,219.99 L332.6,219.95 L332.7,219.89 L333,219.48 L333.4,219.93 L333.8,221.48 L334.2,221.99 L334.6,223.12 L335,223.74 L335.4,224.52 L335.5,224.42 L335.8,224.41 L336.2,222.33 L336.6,221.63 L337,220.76 L337.4,219.36 L337.8,218.01 L338.2,217.4 L338.6,216.61 L339,215.42 L339.4,214 L339.8,213.18 L340.2,212.1 L340.3,211.7 L340.6,211.92 L341,210.45 L341.4,209.63 L341.8,209.87 L342.2,210.09 L342.2,209.67 L342.6,209.67 L343,211.41 L343.4,213.96 L343.8,215.72 L344.2,217.23 L344.6,218.96 L345,220.3 L345.1,220.54 L345.4,219.8 L345.8,218.88 L346.2,217.39 L346.6,215.58 L347,213.23 L347,213.11 L347.4,215.65 L347.8,218.06 L348.2,220.48 L348.6,223.01 L348.9,225.46 L349,226.06 L349.4,223.95 L349.8,222.72 L350.2,221.66 L350.6,219.73 L351,218.09 L351.4,216.07 L351.7,215.78 L351.8,215.89 L352.2,215.49 L352.6,216.57 L353,217.67 L353.4,218.14 L353.8,218.5 L354.2,219.19 L354.6,220.36 L355,221.27 L355.4,221.79 L355.5,221.51 L355.8,220.9 L356.2,221.18 L356.6,221.41 L357,221.49 L357.4,221.39 L357.8,220.48 L358,221.02 L358.2,220.57 L358.6,220.76 L359,220.34 L359.4,219.67 L359.8,218.9 L360.2,218.76 L360.6,218.34 L361,218.06 L361.4,217.23 L361.6,216.65 L361.8,218.02 L362.2,219.73 L362.6,221.4 L363,223.1 L363.4,224.31 L363.8,225.14 L364.2,226.87 L364.4,227.55 L364.6,227.15 L365,226.9 L365.4,226.33 L365.8,224.97 L366.2,224.3 L366.6,224.53 L367,224.4 L367.4,223.29 L367.8,222.77 L368,222.62 L368.2,223.2 L368.6,223.07 L369,222.7 L369.4,222.92 L369.8,223.12 L370.2,223.22 L370.6,223.78 L371,224.64 L371.4,225.11 L371.8,225.1 L372,225.14 L372.2,225.06 L372.6,226.37 L373,226.85 L373.4,227.31 L373.8,227.94 L374.2,228.37 L374.6,228.86 L375,229.17 L375.4,229.43 L375.8,230.47 L376.2,231.16 L376.6,232.32 L376.8,232.73 L377,230.56 L377.4,227.89 L377.8,225.49 L378.2,222.82 L378.6,219.69 L378.7,218.7 L379,218.86 L379.4,219.78 L379.8,220.13 L380.2,220.21 L380.6,221.13 L381,221.33 L381.4,220.7 L381.8,220.26 L382.2,220.21 L382.6,220.55 L383,220.76 L383.4,221.04 L383.8,221.02 L384,221.42 L384.2,220.42 L384.6,220.7 L385,221.73 L385.4,221.81 L385.8,221.3 L386.2,221.33 L386.6,221.01 L387,220.8 L387.4,219.94 L387.8,219.26 L388.2,219.16 L388.6,218.74 L389,218.46 L389.4,218.47 L389.8,218.52 L390,218.8 L390.2,218.72 L390.6,217.99 L391,217.84 L391.4,218.15 L391.8,217.76 L392.2,217.1 L392.6,216.82 L393,216.14 L393.4,214.67 L393.8,213.2 L394.2,212.33 L394.6,211.7 L394.9,211.44 L395,211.12 L395.4,213.7 L395.8,216.62 L396.2,219.93 L396.6,223.16 L396.8,224.67 L397,223.91 L397.4,223.36 L397.8,222.78 L398.2,222.34 L398.6,221.8 L399,221.11 L399.4,220.66 L399.8,219.97 L400.2,219.29 L400.6,218.17 L400.6,217.56 L401,218.59 L401.4,219.82 L401.8,220.52 L402.2,220.25 L402.6,221.31 L403,223.42 L403.4,225.19 L403.8,226.96 L404.2,228.39 L404.6,229.09 L405,229.86 L405.3,230.87 L405.4,230.78 L405.8,229.66 L406.2,228.76 L406.6,227.26 L407,225.69 L407.4,224.45 L407.8,223.12 L408,222.52 L408.2,221.67 L408.6,221.87 L409,221.97 L409.4,221.49 L409.8,221.59 L410.2,221.55 L410.6,221.12 L411,220.34 L411.4,219.68 L411.8,220.33 L412.2,220.23 L412.6,219.72 L413,219.28 L413.4,218.95 L413.8,219.08 L413.9,218.88 L414.2,220.43 L414.6,221.28 L415,221.9 L415.4,223.74 L415.8,224.01 L415.8,223.75 L416.2,224.28 L416.6,223.45 L417,223.85 L417.4,223.47 L417.8,223.32 L418.2,223.2 L418.6,222.78 L419,222.65 L419.4,222.89 L419.8,223.08 L420,222.59 L420.2,222.4 L420.6,222.61 L421,223.19 L421.4,223.39 L421.8,222.94 L422.2,222.04 L422.6,221.98 L423,222 L423.4,221.92 L423.8,222.02 L424.2,222.66 L424.6,222.91 L425,222.19 L425.4,221.99 L425.8,222.44 L426.2,222.84 L426.6,222.39 L427,222.48 L427.4,222.56 L427.8,222.31 L428.2,222.3 L428.6,222.48 L429,222.68 L429.4,222.32 L429.8,222.27 L430,221.88 L430.2,222.48 L430.6,222.38 L431,221.71 L431.4,221.73 L431.8,222.6 L432.2,222.5 L432.6,222.44 L433,222.46 L433.4,221.98 L433.8,221.8 L434.2,221.11 L434.6,221.44 L435,221.2 L435.4,220.89 L435.8,221.46 L436.2,221.91 L436.6,221.22 L437,221.09 L437.4,221.91 L437.8,222.35 L438.2,222.02 L438.6,221.73 L439,221.31 L439.4,221.49 L439.5,220.95" fill="none" stroke="#0000ff" stroke-width="1.2" stroke-linejoin="round" />
<path d="M274.2,215.2 L274.6,216.14 L275,218.12 L275.4,220.25 L275.8,222.02 L276.2,223.26 L276.6,224.7 L276.6,224.7 L277,224.31 L277.4,223.85 L277.8,222.47 L278.2,220.95 L278.5,220.9 L278.6,221.78 L279,223.21 L279.4,224.39 L279.8,226.25 L280.2,228.06 L280.4,229.5 L280.6,226.76 L281,222.26 L281.3,219 L281.4,220.11 L281.8,224.55 L282.2,229.45 L282.3,230.4 L282.6,224.23 L283,216.55 L283.2,213.3 L283.4,216.14 L283.8,222.72 L284.2,229.8 L284.2,229.8 L284.6,228.03 L285,226.36 L285.4,224.87 L285.8,223.22 L286.1,222.8 L286.2,222.72 L286.6,224.01 L287,225.58 L287.4,226.43 L287.8,226.89 L288.2,228.05 L288.6,229.25 L288.9,230.4 L289,230.43 L289.4,231.43 L289.8,233.1 L290.2,235.02 L290.6,236.48 L290.8,237.1 L291,237.28 L291.4,237.76 L291.8,238.27 L292.2,239.27 L292.6,240.48 L293,241.54 L293.4,242.38 L293.7,241.8 L293.8,241.61 L294.2,238.4 L294.6,235 L295,232.19 L295.4,229.49 L295.6,227.6 L295.8,226.84 L296.2,225.48 L296.6,224 L297,222.3 L297.4,220.78 L297.8,219.43 L298.2,217.78 L298.4,217.1 L298.6,217.5 L299,217.98 L299.4,218.54 L299.8,219.84 L300.2,221.31 L300.6,222.06 L301,222.51 L301.3,223.8 L301.4,222.91 L301.8,220.02 L302.2,217.4 L302.6,215.1 L303,212.34 L303.2,211.4 L303.4,211.66 L303.8,212.43 L304.2,213.54 L304.6,214.57 L305,214.83 L305.1,215.2 L305.4,211.6 L305.8,208.45 L306.2,205.19 L306.6,201.65 L307,198.1 L307,198.1 L307.4,199.06 L307.8,200.6 L308.2,202.17 L308.6,203.57 L308.9,204.7 L309,205.93 L309.4,207.23 L309.8,208.69 L310.2,211.1 L310.6,212.82 L311,214.29 L311.4,216.41 L311.8,218.1 L311.8,218.1 L312.2,215.58 L312.6,213.61 L313,212.07 L313.4,210.34 L313.7,208.5 L313.8,209.29 L314.2,210.89 L314.6,211.82 L315,213.2 L315.4,214.63 L315.8,215.77 L316.2,217.33 L316.5,219 L316.6,218.37 L317,215.45 L317.4,212.85 L317.8,210.35 L318.2,207.66 L318.6,204.95 L319,202.16 L319.4,199 L319.4,199 L319.8,208.78 L320.2,217.72 L320.6,226.77 L321,235.63 L321.3,242.8 L321.4,240.15 L321.8,228.53 L322.2,216.63 L322.6,204.08 L322.8,198.1 L323,200.46 L323.4,203.86 L323.8,206.86 L324.2,210.58 L324.6,213.69 L325,216.53 L325.1,218.1 L325.4,218.58 L325.8,219.48 L326.2,219.71 L326.6,220.07 L327,220.74 L327.4,221.21 L327.8,221.8 L328.2,222.86 L328.6,223.87 L328.9,223.8 L329,223.26 L329.4,222.62 L329.8,222.38 L330.2,221.82 L330.6,221.01 L331,220.79 L331.4,221.19 L331.8,220.63 L332.2,219.61 L332.6,219.51 L332.7,219 L333,218.77 L333.4,219.42 L333.8,220.61 L334.2,221.49 L334.6,222.02 L335,222.5 L335.4,223.51 L335.5,223.4 L335.8,223.64 L336.2,221.68 L336.6,220.71 L337,220.26 L337.4,218.68 L337.8,217.28 L338.2,216.65 L338.6,216.01 L339,215.16 L339.4,213.81 L339.8,212.5 L340.2,211.72 L340.3,211.4 L340.6,211.8 L341,210.79 L341.4,209.65 L341.8,209.55 L342.2,209.5 L342.2,209.5 L342.6,210.14 L343,212.07 L343.4,214.32 L343.8,216.03 L344.2,217.33 L344.6,219.13 L345,220.78 L345.1,220.9 L345.4,219.66 L345.8,218.62 L346.2,216.98 L346.6,214.77 L347,212.3 L347,212.3 L347.4,215.04 L347.8,217.31 L348.2,219.81 L348.6,222.58 L348.9,224.7 L349,225.28 L349.4,223.64 L349.8,222.29 L350.2,220.94 L350.6,219.3 L351,217.57 L351.4,215.68 L351.7,215.2 L351.8,215.25 L352.2,215.06 L352.6,215.91 L353,217.27 L353.4,217.65 L353.8,217.86 L354.2,218.53 L354.6,219.42 L355,220.39 L355.4,220.99 L355.5,220.9 L355.8,220.62 L356.2,221.02 L356.6,221.46 L357,221.43 L357.4,221.23 L357.8,220.83 L358,221 L358.2,220.32 L358.6,220.15 L359,219.38 L359.4,218.16 L359.8,217.39 L360.2,217.15 L360.6,216.65 L361,215.93 L361.4,215.4 L361.6,215.2 L361.8,216.34 L362.2,218.19 L362.6,220 L363,221.67 L363.4,222.99 L363.8,224.17 L364.2,225.79 L364.4,226.6 L364.6,226.42 L365,226.17 L365.4,225.68 L365.8,224.42 L366.2,223.75 L366.6,223.9 L367,223.62 L367.4,222.78 L367.8,222.22 L368,222 L368.2,222.64 L368.6,222.32 L369,222.37 L369.4,222.65 L369.8,222.81 L370.2,222.78 L370.6,223.08 L371,223.74 L371.4,223.92 L371.8,223.94 L372,224 L372.2,223.63 L372.6,224.75 L373,225.66 L373.4,226.27 L373.8,226.92 L374.2,227.62 L374.6,228.5 L375,228.93 L375.4,229.29 L375.8,230.14 L376.2,231.3 L376.6,232.14 L376.8,232.3 L377,230.36 L377.4,227.74 L377.8,224.85 L378.2,222.06 L378.6,218.92 L378.7,218.1 L379,218 L379.4,218.69 L379.8,219.06 L380.2,219.17 L380.6,219.8 L381,220.22 L381.4,219.67 L381.8,219.17 L382.2,219.2 L382.6,219.45 L383,219.86 L383.4,220.07 L383.8,220.39 L384,221 L384.2,219.88 L384.6,220.23 L385,221.32 L385.4,221.34 L385.8,220.84 L386.2,220.83 L386.6,220.93 L387,220.51 L387.4,219.77 L387.8,219.3 L388.2,219.23 L388.6,219.07 L389,218.83 L389.4,218.82 L389.8,218.87 L390,219 L390.2,218.7 L390.6,217.73 L391,217.48 L391.4,217.46 L391.8,216.76 L392.2,216.21 L392.6,215.81 L393,215.14 L393.4,213.97 L393.8,212.71 L394.2,212.08 L394.6,211.41 L394.9,211.4 L395,211.45 L395.4,214.09 L395.8,216.94 L396.2,220.27 L396.6,223.2 L396.8,224.7 L397,223.75 L397.4,223.08 L397.8,222.4 L398.2,221.68 L398.6,220.93 L399,220.21 L399.4,219.65 L399.8,219.01 L400.2,218 L400.6,217.1 L400.6,217.1 L401,218.24 L401.4,219.36 L401.8,220.01 L402.2,220.28 L402.6,221.44 L403,223.59 L403.4,225.44 L403.8,226.83 L404.2,227.82 L404.6,228.63 L405,229.35 L405.3,230.4 L405.4,230.04 L405.8,228.88 L406.2,227.71 L406.6,226.56 L407,225.4 L407.4,224.14 L407.8,222.54 L408,222 L408.2,221.46 L408.6,221.7 L409,221.95 L409.4,221.66 L409.8,221.58 L410.2,221.51 L410.6,221.22 L411,220.71 L411.4,220.12 L411.8,220.3 L412.2,220.36 L412.6,219.69 L413,219.2 L413.4,219.06 L413.8,218.85 L413.9,219 L414.2,220.07 L414.6,220.65 L415,221.49 L415.4,223.32 L415.8,223.8 L415.8,223.8 L416.2,223.84 L416.6,223.39 L417,223.27 L417.4,223.49 L417.8,223.55 L418.2,223.3 L418.6,222.76 L419,222.27 L419.4,222.3 L419.8,222.69 L420,222 L420.2,222.06 L420.6,222.02 L421,222.53 L421.4,222.66 L421.8,222.23 L422.2,221.71 L422.6,221.68 L423,221.94 L423.4,221.86 L423.8,221.86 L424.2,222.41 L424.6,222.63 L425,222.25 L425.4,221.93 L425.8,222.31 L426.2,222.5 L426.6,222.07 L427,222.3 L427.4,222.55 L427.8,222.41 L428.2,222.52 L428.6,222.67 L429,222.91 L429.4,222.91 L429.8,223.01 L430,222.5 L430.2,223.32 L430.6,222.74 L431,221.94 L431.4,221.84 L431.8,222.36 L432.2,222.37 L432.6,222.09 L433,221.79 L433.4,221.41 L433.8,221.19 L434.2,221.09 L434.6,221.12 L435,220.96 L435.4,220.78 L435.8,221.2 L436.2,221.34 L436.6,220.62 L437,220.46 L437.4,220.75 L437.8,220.8 L438.2,220.93 L438.6,220.64 L439,220.26 L439.4,220.47 L439.5,220" fill="none" stroke="#ff0000" stroke-width="1.2" stroke-linejoin="round" />
<text x="272" y="200.6" font-size="9" fill="#333" stroke="#333" text-anchor="end" >1</text>
<text x="272" y="225.7" font-size="9" fill="#333" stroke="#333" text-anchor="end" >0</text>
<text x="272" y="251" font-size="9" fill="#333" stroke="#333" text-anchor="end" >-1</text>
<text transform="translate(243.5,222.1) rotate(-90)" font-size="11.3" fill="#222" stroke="#222" text-anchor="middle"><tspan fill="#0000ff" stroke="#0000ff">Ve·(j×B),</tspan><tspan fill="#ff0000" stroke="#ff0000"> j·E</tspan></text>
<text transform="translate(261.5,222.1) rotate(-90)" font-size="11.3" fill="#222" stroke="#222" text-anchor="middle">(nW/m<tspan font-size="9.5" dy="-4.5">3</tspan><tspan dy="4.5">)</tspan></text>
<rect x="273.9" y="274.5" width="165.6" height="75.4" fill="none" stroke="#555555" stroke-width="1.25"/>
<path d="M329.1,349.9 V347.7 M329.1,274.5 V276.7 M384.3,349.9 V347.7 M384.3,274.5 V276.7 M273.9,288.6 H276.1 M439.5,288.6 H437.3 M273.9,312.2 H276.1 M439.5,312.2 H437.3 M273.9,335.6 H276.1 M439.5,335.6 H437.3" stroke="#555555" stroke-width="1.25" fill="none"/>
<path d="M307.1,274.5 V349.9" stroke="#6a6a6a" stroke-width="1.6" stroke-dasharray="1.6,2.6"/>
<path d="M351,274.5 V349.9" stroke="#6a6a6a" stroke-width="1.6" stroke-dasharray="1.6,2.6"/>
<path d="M273.9,312.2 H439.5" stroke="#5a5a5a" stroke-width="1.3" stroke-dasharray="1.9,2.3"/>
<path d="M274.2,312 L274.55,312.5 L274.9,312.74 L275.25,312.75 L275.6,313.43 L275.95,314.07 L276.3,314.38 L276.65,314.79 L277,314.87 L277.35,315 L277.7,316.06 L278.05,316.3 L278.4,315.8 L278.5,315.7 L278.75,313.51 L279.1,309.89 L279.4,308 L279.45,308.73 L279.8,310.95 L280.15,321.81 L280.4,327.1 L280.5,323.7 L280.85,321.14 L281.2,316.23 L281.55,311.82 L281.7,310.9 L281.9,307.48 L282.25,304.39 L282.6,301.3 L282.8,298.5 L282.95,297.76 L283.3,302.82 L283.65,306.57 L284,310.87 L284.2,312.8 L284.35,312.51 L284.7,310.77 L285.05,309.33 L285.4,307.16 L285.75,303.77 L286.1,303.3 L286.1,303.3 L286.45,304.88 L286.8,306.17 L287.15,307.3 L287.5,308.03 L287.85,309.09 L288,310.9 L288.2,311.74 L288.55,312.37 L288.9,312.48 L289.25,313.03 L289.6,313.67 L289.95,314.17 L290.3,314.7 L290.5,315.7 L290.65,313.5 L291,309.41 L291.35,305.1 L291.7,300.98 L291.8,300.4 L292.05,302.63 L292.4,305.92 L292.75,309.39 L293.1,312.78 L293.45,316.05 L293.7,318.5 L293.8,318.67 L294.15,317.53 L294.5,315.56 L294.85,312.76 L295.2,307.61 L295.55,304.48 L295.6,305.2 L295.9,303.95 L296.25,303.69 L296.6,302.21 L296.95,300.31 L297.3,298.27 L297.5,297.6 L297.65,299.27 L298,303.62 L298.35,308.51 L298.7,313.62 L298.8,314.7 L299.05,313.13 L299.4,310.56 L299.75,308.37 L300.1,305.53 L300.45,302.07 L300.7,301.4 L300.8,301.47 L301.15,304.22 L301.5,306.4 L301.85,308.26 L302.2,310.33 L302.55,312.64 L302.9,314.53 L303.2,315.7 L303.25,314.68 L303.6,314.2 L303.95,313.21 L304.3,311.85 L304.65,310.34 L305,308.45 L305.35,307.46 L305.7,307.54 L306,306.1 L306.05,307.15 L306.4,307.99 L306.75,308.91 L307.1,315.23 L307.45,311.16 L307.8,312.26 L308.15,313.53 L308.5,315.58 L308.85,316.89 L308.9,316.6 L309.2,317.15 L309.55,315.91 L309.9,314.83 L310.25,314.61 L310.6,314.28 L310.95,313.42 L311.3,312.51 L311.65,312.38 L312,313.54 L312.35,314.05 L312.7,312.81 L313.05,311.25 L313.4,310.59 L313.7,310 L313.75,309.72 L314.1,310.89 L314.45,312.19 L314.8,312.49 L315.15,312.6 L315.5,313.89 L315.85,315.68 L316.2,316.75 L316.55,318.04 L316.9,319.58 L317.25,320.09 L317.6,320.45 L317.8,321.4 L317.95,319.13 L318.3,317.67 L318.65,315.33 L319,312.56 L319.35,308.6 L319.7,305.6 L320.05,301.14 L320.3,300.4 L320.4,299.59 L320.75,296.42 L321.1,292.4 L321.45,288.16 L321.7,285.2 L321.8,295.54 L322.15,332.15 L322.2,337.5 L322.5,328.6 L322.85,318.23 L323.2,307.5 L323.55,296.73 L323.6,293.8 L323.9,296.54 L324.25,298.45 L324.6,300.64 L324.95,302.32 L325.1,304.2 L325.3,303.75 L325.65,303.9 L326,304.5 L326.35,303.96 L326.7,303.31 L327.05,303.67 L327.4,304.17 L327.75,311.71 L328.1,305.18 L328.45,305.56 L328.8,305.41 L328.9,305.2 L329.15,306.22 L329.5,308.99 L329.85,309.62 L330.2,311.46 L330.55,314.21 L330.8,315.7 L330.9,315.4 L331.25,314.73 L331.6,314.75 L331.95,314 L332.3,314.01 L332.65,314.93 L333,315.04 L333.35,314.02 L333.7,313.07 L334.05,316.3 L334.4,313.6 L334.75,312.96 L335.1,312.19 L335.45,311.75 L335.5,311.9 L335.8,312.17 L336.15,313.52 L336.5,315.26 L336.85,316.14 L337.2,315.63 L337.55,318.17 L337.9,318.97 L338.25,324.71 L338.4,320.4 L338.6,318.56 L338.95,314.97 L339.3,311.66 L339.65,308.2 L339.9,305.2 L340,305.26 L340.35,306.92 L340.7,308.29 L341.05,309.81 L341.4,311.73 L341.75,312.23 L342.1,313.72 L342.2,314.75 L342.45,313.49 L342.8,313.59 L343.15,313.42 L343.5,313.23 L343.85,313.22 L344.2,312.71 L344.55,311.95 L344.9,311.1 L345.25,310.38 L345.6,310.66 L345.95,310.41 L346.3,309.73 L346.65,309.89 L347,309.95 L347.35,309.51 L347.7,307.82 L348.05,309.27 L348.4,309.02 L348.75,310.83 L349.1,307.58 L349.45,300.6 L349.8,307.1 L349.8,307.1 L350.15,307.98 L350.5,309.04 L350.85,307.42 L351.2,313.3 L351.55,314.49 L351.7,314.7 L351.9,314.78 L352.25,313.96 L352.6,313.9 L352.95,313.98 L353.3,313.09 L353.65,312.13 L354,312.88 L354.35,313.11 L354.7,312.45 L355.05,312.49 L355.4,312.2 L355.75,311.98 L356.1,312.31 L356.45,312.18 L356.8,311.55 L357.15,311.18 L357.5,310.61 L357.85,310.29 L358,310 L358.2,310.93 L358.55,310.6 L358.9,310.79 L359.25,310.45 L359.6,310.13 L359.7,310 L359.95,307.3 L360.3,302.97 L360.6,298.5 L360.65,300.07 L361,306.72 L361.35,302.85 L361.7,303.79 L362.05,305.16 L362.4,307.17 L362.5,308 L362.75,308.97 L363.1,309.34 L363.45,310.24 L363.8,312.02 L364.15,313.55 L364.4,313.8 L364.5,313.08 L364.85,311.85 L365.2,311.63 L365.55,311.29 L365.9,310.06 L366.25,308.94 L366.3,309 L366.6,309.31 L366.95,310.74 L367.3,312.19 L367.65,313.89 L368,315.49 L368.2,315.7 L368.35,315.08 L368.7,313.35 L369.05,311.77 L369.4,309.82 L369.75,307.98 L370.1,307.1 L370.1,307.1 L370.45,309.92 L370.8,311.06 L371.15,312.1 L371.5,312.55 L371.85,313.68 L372,314.7 L372.2,314.94 L372.55,314.4 L372.9,313.54 L373.25,312.27 L373.6,311.4 L373.9,310 L373.95,308.58 L374.3,310.94 L374.65,316.49 L375,316.6 L375.35,318.85 L375.7,321.02 L376.05,323.11 L376.4,324.61 L376.75,326.83 L376.8,327.1 L377.1,325.5 L377.45,324.27 L377.8,322.55 L378.15,320 L378.5,317.86 L378.85,315.98 L379.2,314.45 L379.55,313.05 L379.6,311.9 L379.9,309.7 L380.25,308.26 L380.6,307.08 L380.95,304.77 L381.3,297.62 L381.5,304.2 L381.65,304.96 L382,306.79 L382.35,308.67 L382.7,310.51 L383.05,311.02 L383.4,310.9 L383.4,310.9 L383.75,311.12 L384.1,311 L384.45,310.7 L384.8,309.87 L385.15,309.05 L385.5,308.96 L385.85,309.16 L386.2,308.86 L386.55,308.58 L386.9,308.37 L387.25,307.93 L387.6,307.61 L387.95,307.62 L388.3,307.76 L388.65,307.59 L389,306.67 L389.35,305.52 L389.7,305.23 L390.05,305.02 L390.1,305.2 L390.4,305.71 L390.75,307.5 L391.1,308.13 L391.45,309.13 L391.8,310.05 L392.15,310.18 L392.5,316.81 L392.85,312.99 L393,313.8 L393.2,307.86 L393.55,310.92 L393.9,308 L394.25,304.8 L394.6,301.61 L394.95,298.55 L395.2,296.6 L395.3,296.51 L395.65,300.14 L396,304.03 L396.35,307.37 L396.7,310.21 L397.05,312.6 L397.1,313.8 L397.4,313.26 L397.75,313.71 L398.1,313.36 L398.45,312.54 L398.8,312.03 L399.15,311.84 L399.5,311.69 L399.85,312.35 L400.2,312.87 L400.55,311.85 L400.6,311.9 L400.9,311.42 L401.25,311.47 L401.6,310.49 L401.95,305.51 L402.3,310.6 L402.65,310.9 L403,313.72 L403.35,308.16 L403.7,306.2 L404.05,305.68 L404.4,308 L404.4,308 L404.75,313.03 L405.1,316.98 L405.45,321.03 L405.8,326.02 L405.9,326.1 L406.15,325.05 L406.5,323.31 L406.85,321.33 L407.2,318.67 L407.55,316.67 L407.9,317.49 L408.2,312.8 L408.25,313.11 L408.6,311.4 L408.95,311.56 L409.3,312.28 L409.65,311.39 L410,310.02 L410.35,309.3 L410.7,309.07 L411.05,308.8 L411.4,308.54 L411.75,308.94 L412.1,309.22 L412.45,308.98 L412.8,308.42 L413.15,307.76 L413.5,307.16 L413.85,305.82 L414.2,304.6 L414.3,305.2 L414.55,304.95 L414.9,305.71 L415.25,307.94 L415.6,308.63 L415.95,308.76 L416.3,310.33 L416.65,311.78 L416.7,311.5 L417,312.03 L417.35,311.43 L417.7,311.23 L418.05,311.07 L418.4,311.33 L418.75,311.43 L419.1,311.6 L419.45,311.68 L419.8,310.13 L420.15,309.32 L420.5,309.77 L420.85,310.3 L421.2,310.74 L421.55,310.81 L421.9,310.82 L422.25,310.64 L422.6,310.75 L422.95,310.83 L423.3,310.54 L423.4,310 L423.65,311 L424,311.95 L424.35,311.83 L424.7,310.64 L425.05,310.53 L425.4,310.97 L425.75,311.21 L426.1,312.01 L426.45,311.49 L426.8,309.53 L427.15,309.56 L427.5,310.77 L427.85,310.51 L428.2,309.73 L428.55,309.75 L428.9,310.51 L429.1,310 L429.25,310.07 L429.6,310.41 L429.95,311.39 L430.3,311.25 L430.65,310.51 L431,309.76 L431.35,308.99 L431.7,308.92 L432.05,309.94 L432.4,311.18 L432.75,311.85 L433.1,312.08 L433.45,312.03 L433.8,311.75 L434.15,311.19 L434.5,311.12 L434.85,311.6 L435.2,310.96 L435.55,310.42 L435.9,311.25 L436.25,312.39 L436.6,312.91 L436.95,312.31 L437.3,311.57 L437.65,311.49 L438,312.04 L438.35,312.09 L438.7,311.75 L439.05,311.69 L439.4,311.72 L439.5,312.2" fill="none" stroke="#000000" stroke-width="1.1" stroke-linejoin="round" />
<text x="272" y="292.1" font-size="9" fill="#333" stroke="#333" text-anchor="end" >0.5</text>
<text x="272" y="315.7" font-size="9" fill="#333" stroke="#333" text-anchor="end" >0</text>
<text x="272" y="339.1" font-size="9" fill="#333" stroke="#333" text-anchor="end" >-0.5</text>
<text transform="translate(236.5,312) rotate(-90)" font-size="11.3" fill="#222" stroke="#222" text-anchor="middle">j·E′</text>
<text transform="translate(253.6,312) rotate(-90)" font-size="11.3" fill="#222" stroke="#222" text-anchor="middle">(nW/m<tspan font-size="9.5" dy="-4.5">3</tspan><tspan dy="4.5">)</tspan></text>
<rect x="273.9" y="364.7" width="165.6" height="75.4" fill="none" stroke="#555555" stroke-width="1.25"/>
<path d="M329.1,440.1 V437.9 M329.1,364.7 V366.9 M384.3,440.1 V437.9 M384.3,364.7 V366.9 M273.9,377.1 H276.1 M439.5,377.1 H437.3 M273.9,402.2 H276.1 M439.5,402.2 H437.3 M273.9,427.5 H276.1 M439.5,427.5 H437.3" stroke="#555555" stroke-width="1.25" fill="none"/>
<path d="M307.1,364.7 V440.1" stroke="#6a6a6a" stroke-width="1.6" stroke-dasharray="1.6,2.6"/>
<path d="M351,364.7 V440.1" stroke="#6a6a6a" stroke-width="1.6" stroke-dasharray="1.6,2.6"/>
<path d="M273.9,413.95 L274.18,392.75 L274.46,413.03 L274.74,397.37 L275.02,412.12 L275.3,387.18 L275.58,409.79 L275.86,397.14 L276.14,417.1 L276.42,391.41 L276.7,407.89 L276.98,391.35 L277.26,417.98 L277.54,396.33 L277.82,415.89 L278.1,390.75 L278.38,408.25 L278.66,396.4 L278.94,417.81 L279.22,394.97 L279.5,410.57 L279.78,391.02 L280.06,410.64 L280.34,397.16 L280.62,408.84 L280.9,393.25 L281.18,415.16 L281.46,391.56 L281.74,410.55 L282.02,396.21 L282.3,415.28 L282.58,396.3 L282.86,414.24 L283.14,393.26 L283.42,411.78 L283.7,394.63 L283.98,408.08 L284.26,396.59 L284.54,412.75 L284.82,395.81 L285.1,406.97 L285.38,396.54 L285.66,416.6 L285.94,390.97 L286.22,411.65 L286.5,394.82 L286.78,414.75 L287.06,396.18 L287.34,412.11 L287.62,397.65 L287.9,412.17 L288.18,387.67 L288.46,412.88 L288.74,420.2 L289.02,386 L289.3,395.97 L289.58,415.6 L289.86,397.81 L290.14,406.55 L290.42,397.58 L290.7,408.48 L290.98,389.65 L291.26,410.67 L291.54,392.64 L291.82,406.51 L292.1,397.29 L292.38,408.66 L292.66,393.23 L292.94,412.61 L293.22,393.91 L293.5,407.7 L293.78,397.41 L294.06,408.83 L294.34,396.96 L294.62,412.39 L294.9,390.37 L295.18,412.83 L295.46,397.87 L295.74,412.51 L296.02,398.28 L296.3,406.58 L296.58,392.86 L296.86,407.86 L297.14,391.22 L297.42,411.55 L297.7,393.36 L297.98,410.65 L298.26,389.85 L298.54,413.54 L298.82,398.04 L299.1,415.75 L299.38,395.3 L299.66,407.94 L299.94,390.07 L300.22,415.08 L300.5,391.25 L300.78,412.53 L301.06,397.91 L301.34,407.96 L301.62,390.5 L301.9,416.65 L302.18,396.32 L302.46,413.38 L302.74,397.4 L303.02,413.3 L303.3,395.54 L303.58,406.89 L303.86,396.94 L304.14,411.15 L304.42,394.4 L304.7,412.44 L304.98,395.76 L305.26,411.14 L305.54,395.64 L305.82,413.07 L306.1,398.01 L306.38,410.71 L306.66,393.79 L306.94,406.39 L307.22,391.92 L307.5,410.86 L307.78,389.77 L308.06,406.76 L308.34,396.38 L308.62,411.49 L308.9,393 L309.18,408.3 L309.46,398.74 L309.74,407.25 L310.02,399.25 L310.3,404.91 L310.58,399.46 L310.86,405.82 L311.14,401.05 L311.42,404.85 L311.7,398.86 L311.98,403.85 L312.26,400.87 L312.54,404.25 L312.82,401.19 L313.1,404.82 L313.38,400.49 L313.66,404.3 L313.94,399.84 L314.22,403.44 L314.5,400.23 L314.78,405.57 L315.06,396.94 L315.34,406.62 L315.62,397.77 L315.9,405.59 L316.18,396.57 L316.46,413.02 L316.74,398.64 L317.02,409.63 L317.3,397.8 L317.58,414.08 L317.86,392.18 L318.14,406.86 L318.42,389.82 L318.7,407.65 L318.98,393 L319.26,407.43 L319.54,396.67 L319.82,406.45 L320.1,396.52 L320.38,408.97 L320.66,397.91 L320.94,406.51 L321.22,397.84 L321.5,415.1 L321.78,394.96 L322.06,415.73 L322.34,394.81 L322.62,409.86 L322.9,396.7 L323.18,410.86 L323.46,397.73 L323.74,409.64 L324.02,398.3 L324.3,404.63 L324.58,399.07 L324.86,403.86 L325.14,399.75 L325.42,404.87 L325.7,397.78 L325.98,408.83 L326.26,399.77 L326.54,406.99 L326.82,395.48 L327.1,408.1 L327.38,398.8 L327.66,406.83 L327.94,392.99 L328.22,408.03 L328.5,394.73 L328.78,406.95 L329.06,392.86 L329.34,409.48 L329.62,392.19 L329.9,407.32 L330.18,397.73 L330.46,406.07 L330.74,395.93 L331.02,405.11 L331.3,398.51 L331.58,407.28 L331.86,399.54 L332.14,404.45 L332.42,400.35 L332.7,404.31 L332.98,398.49 L333.26,404.48 L333.54,398.4 L333.82,409.66 L334.1,397.58 L334.38,405.9 L334.66,393.8 L334.94,411.37 L335.22,394.47 L335.5,406.68 L335.78,396.43 L336.06,406.76 L336.34,392.27 L336.62,405.48 L336.9,392.57 L337.18,406.6 L337.46,398.37 L337.74,411.78 L338.02,393.03 L338.3,405.77 L338.58,397.33 L338.86,406.02 L339.14,387.2 L339.42,415.7 L339.7,397.47 L339.98,407.29 L340.26,398.8 L340.54,405.74 L340.82,398.84 L341.1,409.95 L341.38,398.39 L341.66,407.55 L341.94,398.2 L342.22,407.7 L342.5,396.6 L342.78,406.28 L343.06,398.67 L343.34,410.04 L343.62,394.38 L343.9,406.44 L344.18,398.48 L344.46,406.43 L344.74,398 L345.02,408.87 L345.3,398.85 L345.58,405.03 L345.86,396.38 L346.14,406.1 L346.42,400.33 L346.7,405.29 L346.98,398.09 L347.26,405.31 L347.54,400.06 L347.82,404.76 L348.1,397.88 L348.38,405.8 L348.66,400.3 L348.94,404.99 L349.22,397.16 L349.5,404.37 L349.78,398.76 L350.06,406.59 L350.34,399.02 L350.62,407.68 L350.9,399.74 L351.18,409.33 L351.46,396.59 L351.74,408.42 L352.02,398.33 L352.3,405.64 L352.58,399.54 L352.86,404.16 L353.14,398.95 L353.42,404.53 L353.7,397.64 L353.98,403.94 L354.26,384.2 L354.54,418.4 L354.82,384.2 L355.1,404.14 L355.38,399.05 L355.66,404.63 L355.94,399.79 L356.22,403.91 L356.5,400.82 L356.78,403.64 L357.06,400.29 L357.34,406.19 L357.62,396.85 L357.9,408 L358.18,393.23 L358.46,405.68 L358.74,398.2 L359.02,408.06 L359.3,397.6 L359.58,411.44 L359.86,396.47 L360.14,416.32 L360.42,382.2 L360.7,420.2 L360.98,396.93 L361.26,418.37 L361.54,394.24 L361.82,409.38 L362.1,394.83 L362.38,413.02 L362.66,390.93 L362.94,409.68 L363.22,399.22 L363.5,405.31 L363.78,399.7 L364.06,403.45 L364.34,398.71 L364.62,405.31 L364.9,398.67 L365.18,404.35 L365.46,398.68 L365.74,404.77 L366.02,399.04 L366.3,393.2 L366.58,410.3 L366.86,406.38 L367.14,400.27 L367.42,405.42 L367.7,401.15 L367.98,404.03 L368.26,401.57 L368.54,402.97 L368.82,400.78 L369.1,403.17 L369.38,401.44 L369.66,402.96 L369.94,400.91 L370.22,403.17 L370.5,400.08 L370.78,404 L371.06,400.88 L371.34,403.86 L371.62,401.26 L371.9,403.47 L372.18,400.1 L372.46,404.57 L372.74,401.29 L373.02,403.36 L373.3,400.06 L373.58,403.34 L373.86,400.96 L374.14,403.12 L374.42,399.76 L374.7,403.16 L374.98,400.14 L375.26,403.24 L375.54,400.82 L375.82,405.68 L376.1,400.88 L376.38,405.57 L376.66,400.51 L376.94,406.15 L377.22,400 L377.5,405.27 L377.78,397.65 L378.06,404.06 L378.34,399.37 L378.62,407.94 L378.9,399.58 L379.18,392.2 L379.46,411.2 L379.74,406.27 L380.02,397.73 L380.3,404.59 L380.58,399.98 L380.86,402.95 L381.14,400.26 L381.42,403.27 L381.7,400.88 L381.98,403.58 L382.26,401.12 L382.54,404.74 L382.82,400.33 L383.1,403.85 L383.38,401.17 L383.66,404.52 L383.94,400.05 L384.22,405.4 L384.5,400.1 L384.78,403.76 L385.06,399.78 L385.34,403.51 L385.62,400.7 L385.9,404.68 L386.18,399.41 L386.46,406.39 L386.74,400.84 L387.02,406.2 L387.3,399.94 L387.58,403.66 L387.86,399.85 L388.14,396.2 L388.42,407.6 L388.7,404.43 L388.98,398.12 L389.26,404.67 L389.54,396.2 L389.82,407.6 L390.1,400.65 L390.38,404.52 L390.66,399.37 L390.94,403.69 L391.22,401.1 L391.5,403.61 L391.78,400.65 L392.06,403.12 L392.34,401.21 L392.62,402.98 L392.9,401.04 L393.18,403.57 L393.46,401.61 L393.74,404.09 L394.02,401.2 L394.3,403.27 L394.58,401.03 L394.86,403.84 L395.14,401 L395.42,403.68 L395.7,401.2 L395.98,403.17 L396.26,400.77 L396.54,403.07 L396.82,401.37 L397.1,404.2 L397.38,401.24 L397.66,404.08 L397.94,399.46 L398.22,405.06 L398.5,400.9 L398.78,404.58 L399.06,399.2 L399.34,404.71 L399.62,399.35 L399.9,408.7 L400.18,399.79 L400.46,408.13 L400.74,396.71 L401.02,404.69 L401.3,399 L401.58,406.17 L401.86,395.89 L402.14,404.3 L402.42,395.95 L402.7,404.37 L402.98,399.3 L403.26,404.3 L403.54,395.42 L403.82,408.92 L404.1,398.7 L404.38,407.23 L404.66,400.04 L404.94,406.32 L405.22,399.09 L405.5,406.31 L405.78,384.2 L406.06,418.4 L406.34,398.47 L406.62,405.99 L406.9,398.41 L407.18,405.31 L407.46,398.32 L407.74,407.28 L408.02,397.67 L408.3,404.29 L408.58,398.45 L408.86,403.96 L409.14,399.44 L409.42,404.77 L409.7,400.38 L409.98,403.82 L410.26,401.21 L410.54,404.27 L410.82,400.31 L411.1,403.45 L411.38,401.27 L411.66,404.32 L411.94,400.79 L412.22,403 L412.5,401.03 L412.78,403.01 L413.06,400.85 L413.34,403.21 L413.62,401.31 L413.9,404.22 L414.18,401.06 L414.46,404.82 L414.74,400.24 L415.02,403.53 L415.3,401.02 L415.58,403.19 L415.86,400.87 L416.14,403.9 L416.42,401.39 L416.7,407.2 L416.98,397.7 L417.26,402.91 L417.54,401.57 L417.82,402.87 L418.1,401.25 L418.38,402.8 L418.66,401.13 L418.94,403.06 L419.22,401.48 L419.5,403.76 L419.78,400.66 L420.06,402.81 L420.34,401.31 L420.62,403.22 L420.9,401.43 L421.18,403.01 L421.46,400.49 L421.74,403.32 L422.02,400.49 L422.3,403.02 L422.58,400.95 L422.86,403.31 L423.14,400.67 L423.42,402.93 L423.7,401.6 L423.98,403.82 L424.26,400.4 L424.54,402.83 L424.82,400.39 L425.1,403.31 L425.38,401.54 L425.66,403.03 L425.94,401.45 L426.22,403.43 L426.5,400 L426.78,403.26 L427.06,400.62 L427.34,403.15 L427.62,401.43 L427.9,404.47 L428.18,400.13 L428.46,402.96 L428.74,401.27 L429.02,403.6 L429.3,400.37 L429.58,403.23 L429.86,401.43 L430.14,403.19 L430.42,400.73 L430.7,404.29 L430.98,401.48 L431.26,403.9 L431.54,400.72 L431.82,403.2 L432.1,401.01 L432.38,402.89 L432.66,401 L432.94,403.89 L433.22,401.29 L433.5,403.47 L433.78,400.76 L434.06,402.88 L434.34,401.2 L434.62,403.03 L434.9,401.45 L435.18,403.42 L435.46,401.61 L435.74,403.26 L436.02,400.84 L436.3,402.88 L436.58,401.65 L436.86,403.73 L437.14,400.71 L437.42,402.95 L437.7,400.77 L437.98,402.82 L438.26,401.61 L438.54,403.35 L438.82,401.68 L439.1,402.89 L439.38,401.19" fill="none" stroke="#000000" stroke-width="0.9" stroke-linejoin="round" />
<text x="272" y="380.6" font-size="9" fill="#333" stroke="#333" text-anchor="end" >10</text>
<text x="272" y="405.7" font-size="9" fill="#333" stroke="#333" text-anchor="end" >0</text>
<text x="272" y="431" font-size="9" fill="#333" stroke="#333" text-anchor="end" >-10</text>
<text transform="translate(237.3,402.2) rotate(-90)" font-size="11.3" fill="#222" stroke="#222" text-anchor="middle">E<tspan font-size="8" dy="2.5">||</tspan></text>
<text transform="translate(255.6,402.2) rotate(-90)" font-size="11.3" fill="#222" stroke="#222" text-anchor="middle">(mV/m)</text></svg></body></html>
